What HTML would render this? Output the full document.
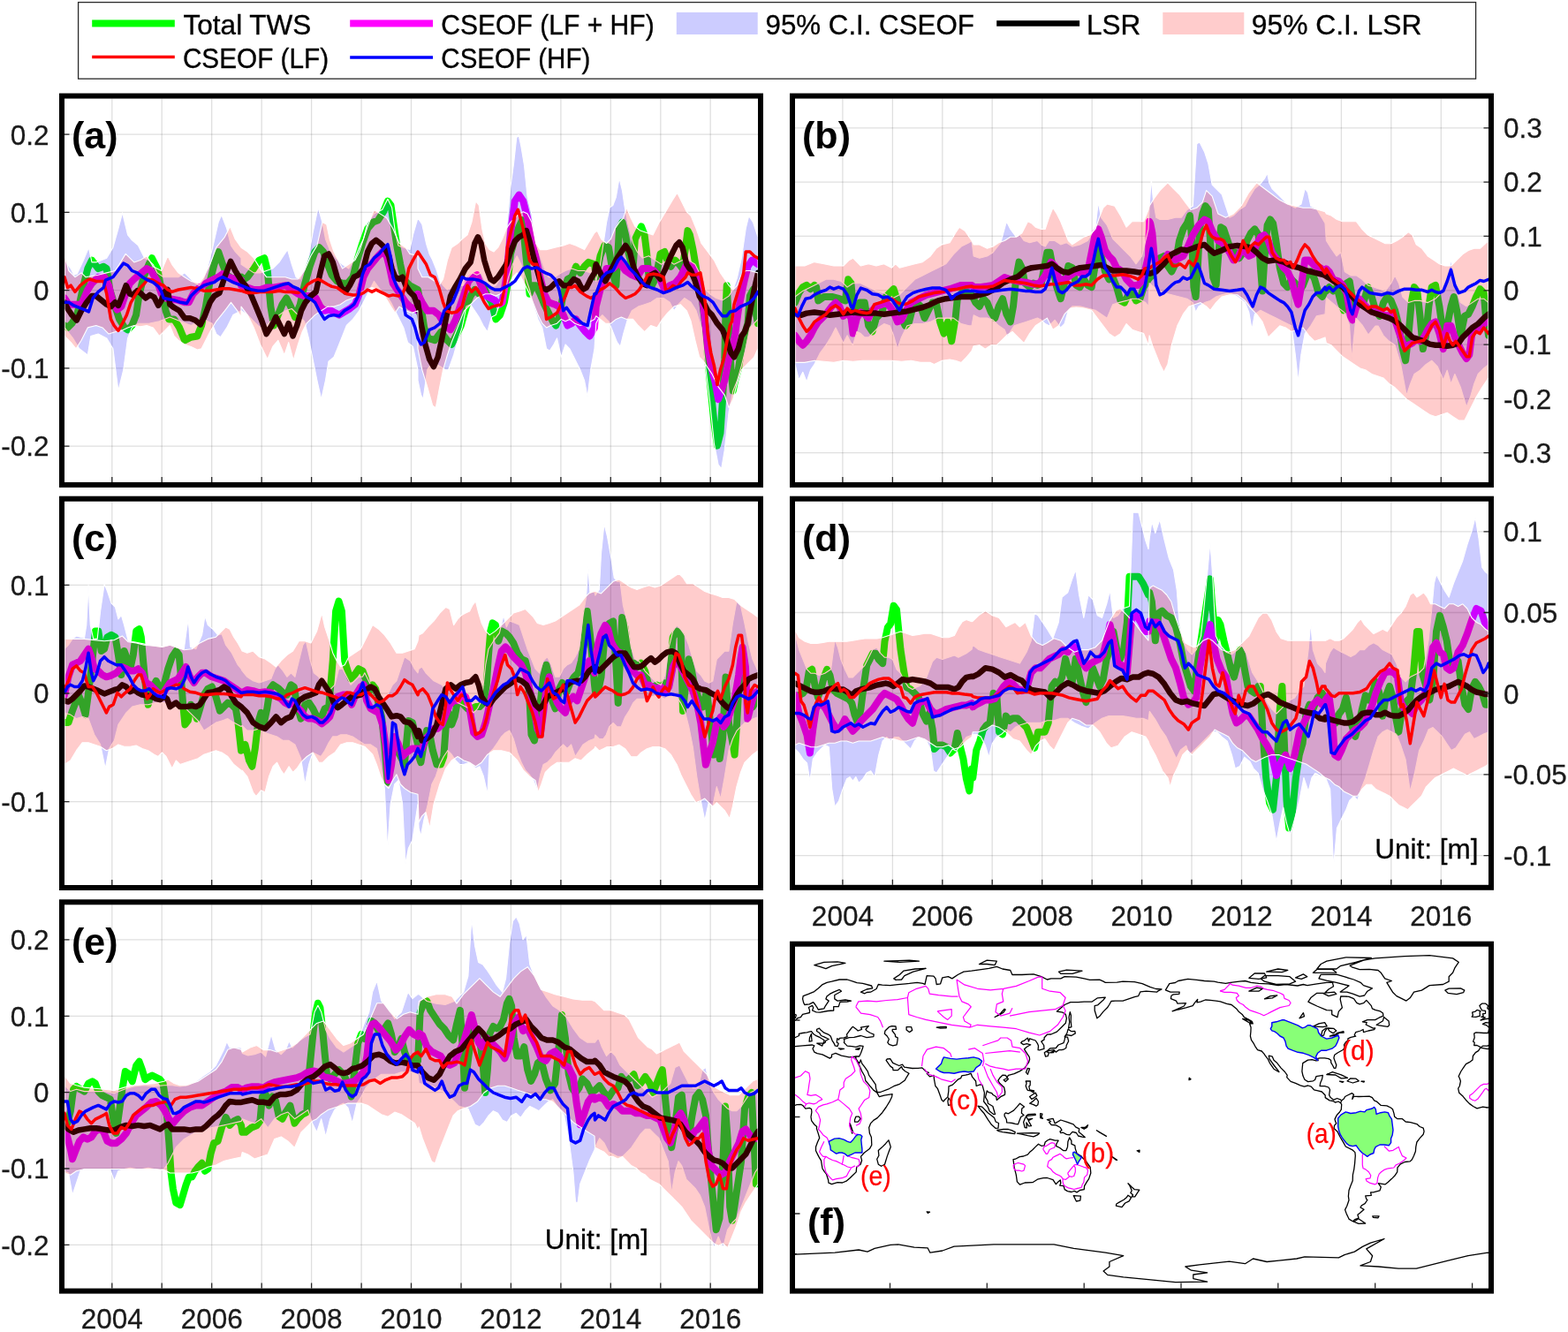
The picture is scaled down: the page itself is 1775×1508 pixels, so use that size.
<!DOCTYPE html>
<html><head><meta charset="utf-8"><title>TWS</title>
<style>html,body{margin:0;padding:0;background:#fff;} svg{display:block;}</style>
</head><body>
<svg width="1775" height="1508" viewBox="0 0 1775 1508" font-family="'Liberation Sans', Arial, Helvetica, sans-serif">
<rect width="100%" height="100%" fill="#fff"/>
<rect x="88.6" y="2.6" width="1582" height="86.6" fill="#fff" stroke="#2a2a2a" stroke-width="1.3"/>
<line x1="104.2" y1="26.5" x2="197.8" y2="26.5" stroke="#00ff00" stroke-width="8"/>
<text x="207.6" y="38.9" font-size="31.5" fill="#000" stroke="#000" stroke-width="0.35">Total TWS</text>
<line x1="104.2" y1="64.6" x2="197.8" y2="64.6" stroke="#ff0000" stroke-width="3.5"/>
<text x="206.9" y="76.6" font-size="31.5" fill="#000" stroke="#000" stroke-width="0.35" textLength="165.2" lengthAdjust="spacingAndGlyphs">CSEOF (LF)</text>
<line x1="396.2" y1="26.5" x2="490.0" y2="26.5" stroke="#ff00ff" stroke-width="8"/>
<text x="499.3" y="38.9" font-size="31.5" fill="#000" stroke="#000" stroke-width="0.35" textLength="241.4" lengthAdjust="spacingAndGlyphs">CSEOF (LF + HF)</text>
<line x1="396.2" y1="65.0" x2="490.0" y2="65.0" stroke="#0000ff" stroke-width="3.5"/>
<text x="499.3" y="76.6" font-size="31.5" fill="#000" stroke="#000" stroke-width="0.35" textLength="169.0" lengthAdjust="spacingAndGlyphs">CSEOF (HF)</text>
<rect x="765.8" y="14" width="91.9" height="25" fill="#ccccff"/>
<text x="866.6" y="38.9" font-size="31.5" fill="#000" stroke="#000" stroke-width="0.35" textLength="236.2" lengthAdjust="spacingAndGlyphs">95% C.I. CSEOF</text>
<line x1="1128.2" y1="26.5" x2="1222.1" y2="26.5" stroke="#000000" stroke-width="6.5"/>
<text x="1230.0" y="38.9" font-size="31.5" fill="#000" stroke="#000" stroke-width="0.35">LSR</text>
<rect x="1316.3" y="14" width="92.0" height="25" fill="#ffcccc"/>
<text x="1416.8" y="38.9" font-size="31.5" fill="#000" stroke="#000" stroke-width="0.35" textLength="192.7" lengthAdjust="spacingAndGlyphs">95% C.I. LSR</text>
<g id="pana">
<clipPath id="clipa"><rect x="73" y="111.6" width="785.0" height="434.3"/></clipPath>
<path d="M126.8 111.6V545.9 M183.2 111.6V545.9 M239.7 111.6V545.9 M296.2 111.6V545.9 M352.6 111.6V545.9 M409.1 111.6V545.9 M465.5 111.6V545.9 M522.0 111.6V545.9 M578.4 111.6V545.9 M634.9 111.6V545.9 M691.3 111.6V545.9 M747.8 111.6V545.9 M804.2 111.6V545.9" stroke="#262626" stroke-opacity="0.15" stroke-width="1.3" fill="none"/>
<path d="M73 152.2H858 M73 240.4H858 M73 328.6H858 M73 416.9H858 M73 505.1H858" stroke="#262626" stroke-opacity="0.15" stroke-width="1.3" fill="none"/>
<g clip-path="url(#clipa)"><path d="M73.0 368.5 L76.6 370.9 L81.4 366.2 L87.3 356.6 L94.5 323.2 L99.3 304.1 L104.0 294.6 L111.2 304.1 L117.2 301.7 L120.7 304.1 L124.3 328.0 L130.3 347.1 L135.1 361.4 L141.0 370.9 L144.6 373.3 L149.4 368.5 L154.1 356.6 L157.7 332.7 L162.5 313.7 L168.5 299.3 L172.0 292.2 L178.0 304.1 L182.8 328.0 L187.6 351.8 L191.1 361.4 L197.1 361.4 L203.1 370.9 L209.0 385.3 L216.2 381.7 L223.4 380.5 L228.1 368.5 L232.9 347.1 L237.7 318.4 L242.5 299.3 L247.2 285.0 L252.0 299.3 L256.8 311.3 L263.9 316.0 L273.0 313.7 L273.0 318.4 L280.2 313.7 L287.3 304.1 L293.3 294.6 L299.3 292.2 L302.8 306.5 L306.4 347.1 L310.0 368.5 L314.8 356.6 L319.5 344.7 L324.3 337.5 L329.1 347.1 L333.9 359.0 L339.8 344.7 L344.6 323.2 L350.6 301.7 L356.5 285.0 L361.3 280.2 L366.1 285.0 L370.9 299.3 L375.6 311.3 L381.6 318.4 L387.6 320.8 L393.5 320.8 L399.5 313.7 L404.3 294.6 L410.2 275.5 L416.2 258.8 L422.2 251.6 L428.1 249.2 L434.1 239.7 L438.9 227.7 L442.5 232.5 L446.0 256.4 L449.6 280.2 L453.2 299.3 L456.8 316.0 L463.9 323.2 L473.0 328.0 L473.0 328.0 L476.6 347.1 L480.2 370.9 L484.9 382.9 L492.1 385.3 L499.3 375.7 L506.4 385.3 L511.2 390.0 L517.2 378.1 L521.9 368.5 L527.9 347.1 L532.7 335.1 L537.4 328.0 L542.2 332.7 L547.0 323.2 L551.8 335.1 L556.5 342.3 L561.3 361.4 L566.1 356.6 L570.9 342.3 L574.4 323.2 L578.0 287.4 L582.8 270.7 L587.6 256.4 L591.1 249.2 L593.5 270.7 L595.9 294.6 L599.5 332.7 L603.1 323.2 L606.7 323.2 L611.4 332.7 L616.2 344.7 L621.0 354.2 L625.7 363.8 L629.3 368.5 L632.9 359.0 L637.7 332.7 L642.5 316.0 L647.2 313.7 L652.0 301.7 L656.8 308.9 L661.5 301.7 L666.3 296.9 L673.0 299.3 L674.7 313.7 L679.5 289.8 L684.3 277.9 L689.0 280.2 L693.8 308.9 L697.4 323.2 L701.0 258.8 L704.5 251.6 L708.1 265.9 L711.7 287.4 L716.5 304.1 L718.9 270.7 L722.4 263.5 L726.0 256.4 L729.6 265.9 L732.0 285.0 L734.4 311.3 L738.0 323.2 L742.7 313.7 L747.5 287.4 L752.3 285.0 L755.9 296.9 L759.4 301.7 L764.2 294.6 L769.0 299.3 L772.6 304.1 L776.1 280.2 L778.5 261.1 L780.9 265.9 L784.5 282.6 L788.1 304.1 L791.7 323.2 L795.2 342.3 L798.8 370.9 L801.2 406.7 L803.6 430.6 L806.0 454.5 L808.4 478.3 L811.9 504.6 L815.5 490.3 L817.9 454.5 L820.3 406.7 L821.5 351.8 L822.7 323.2 L825.1 366.2 L827.5 418.7 L829.8 442.5 L832.2 430.6 L835.8 418.7 L839.4 394.8 L843.0 378.1 L846.5 366.2 L848.9 335.1 L852.5 328.0 L856.1 356.6 L858.0 366.2" fill="none" stroke="#00ff00" stroke-width="8" stroke-linejoin="round" stroke-linecap="round"/>
<path d="M73.0 337.5 L77.8 344.7 L84.9 344.7 L92.1 344.7 L99.3 328.0 L104.0 320.8 L111.2 313.7 L118.3 313.7 L123.1 323.2 L127.9 342.3 L132.7 350.6 L137.4 347.1 L142.2 332.7 L147.0 320.8 L151.8 316.0 L158.9 310.1 L166.1 304.1 L170.9 306.5 L178.0 318.4 L182.8 332.7 L187.6 337.5 L194.7 338.7 L201.9 339.9 L209.0 342.3 L213.8 342.3 L218.6 332.7 L225.7 325.6 L232.9 320.8 L240.1 317.2 L247.2 313.7 L252.0 310.1 L259.2 313.7 L266.3 316.0 L273.0 317.2 L273.0 323.2 L280.2 325.6 L287.3 328.0 L294.5 328.0 L301.6 325.6 L308.8 325.6 L316.0 324.4 L323.1 323.2 L330.3 328.0 L337.4 332.7 L344.6 335.1 L351.8 335.1 L357.7 337.5 L362.5 347.1 L367.3 351.8 L373.2 350.6 L379.2 354.2 L384.0 356.6 L389.9 353.0 L395.9 349.5 L401.9 344.7 L406.7 332.7 L411.4 313.7 L416.2 304.1 L422.2 296.9 L428.1 289.8 L432.9 285.0 L437.7 289.8 L441.3 304.1 L444.8 320.8 L449.6 328.0 L454.4 335.1 L459.2 342.3 L463.9 347.1 L468.7 349.5 L473.0 351.8 L473.0 332.7 L477.8 342.3 L483.7 351.8 L490.9 351.8 L496.9 356.6 L504.0 368.5 L510.0 373.3 L516.0 361.4 L520.7 347.1 L525.5 332.7 L530.3 318.4 L535.1 313.7 L539.8 311.3 L544.6 323.2 L550.6 335.1 L555.3 337.5 L560.1 339.9 L564.9 344.7 L568.5 342.3 L573.2 313.7 L578.0 263.5 L582.8 227.7 L587.6 220.6 L592.3 227.7 L597.1 246.8 L601.9 270.7 L606.7 292.2 L611.4 313.7 L616.2 332.7 L621.0 342.3 L628.1 344.7 L632.9 347.1 L637.7 356.6 L642.5 368.5 L647.2 366.2 L652.0 361.4 L656.8 368.5 L662.7 375.7 L667.5 380.5 L673.0 370.9 L674.7 347.1 L677.1 337.5 L681.9 318.4 L686.6 304.1 L693.8 304.1 L701.0 296.9 L708.1 306.5 L715.3 311.3 L721.2 313.7 L727.2 304.1 L734.4 304.1 L740.3 306.5 L746.3 313.7 L752.3 328.0 L758.2 323.2 L764.2 320.8 L770.2 313.7 L777.3 299.3 L783.3 301.7 L788.1 308.9 L792.8 320.8 L797.6 359.0 L801.2 394.8 L806.0 418.7 L809.6 433.0 L813.1 452.1 L816.7 442.5 L820.3 430.6 L825.1 406.7 L828.6 394.8 L832.2 378.1 L835.8 351.8 L839.4 332.7 L843.0 316.0 L846.5 301.7 L851.3 294.6 L858.0 299.3" fill="none" stroke="#ff00ff" stroke-width="8" stroke-linejoin="round" stroke-linecap="round"/>
<path d="M73.0 294.6 L80.2 304.1 L83.7 311.3 L87.3 310.1 L94.5 294.6 L100.4 280.2 L104.0 296.9 L108.8 296.9 L120.7 292.2 L127.9 280.2 L133.9 258.8 L138.6 240.9 L144.6 265.9 L149.4 271.9 L156.5 277.9 L163.7 292.2 L168.5 294.6 L173.2 299.3 L178.0 308.9 L185.2 313.7 L194.7 313.7 L201.9 313.7 L209.0 308.9 L213.8 313.7 L221.0 320.8 L225.7 323.2 L230.5 316.0 L235.3 301.7 L240.1 282.6 L247.2 251.6 L250.8 243.2 L256.8 258.8 L261.5 277.9 L266.3 285.0 L273.0 292.2 L273.0 299.3 L280.2 304.1 L287.3 308.9 L294.5 308.9 L301.6 306.5 L308.8 304.1 L316.0 296.9 L320.7 289.8 L325.5 282.6 L330.3 299.3 L335.1 313.7 L339.8 316.0 L344.6 304.1 L349.4 289.8 L354.1 263.5 L360.1 234.9 L364.9 251.6 L368.5 270.7 L373.2 282.6 L380.4 292.2 L387.6 299.3 L394.7 304.1 L401.9 292.2 L406.7 280.2 L411.4 270.7 L416.2 251.6 L423.4 242.1 L428.1 239.7 L432.9 237.3 L438.9 225.3 L443.6 234.9 L447.2 261.1 L450.8 277.9 L456.8 280.2 L463.9 282.6 L467.5 265.9 L473.0 246.8 L473.0 246.8 L477.8 254.0 L482.5 275.5 L486.1 287.4 L489.7 294.6 L494.5 306.5 L498.1 318.4 L501.6 323.2 L506.4 328.0 L511.2 325.6 L518.3 323.2 L524.3 323.2 L530.3 313.7 L535.1 308.9 L539.8 311.3 L544.6 308.9 L551.8 323.2 L556.5 325.6 L561.3 323.2 L568.5 311.3 L573.2 261.1 L578.0 211.0 L581.6 184.8 L584.7 156.1 L587.1 152.6 L589.9 165.7 L593.5 187.2 L597.1 223.0 L601.9 242.1 L606.7 275.5 L611.4 289.8 L616.2 304.1 L621.0 313.7 L628.1 313.7 L635.3 308.9 L640.1 306.5 L647.2 304.1 L654.4 306.5 L661.5 306.5 L668.7 308.9 L673.0 304.1 L674.7 318.4 L679.5 299.3 L686.6 251.6 L690.2 234.9 L693.8 232.5 L697.4 223.0 L701.0 201.5 L704.5 215.8 L706.9 232.5 L710.5 251.6 L716.5 275.5 L721.2 285.0 L727.2 292.2 L734.4 289.8 L741.5 294.6 L748.7 299.3 L755.9 294.6 L763.0 299.3 L772.6 294.6 L779.7 294.6 L786.9 299.3 L794.0 313.7 L798.8 328.0 L803.6 332.7 L810.7 337.5 L817.9 339.9 L825.1 335.1 L829.8 328.0 L834.6 313.7 L839.4 292.2 L844.2 258.8 L847.7 244.4 L852.5 251.6 L858.0 268.3 L858.0 361.4 L853.7 366.2 L848.9 370.9 L844.2 394.8 L839.4 413.9 L834.6 430.6 L829.8 442.5 L825.1 466.4 L820.3 509.4 L816.7 530.8 L813.1 526.1 L808.4 502.2 L803.6 454.5 L798.8 416.3 L794.0 370.9 L788.1 351.8 L782.1 342.3 L774.9 337.5 L767.8 344.7 L763.0 351.8 L758.2 342.3 L751.1 337.5 L743.9 337.5 L736.8 342.3 L729.6 344.7 L722.4 347.1 L715.3 351.8 L710.5 361.4 L705.7 378.1 L702.2 392.4 L698.6 387.6 L693.8 375.7 L689.0 363.8 L681.9 356.6 L677.1 361.4 L674.7 366.2 L673.0 394.8 L668.7 418.7 L665.1 449.7 L661.5 430.6 L656.8 418.7 L650.8 406.7 L644.8 394.8 L640.1 390.0 L635.3 404.3 L630.5 382.9 L626.9 390.0 L622.2 397.2 L618.6 394.8 L613.8 370.9 L609.0 361.4 L604.3 347.1 L599.5 328.0 L594.7 313.7 L589.9 299.3 L585.2 289.8 L580.4 299.3 L575.6 313.7 L570.9 332.7 L566.1 342.3 L561.3 356.6 L556.5 359.0 L551.8 375.7 L547.0 368.5 L542.2 359.0 L537.4 351.8 L532.7 344.7 L527.9 347.1 L523.1 370.9 L518.3 385.3 L513.6 402.0 L507.6 418.7 L504.0 418.7 L496.9 413.9 L489.7 409.1 L483.7 418.7 L479.0 452.1 L476.6 447.3 L473.0 430.6 L473.0 418.7 L467.5 392.4 L461.5 387.6 L456.8 370.9 L449.6 356.6 L442.5 342.3 L437.7 335.1 L430.5 328.0 L423.4 318.4 L416.2 332.7 L411.4 342.3 L406.7 351.8 L399.5 361.4 L392.3 368.5 L387.6 380.5 L382.8 392.4 L378.0 404.3 L372.0 409.1 L368.5 430.6 L363.7 452.1 L358.9 430.6 L354.1 406.7 L349.4 382.9 L344.6 363.8 L337.4 356.6 L330.3 349.5 L323.1 351.8 L316.0 356.6 L308.8 361.4 L301.6 368.5 L294.5 370.9 L287.3 363.8 L280.2 356.6 L273.0 351.8 L273.0 351.8 L263.9 356.6 L256.8 370.9 L249.6 381.7 L244.8 378.1 L240.1 366.2 L230.5 361.4 L216.2 368.5 L204.3 363.8 L192.3 359.0 L180.4 363.8 L168.5 366.2 L156.5 366.2 L149.4 370.9 L144.6 382.9 L139.8 418.7 L133.9 442.5 L127.9 394.8 L120.7 382.9 L111.2 378.1 L102.8 380.5 L99.3 402.0 L89.7 394.8 L82.5 382.9 L73.0 370.9Z" fill="#0000ff" fill-opacity="0.2" stroke="#ffffff" stroke-width="1.1" stroke-linejoin="round"/>
<path d="M73.0 342.3 L76.6 349.5 L81.4 356.6 L86.8 362.6 L92.1 351.8 L98.1 342.3 L104.0 335.1 L108.8 335.1 L114.8 339.9 L120.7 344.7 L125.5 347.1 L130.3 342.3 L133.9 345.9 L137.4 337.5 L142.7 323.2 L147.0 332.7 L150.6 333.9 L155.3 329.2 L160.1 332.7 L164.9 337.5 L169.7 333.9 L174.4 336.3 L179.2 345.9 L182.8 339.9 L186.4 330.4 L189.9 328.0 L192.3 344.7 L197.1 348.3 L203.1 351.8 L209.0 360.2 L215.0 360.2 L221.0 362.6 L226.9 367.4 L231.7 357.8 L237.7 342.3 L242.5 335.1 L248.4 331.6 L254.4 313.7 L261.1 295.8 L266.3 306.5 L273.0 317.2 L273.0 317.2 L277.8 323.2 L283.7 332.7 L289.7 347.1 L295.7 361.4 L301.6 378.1 L307.6 368.5 L312.4 359.0 L318.3 370.9 L321.9 378.1 L326.7 366.2 L331.5 380.5 L336.2 368.5 L341.0 351.8 L345.8 342.3 L351.8 335.1 L357.7 330.4 L362.5 308.9 L367.3 289.8 L372.0 287.4 L376.8 296.9 L381.6 313.7 L386.4 325.6 L391.1 330.4 L395.9 323.2 L400.7 313.7 L405.5 311.3 L411.4 304.1 L416.2 285.0 L421.0 275.5 L425.7 271.9 L430.5 275.5 L435.3 280.2 L440.1 289.8 L443.6 304.1 L447.2 313.7 L452.0 316.0 L455.6 313.7 L459.2 323.2 L463.9 330.4 L468.7 335.1 L473.0 347.1 L473.0 342.3 L476.6 366.2 L481.4 390.0 L486.1 406.7 L490.9 415.1 L495.7 404.3 L500.4 382.9 L505.2 359.0 L510.0 335.1 L514.8 325.6 L520.7 316.0 L526.7 304.1 L532.7 296.9 L537.4 275.5 L541.0 268.3 L544.6 275.5 L548.2 294.6 L551.8 306.5 L555.3 316.0 L558.9 318.4 L563.7 313.7 L568.5 306.5 L573.2 299.3 L578.0 285.0 L582.8 273.1 L587.6 268.3 L592.3 265.9 L595.9 261.1 L599.5 273.1 L604.3 292.2 L609.0 308.9 L613.8 325.6 L618.6 328.0 L623.4 325.6 L628.1 320.8 L632.9 318.4 L637.7 323.2 L643.6 323.2 L649.6 316.0 L654.4 318.4 L659.2 328.0 L663.9 325.6 L668.7 316.0 L673.0 308.9 L674.7 299.3 L680.7 311.3 L685.4 318.4 L691.4 306.5 L698.6 292.2 L708.1 277.9 L712.9 285.0 L717.7 304.1 L722.4 313.7 L727.2 320.8 L732.0 323.2 L736.8 311.3 L741.5 308.9 L747.5 316.0 L753.5 304.1 L759.4 289.8 L765.4 277.9 L769.0 274.3 L772.6 280.2 L777.3 299.3 L782.1 306.5 L786.9 318.4 L791.7 335.1 L796.4 342.3 L801.2 351.8 L806.0 356.6 L811.9 366.2 L817.9 373.3 L822.7 385.3 L827.5 399.6 L831.0 404.3 L835.8 394.8 L839.4 380.5 L843.0 375.7 L846.5 366.2 L850.1 347.1 L853.7 328.0 L858.0 308.9" fill="none" stroke="#000000" stroke-width="6.5" stroke-linejoin="round" stroke-linecap="round"/>
<path d="M73.0 287.4 L77.8 306.5 L84.9 313.7 L92.1 308.9 L96.9 313.7 L104.0 312.5 L111.2 311.3 L120.7 308.9 L130.3 306.5 L135.1 299.3 L142.2 287.4 L151.8 296.9 L158.9 294.6 L166.1 289.8 L173.2 301.7 L182.8 306.5 L189.9 289.8 L194.7 299.3 L201.9 308.9 L209.0 313.7 L216.2 318.4 L225.7 320.8 L230.5 313.7 L237.7 299.3 L244.8 280.2 L254.4 268.3 L260.4 256.4 L266.3 270.7 L273.0 280.2 L273.0 280.2 L280.2 285.0 L287.3 292.2 L294.5 304.1 L301.6 313.7 L308.8 313.7 L316.0 313.7 L323.1 313.7 L330.3 316.0 L337.4 316.0 L344.6 306.5 L351.8 289.8 L358.9 277.9 L364.9 251.6 L369.7 254.0 L373.2 270.7 L378.0 285.0 L382.8 294.6 L387.6 304.1 L394.7 299.3 L401.9 294.6 L406.7 285.0 L411.4 270.7 L416.2 256.4 L423.4 237.3 L430.5 242.1 L437.7 246.8 L444.8 258.8 L452.0 275.5 L459.2 280.2 L463.9 287.4 L473.0 289.8 L473.0 304.1 L477.8 313.7 L484.9 313.7 L492.1 318.4 L496.9 323.2 L501.6 316.0 L506.4 294.6 L511.2 280.2 L518.3 275.5 L523.1 270.7 L529.1 265.9 L533.9 251.6 L538.6 227.7 L542.2 232.5 L545.8 258.8 L549.4 275.5 L554.1 282.6 L558.9 285.0 L563.7 280.2 L568.5 270.7 L573.2 258.8 L578.0 251.6 L582.8 246.8 L587.6 242.1 L592.3 239.7 L597.1 242.1 L601.9 251.6 L606.7 275.5 L611.4 282.6 L618.6 282.6 L628.1 280.2 L637.7 277.9 L644.8 275.5 L652.0 277.9 L661.5 282.6 L668.7 270.7 L673.0 263.5 L674.7 262.3 L675.9 261.1 L680.7 270.7 L686.6 275.5 L691.4 270.7 L696.2 258.8 L701.0 251.6 L705.7 246.8 L709.3 234.9 L714.1 246.8 L718.9 256.4 L724.8 261.1 L732.0 263.5 L739.1 265.9 L746.3 251.6 L753.5 239.7 L760.6 227.7 L766.6 218.2 L771.4 227.7 L777.3 239.7 L782.1 244.4 L788.1 258.8 L794.0 275.5 L801.2 285.0 L808.4 294.6 L815.5 308.9 L820.3 316.0 L825.1 323.2 L829.8 328.0 L834.6 323.2 L839.4 311.3 L844.2 306.5 L848.9 306.5 L858.0 308.9 L858.0 394.8 L853.7 404.3 L848.9 409.1 L844.2 413.9 L839.4 418.7 L834.6 433.0 L829.8 452.1 L825.1 461.6 L820.3 447.3 L813.1 437.8 L806.0 423.4 L801.2 416.3 L796.4 409.1 L791.7 404.3 L786.9 385.3 L782.1 363.8 L777.3 351.8 L770.2 344.7 L763.0 347.1 L755.9 354.2 L749.9 361.4 L743.9 370.9 L736.8 368.5 L729.6 375.7 L722.4 368.5 L716.5 361.4 L709.3 361.4 L703.3 359.0 L697.4 361.4 L691.4 366.2 L685.4 366.2 L679.5 361.4 L674.7 357.8 L673.0 361.4 L663.9 366.2 L656.8 368.5 L650.8 366.2 L644.8 361.4 L640.1 363.8 L635.3 361.4 L630.5 366.2 L623.4 368.5 L618.6 370.9 L613.8 366.2 L609.0 356.6 L604.3 344.7 L599.5 332.7 L594.7 323.2 L589.9 313.7 L585.2 308.9 L580.4 313.7 L575.6 323.2 L570.9 328.0 L566.1 332.7 L561.3 335.1 L555.3 332.7 L549.4 332.7 L544.6 335.1 L539.8 337.5 L535.1 342.3 L530.3 347.1 L525.5 351.8 L520.7 363.8 L516.0 375.7 L511.2 387.6 L506.4 402.0 L501.6 418.7 L496.9 442.5 L493.3 461.6 L489.7 459.2 L483.7 437.8 L477.8 418.7 L473.0 394.8 L473.0 351.8 L466.3 354.2 L459.2 351.8 L452.0 347.1 L447.2 354.2 L442.5 347.1 L435.3 335.1 L428.1 328.0 L421.0 325.6 L413.8 328.0 L406.7 332.7 L399.5 337.5 L392.3 339.9 L385.2 344.7 L378.0 347.1 L370.9 347.1 L363.7 351.8 L356.5 356.6 L351.8 361.4 L347.0 366.2 L342.2 375.7 L337.4 390.0 L332.2 407.9 L326.7 387.6 L321.9 402.0 L314.8 385.3 L308.8 392.4 L302.8 406.7 L294.5 390.0 L287.3 370.9 L280.2 356.6 L273.0 347.1 L273.0 359.0 L268.7 351.8 L261.5 342.3 L254.4 351.8 L244.8 363.8 L237.7 375.7 L232.9 385.3 L228.1 394.8 L223.4 396.0 L216.2 392.4 L209.0 390.0 L201.9 385.3 L197.1 380.5 L192.3 368.5 L185.2 375.7 L180.4 380.5 L173.2 370.9 L166.1 368.5 L158.9 369.7 L151.8 368.5 L144.6 370.9 L137.4 374.5 L130.3 375.7 L123.1 378.1 L116.0 370.9 L108.8 368.5 L99.3 370.9 L92.1 385.3 L86.1 394.8 L80.2 387.6 L73.0 380.5Z" fill="#ff0000" fill-opacity="0.2" stroke="#ffffff" stroke-width="1.1" stroke-linejoin="round"/>
<path d="M73.0 313.7 L76.6 325.6 L80.2 323.2 L84.9 330.4 L90.9 323.2 L96.9 318.4 L101.6 316.0 L108.8 318.4 L117.2 318.4 L120.7 332.7 L123.1 347.1 L125.5 361.4 L129.1 368.5 L133.9 374.5 L138.6 366.2 L143.4 356.6 L148.2 342.3 L154.1 332.7 L158.9 325.6 L163.7 320.8 L167.3 316.0 L173.2 317.2 L179.2 320.8 L185.2 323.2 L189.9 328.0 L194.7 330.4 L201.9 328.0 L209.0 326.8 L216.2 325.6 L223.4 326.8 L230.5 329.2 L237.7 329.2 L244.8 328.0 L252.0 326.8 L259.2 326.8 L266.3 328.0 L273.0 329.2 L273.0 329.2 L280.2 331.6 L287.3 331.6 L294.5 330.4 L301.6 330.4 L308.8 330.4 L316.0 329.2 L323.1 330.4 L330.3 330.4 L337.4 331.6 L343.4 328.0 L348.2 322.0 L354.1 318.4 L360.1 316.0 L364.9 318.4 L370.9 322.0 L375.6 324.4 L381.6 325.6 L386.4 329.2 L392.3 332.7 L399.5 333.9 L405.5 333.9 L411.4 331.6 L416.2 328.0 L421.0 330.4 L425.7 328.0 L430.5 330.4 L435.3 332.7 L440.1 335.1 L444.8 333.9 L450.8 335.1 L455.6 333.9 L459.2 323.2 L462.7 304.1 L467.5 294.6 L473.0 285.0 L473.0 285.0 L477.8 292.2 L482.5 299.3 L487.3 311.3 L492.1 313.7 L496.9 325.6 L501.6 342.3 L505.2 351.8 L511.2 354.2 L517.2 353.0 L523.1 347.1 L529.1 323.2 L533.9 330.4 L538.6 325.6 L543.4 332.7 L548.2 342.3 L553.0 349.5 L557.7 347.1 L562.5 345.9 L567.3 344.7 L570.9 328.0 L574.4 280.2 L578.0 263.5 L582.8 244.4 L586.4 237.3 L591.1 254.0 L595.9 275.5 L599.5 294.6 L603.1 299.3 L607.8 299.3 L611.4 323.2 L616.2 342.3 L618.6 361.4 L623.4 359.0 L630.5 354.2 L635.3 344.7 L640.1 335.1 L643.6 325.6 L647.2 325.6 L650.8 323.2 L656.8 330.4 L663.9 335.1 L668.7 337.5 L673.0 335.1 L674.7 331.6 L679.5 328.0 L684.3 325.6 L690.2 320.8 L696.2 325.6 L702.2 332.7 L708.1 337.5 L714.1 335.1 L718.9 332.7 L723.6 328.0 L729.6 318.4 L733.2 311.3 L739.1 310.1 L746.3 311.3 L751.1 313.7 L753.5 328.0 L757.0 328.0 L761.8 323.2 L766.6 325.6 L771.4 318.4 L776.1 313.7 L778.5 308.9 L783.3 311.3 L788.1 311.3 L792.8 308.9 L796.4 328.0 L798.8 347.1 L801.2 378.1 L804.8 399.6 L808.4 413.9 L811.9 435.4 L815.5 418.7 L819.1 406.7 L822.7 387.6 L826.3 368.5 L828.6 363.8 L831.0 344.7 L834.6 332.7 L838.2 320.8 L841.8 308.9 L844.2 285.0 L848.9 285.0 L853.7 289.8 L858.0 292.2" fill="none" stroke="#ff0000" stroke-width="3.5" stroke-linejoin="round" stroke-linecap="round"/>
<path d="M73.0 342.3 L77.8 342.3 L83.7 345.9 L89.7 348.3 L95.7 350.6 L100.4 353.0 L105.2 337.5 L111.2 330.4 L117.2 325.6 L119.5 317.2 L127.9 313.7 L135.1 304.1 L139.8 298.1 L144.6 300.5 L149.4 306.5 L155.3 308.9 L161.3 313.7 L167.3 317.2 L173.2 319.6 L179.2 324.4 L182.8 330.4 L185.2 337.5 L191.1 338.7 L197.1 339.9 L204.3 342.3 L211.4 343.5 L216.2 335.1 L223.4 328.0 L230.5 323.2 L237.7 320.8 L242.5 319.6 L247.2 316.0 L252.0 313.7 L256.8 316.0 L263.9 319.6 L273.0 323.2 L273.0 323.2 L279.0 325.6 L284.9 328.0 L292.1 329.2 L299.3 329.2 L306.4 326.8 L313.6 324.4 L320.7 322.0 L326.7 320.8 L331.5 324.4 L337.4 326.8 L342.2 330.4 L347.0 336.3 L351.8 338.7 L356.5 342.3 L361.3 351.8 L367.3 361.4 L372.0 357.8 L378.0 356.6 L384.0 357.8 L389.9 351.8 L395.9 348.3 L400.7 344.7 L405.5 335.1 L410.2 311.3 L413.8 301.7 L418.6 299.3 L423.4 292.2 L429.3 287.4 L435.3 280.2 L438.9 276.7 L442.5 292.2 L444.8 313.7 L449.6 325.6 L454.4 332.7 L459.2 356.6 L466.3 361.4 L469.9 370.9 L473.0 382.9 L473.0 382.9 L476.6 390.0 L480.2 387.6 L486.1 373.3 L492.1 370.9 L498.1 366.2 L502.8 351.8 L507.6 347.1 L512.4 342.3 L518.3 328.0 L523.1 313.7 L527.9 316.0 L535.1 316.0 L542.2 317.2 L549.4 320.8 L555.3 325.6 L560.1 328.0 L566.1 328.0 L570.9 325.6 L578.0 322.0 L582.8 318.4 L587.6 311.3 L592.3 304.1 L597.1 301.7 L601.9 304.1 L607.8 302.9 L612.6 306.5 L617.4 308.9 L623.4 311.3 L628.1 316.0 L632.9 328.0 L637.7 351.8 L641.3 348.3 L647.2 356.6 L653.2 361.4 L659.2 366.2 L665.1 368.5 L668.7 351.8 L673.0 332.7 L674.7 332.7 L681.9 313.7 L686.6 308.9 L693.8 306.5 L699.8 294.6 L703.3 291.0 L708.1 296.9 L712.9 304.1 L720.1 311.3 L726.0 318.4 L730.8 323.2 L736.8 325.6 L743.9 328.0 L751.1 331.6 L758.2 329.2 L765.4 325.6 L772.6 323.2 L778.5 319.6 L783.3 324.4 L789.3 329.2 L795.2 335.1 L801.2 337.5 L807.2 342.3 L813.1 351.8 L817.9 357.8 L822.7 357.8 L826.3 353.0 L832.2 351.8 L838.2 347.1 L844.2 344.7 L848.9 342.3 L853.7 337.5 L858.0 330.4" fill="none" stroke="#0000ff" stroke-width="3.5" stroke-linejoin="round" stroke-linecap="round"/></g>
<path d="M126.8 545.9v-6 M183.2 545.9v-6 M239.7 545.9v-6 M296.2 545.9v-6 M352.6 545.9v-6 M409.1 545.9v-6 M465.5 545.9v-6 M522.0 545.9v-6 M578.4 545.9v-6 M634.9 545.9v-6 M691.3 545.9v-6 M747.8 545.9v-6 M804.2 545.9v-6 M73 152.2h5.5 M73 240.4h5.5 M73 328.6h5.5 M73 416.9h5.5 M73 505.1h5.5" stroke="#262626" stroke-width="1.3" fill="none"/>
<rect x="70" y="108.6" width="791.0" height="440.3" fill="none" stroke="#000" stroke-width="6"/>
<text x="55.5" y="163.5" font-size="31.5" text-anchor="end" fill="#1a1a1a" stroke="#1a1a1a" stroke-width="0.3">0.2</text>
<text x="55.5" y="251.7" font-size="31.5" text-anchor="end" fill="#1a1a1a" stroke="#1a1a1a" stroke-width="0.3">0.1</text>
<text x="55.5" y="339.9" font-size="31.5" text-anchor="end" fill="#1a1a1a" stroke="#1a1a1a" stroke-width="0.3">0</text>
<text x="55.5" y="428.2" font-size="31.5" text-anchor="end" fill="#1a1a1a" stroke="#1a1a1a" stroke-width="0.3">-0.1</text>
<text x="55.5" y="516.4" font-size="31.5" text-anchor="end" fill="#1a1a1a" stroke="#1a1a1a" stroke-width="0.3">-0.2</text>
</g>
<g id="panb">
<clipPath id="clipb"><rect x="900" y="111.6" width="785.0" height="434.3"/></clipPath>
<path d="M953.9 111.6V545.9 M1010.4 111.6V545.9 M1066.8 111.6V545.9 M1123.2 111.6V545.9 M1179.7 111.6V545.9 M1236.2 111.6V545.9 M1292.6 111.6V545.9 M1349.0 111.6V545.9 M1405.5 111.6V545.9 M1462.0 111.6V545.9 M1518.4 111.6V545.9 M1574.8 111.6V545.9 M1631.3 111.6V545.9" stroke="#262626" stroke-opacity="0.15" stroke-width="1.3" fill="none"/>
<path d="M900 144.8H1685 M900 206.1H1685 M900 267.4H1685 M900 328.8H1685 M900 390.1H1685 M900 451.4H1685 M900 512.7H1685" stroke="#262626" stroke-opacity="0.15" stroke-width="1.3" fill="none"/>
<g clip-path="url(#clipb)"><path d="M900.0 342.6 L904.4 331.6 L908.8 325.1 L913.1 322.9 L917.5 327.2 L921.9 322.9 L924.1 325.1 L926.3 340.4 L932.8 336.0 L941.6 336.0 L950.3 338.2 L956.9 340.4 L960.2 316.3 L963.5 320.7 L965.6 346.9 L970.0 357.9 L973.3 342.6 L978.8 342.6 L983.2 368.8 L987.5 375.4 L991.9 360.1 L998.5 353.5 L1002.8 336.0 L1007.2 331.6 L1011.6 327.2 L1016.0 340.4 L1020.4 360.1 L1024.7 368.8 L1029.1 364.4 L1033.5 346.9 L1037.9 342.6 L1042.2 346.9 L1046.6 360.1 L1051.0 351.3 L1055.4 342.6 L1059.7 342.6 L1064.1 364.4 L1068.5 377.6 L1072.9 364.4 L1077.2 386.3 L1081.6 360.1 L1083.8 338.2 L1090.4 329.4 L1096.9 331.6 L1100.0 333.8 L1102.2 338.2 L1104.4 342.6 L1108.8 346.9 L1113.1 338.2 L1117.5 342.6 L1121.9 353.5 L1126.3 360.1 L1130.6 346.9 L1135.0 338.2 L1139.4 355.7 L1143.8 364.4 L1147.0 346.9 L1150.3 314.1 L1153.6 296.6 L1156.9 303.2 L1160.2 320.7 L1165.6 325.1 L1170.0 320.7 L1174.4 322.9 L1178.8 320.7 L1182.1 303.2 L1185.3 285.7 L1188.6 285.7 L1191.9 303.2 L1196.3 325.1 L1200.7 338.2 L1205.0 320.7 L1209.4 301.0 L1213.8 303.2 L1218.2 322.9 L1222.5 325.1 L1226.9 316.3 L1231.3 322.9 L1235.7 325.1 L1240.0 298.8 L1243.3 281.3 L1246.6 290.0 L1251.0 307.5 L1255.4 316.3 L1259.7 314.1 L1264.1 325.1 L1268.5 340.4 L1272.9 342.6 L1277.2 333.8 L1281.6 331.6 L1286.0 340.4 L1290.4 338.2 L1294.7 325.1 L1300.0 316.3 L1301.8 314.1 L1304.4 311.9 L1308.8 303.2 L1313.1 292.2 L1317.5 290.0 L1321.9 301.0 L1326.3 307.5 L1330.6 298.8 L1335.0 272.5 L1339.4 259.4 L1343.8 252.8 L1347.0 244.1 L1349.2 272.5 L1351.4 325.1 L1353.6 336.0 L1355.8 303.2 L1358.0 259.4 L1361.3 241.9 L1364.6 233.2 L1367.8 237.5 L1370.0 272.5 L1373.3 314.1 L1376.6 322.9 L1379.9 281.3 L1382.1 257.2 L1385.3 259.4 L1389.7 272.5 L1394.1 285.7 L1398.5 285.7 L1402.8 292.2 L1407.2 285.7 L1411.6 272.5 L1416.0 263.8 L1420.4 259.4 L1424.7 266.0 L1426.9 303.2 L1429.1 329.4 L1431.3 294.4 L1434.6 255.0 L1437.9 248.5 L1441.1 252.8 L1444.4 272.5 L1448.8 303.2 L1453.2 320.7 L1457.5 325.1 L1461.9 316.3 L1466.3 320.7 L1470.7 329.4 L1475.1 322.9 L1479.4 311.9 L1483.8 307.5 L1488.2 316.3 L1492.6 331.6 L1496.9 336.0 L1500.0 329.4 L1501.4 329.4 L1504.7 325.1 L1509.1 329.4 L1513.4 325.1 L1517.8 342.6 L1521.1 351.3 L1524.4 320.7 L1527.7 318.5 L1531.0 338.2 L1535.3 346.9 L1539.7 342.6 L1544.1 340.4 L1548.5 325.1 L1552.8 336.0 L1557.2 351.3 L1561.6 357.9 L1566.0 342.6 L1570.3 336.0 L1574.7 340.4 L1579.1 351.3 L1583.5 368.8 L1587.8 395.1 L1591.1 408.2 L1594.4 379.8 L1597.7 342.6 L1601.0 325.1 L1604.3 329.4 L1607.5 357.9 L1610.8 395.1 L1614.1 379.8 L1617.4 346.9 L1620.7 325.1 L1625.0 322.9 L1629.4 346.9 L1633.8 379.8 L1638.2 368.8 L1642.5 346.9 L1645.8 336.0 L1649.1 351.3 L1653.5 379.8 L1657.9 357.9 L1662.2 355.7 L1666.6 346.9 L1671.0 336.0 L1675.4 327.2 L1679.7 331.6 L1681.9 357.9 L1685.0 379.8" fill="none" stroke="#00ff00" stroke-width="8" stroke-linejoin="round" stroke-linecap="round"/>
<path d="M900.0 379.8 L904.4 386.3 L908.8 390.7 L913.1 386.3 L917.5 379.8 L921.9 371.0 L926.3 364.4 L930.6 360.1 L935.0 355.7 L941.6 346.9 L946.0 342.6 L950.3 346.9 L954.7 357.9 L959.1 353.5 L963.5 360.1 L965.6 377.6 L970.0 360.1 L974.4 353.5 L978.8 355.7 L983.2 360.1 L987.5 351.3 L991.9 346.9 L998.5 344.7 L1002.8 342.6 L1007.2 346.9 L1011.6 353.5 L1016.0 364.4 L1020.4 362.3 L1025.8 351.3 L1031.3 342.6 L1040.0 338.2 L1048.8 333.8 L1057.5 331.6 L1066.3 329.4 L1075.1 327.2 L1081.6 325.1 L1088.2 322.9 L1100.0 322.9 L1102.2 325.1 L1108.8 325.1 L1117.5 324.0 L1124.1 322.9 L1130.6 318.5 L1137.2 314.1 L1143.8 316.3 L1152.5 318.5 L1161.3 319.6 L1170.0 321.8 L1176.6 320.7 L1183.2 311.9 L1189.7 296.6 L1194.1 301.0 L1198.5 316.3 L1205.0 316.3 L1211.6 311.9 L1218.2 307.5 L1224.7 309.7 L1231.3 307.5 L1235.7 285.7 L1240.0 263.8 L1243.3 259.4 L1246.6 268.2 L1251.0 283.5 L1255.4 290.0 L1259.7 294.4 L1264.1 303.2 L1270.7 307.5 L1275.1 316.3 L1281.6 322.9 L1288.2 322.9 L1292.6 318.5 L1296.9 303.2 L1300.0 290.0 L1301.1 250.7 L1302.2 252.8 L1304.4 263.8 L1306.6 290.0 L1308.8 303.2 L1313.1 301.0 L1317.5 294.4 L1321.9 287.9 L1326.3 290.0 L1330.6 294.4 L1335.0 292.2 L1339.4 290.0 L1343.8 281.3 L1350.3 266.0 L1356.9 255.0 L1363.5 248.5 L1367.8 250.7 L1372.2 261.6 L1378.8 272.5 L1383.2 274.7 L1387.5 279.1 L1391.9 285.7 L1396.3 294.4 L1400.7 292.2 L1405.0 283.5 L1409.4 285.7 L1413.8 290.0 L1418.2 287.9 L1422.5 276.9 L1426.9 268.2 L1431.3 266.0 L1435.7 272.5 L1440.0 285.7 L1444.4 292.2 L1448.8 296.6 L1453.2 303.2 L1457.5 307.5 L1461.9 316.3 L1466.3 333.8 L1469.6 344.7 L1472.9 325.1 L1477.2 294.4 L1481.6 294.4 L1488.2 301.0 L1494.7 303.2 L1500.0 307.5 L1501.4 304.3 L1504.7 307.5 L1509.1 316.3 L1515.6 318.5 L1520.0 322.9 L1524.4 331.6 L1528.8 357.9 L1531.0 362.3 L1534.2 351.3 L1538.6 338.2 L1544.1 344.7 L1550.6 351.3 L1557.2 353.5 L1563.8 355.7 L1570.3 357.9 L1576.9 355.7 L1581.3 368.8 L1585.7 381.9 L1590.0 392.9 L1594.4 390.7 L1598.8 388.5 L1603.2 384.1 L1607.5 386.3 L1611.9 381.9 L1616.3 373.2 L1620.7 366.6 L1625.0 364.4 L1629.4 377.6 L1633.8 395.1 L1638.2 368.8 L1642.5 368.8 L1646.9 381.9 L1651.3 390.7 L1655.7 399.5 L1660.1 406.0 L1663.3 401.6 L1666.6 375.4 L1671.0 373.2 L1677.6 368.8 L1685.0 362.3" fill="none" stroke="#ff00ff" stroke-width="8" stroke-linejoin="round" stroke-linecap="round"/>
<path d="M900.0 336.0 L908.8 329.4 L921.9 322.9 L935.0 316.3 L943.8 316.3 L952.5 318.5 L959.1 325.1 L965.6 320.7 L974.4 320.7 L983.2 325.1 L991.9 329.4 L1000.7 331.6 L1009.4 338.2 L1018.2 333.8 L1026.9 325.1 L1035.7 316.3 L1044.4 311.9 L1053.2 307.5 L1061.9 303.2 L1070.7 298.8 L1079.4 287.9 L1088.2 279.1 L1096.9 274.7 L1100.0 272.5 L1102.2 290.0 L1108.8 292.2 L1117.5 290.0 L1124.1 285.7 L1132.8 274.7 L1139.4 250.7 L1143.8 259.4 L1150.3 268.2 L1154.7 266.0 L1159.1 272.5 L1165.6 274.7 L1174.4 272.5 L1178.8 276.9 L1183.2 279.1 L1187.5 272.5 L1194.1 272.5 L1200.7 276.9 L1207.2 274.7 L1213.8 279.1 L1222.5 276.9 L1231.3 272.5 L1240.0 257.2 L1243.3 228.8 L1246.6 246.3 L1253.2 255.0 L1259.7 270.4 L1266.3 276.9 L1272.9 283.5 L1279.4 290.0 L1286.0 298.8 L1292.6 290.0 L1300.0 259.4 L1301.1 233.2 L1303.3 202.5 L1305.5 226.6 L1308.8 246.3 L1313.1 248.5 L1321.9 248.5 L1330.6 246.3 L1337.2 246.3 L1343.8 237.5 L1350.3 233.2 L1354.7 163.1 L1358.0 160.9 L1363.5 171.9 L1367.8 185.0 L1372.2 209.1 L1376.6 213.5 L1383.2 220.0 L1387.5 233.2 L1391.9 246.3 L1396.3 244.1 L1402.8 237.5 L1409.4 233.2 L1413.8 224.4 L1420.4 213.5 L1425.8 209.1 L1431.3 202.5 L1434.6 196.0 L1436.8 206.9 L1440.0 213.5 L1448.8 222.2 L1457.5 231.0 L1466.3 235.3 L1472.9 231.0 L1477.2 213.5 L1480.5 217.8 L1483.8 233.2 L1490.4 236.4 L1500.0 252.8 L1501.4 272.5 L1506.9 281.3 L1513.0 290.0 L1517.8 285.7 L1522.2 307.5 L1528.8 311.9 L1535.3 311.9 L1541.9 316.3 L1548.5 322.9 L1555.0 325.1 L1561.6 327.2 L1568.2 329.4 L1574.7 320.7 L1579.1 311.9 L1583.5 320.7 L1587.8 336.0 L1594.4 342.6 L1601.0 340.4 L1607.5 340.4 L1616.3 342.6 L1625.0 338.2 L1631.6 331.6 L1638.2 320.7 L1642.5 292.2 L1646.9 325.1 L1653.5 342.6 L1660.1 346.9 L1666.6 342.6 L1673.2 338.2 L1679.7 338.2 L1685.0 342.6 L1685.0 412.6 L1679.7 417.0 L1673.2 423.5 L1668.8 434.5 L1664.4 449.8 L1660.1 460.7 L1653.5 438.8 L1646.9 423.5 L1642.5 434.5 L1638.2 419.1 L1633.8 430.1 L1627.2 414.8 L1620.7 408.2 L1614.1 412.6 L1607.5 419.1 L1601.0 423.5 L1596.6 434.5 L1592.2 447.6 L1585.7 412.6 L1579.1 390.7 L1572.5 386.3 L1566.0 379.8 L1560.1 369.0 L1557.0 369.0 L1548.9 379.1 L1541.9 367.9 L1534.9 360.1 L1530.1 406.9 L1527.5 367.9 L1522.0 353.9 L1513.0 346.9 L1501.4 337.1 L1500.0 355.7 L1490.4 357.9 L1483.8 368.8 L1477.2 377.6 L1472.9 401.6 L1469.6 432.3 L1466.3 401.6 L1461.9 368.8 L1453.2 364.4 L1444.4 360.1 L1435.7 355.7 L1426.9 351.3 L1420.4 355.7 L1417.1 373.2 L1413.8 353.5 L1409.4 342.6 L1400.7 336.0 L1391.9 331.6 L1383.2 333.8 L1376.6 336.0 L1370.0 340.4 L1363.5 342.6 L1356.9 346.9 L1353.6 353.5 L1350.3 342.6 L1343.8 338.2 L1335.0 336.0 L1326.3 333.8 L1317.5 331.6 L1308.8 327.2 L1301.1 320.7 L1300.0 346.9 L1296.9 342.6 L1288.2 338.2 L1281.6 338.2 L1275.1 340.4 L1266.3 342.6 L1259.7 344.7 L1253.2 360.1 L1246.6 355.7 L1240.0 351.3 L1231.3 349.1 L1222.5 346.9 L1213.8 346.9 L1209.4 351.3 L1205.0 366.6 L1200.7 371.0 L1194.1 362.3 L1187.5 368.8 L1183.2 366.6 L1178.8 362.3 L1174.4 360.1 L1167.8 362.3 L1161.3 364.4 L1154.7 366.6 L1148.1 368.8 L1143.8 375.4 L1140.5 381.9 L1137.2 373.2 L1130.6 368.8 L1124.1 362.3 L1117.5 360.1 L1108.8 360.1 L1102.2 356.8 L1100.0 368.8 L1096.9 368.8 L1088.2 366.6 L1079.4 360.1 L1070.7 360.1 L1061.9 360.1 L1053.2 364.4 L1044.4 366.6 L1035.7 366.6 L1026.9 368.8 L1020.4 381.9 L1016.0 395.1 L1011.6 379.8 L1007.2 368.8 L1000.7 366.6 L994.1 371.0 L987.5 377.6 L983.2 381.9 L978.8 381.9 L974.4 377.6 L970.0 375.4 L965.6 390.7 L963.5 388.5 L959.1 379.8 L954.7 388.5 L950.3 379.8 L946.0 371.0 L941.6 379.8 L935.0 390.7 L928.4 399.5 L921.9 412.6 L917.5 419.1 L913.1 432.3 L908.8 421.3 L904.4 430.1 L900.0 412.6Z" fill="#0000ff" fill-opacity="0.2" stroke="#ffffff" stroke-width="1.1" stroke-linejoin="round"/>
<path d="M900.0 355.7 L906.6 356.8 L913.1 354.6 L921.9 353.5 L930.6 354.6 L939.4 356.8 L948.1 355.7 L956.9 354.6 L965.6 353.5 L974.4 354.6 L983.2 354.6 L991.9 354.6 L1000.7 355.7 L1009.4 354.6 L1018.2 353.5 L1026.9 352.4 L1035.7 350.2 L1044.4 348.0 L1053.2 344.7 L1061.9 340.4 L1070.7 338.2 L1079.4 337.1 L1088.2 336.0 L1100.0 336.0 L1102.2 335.6 L1108.8 333.8 L1117.5 331.6 L1126.3 327.2 L1135.0 320.7 L1143.8 316.3 L1152.5 313.0 L1161.3 305.4 L1167.8 303.2 L1176.6 302.1 L1185.3 301.0 L1190.8 298.8 L1196.3 303.2 L1202.8 307.5 L1209.4 308.6 L1216.0 305.4 L1222.5 303.2 L1231.3 302.1 L1240.0 301.0 L1246.6 299.9 L1253.2 303.2 L1259.7 306.5 L1266.3 306.5 L1275.1 306.5 L1283.8 307.5 L1290.4 308.6 L1296.9 308.0 L1300.0 309.1 L1301.8 309.7 L1308.8 307.5 L1317.5 298.8 L1326.3 287.9 L1337.2 282.4 L1343.8 283.5 L1352.5 280.2 L1363.5 276.9 L1367.8 281.3 L1374.4 286.8 L1383.2 283.5 L1391.9 279.1 L1400.7 278.0 L1409.4 279.1 L1416.0 280.2 L1422.5 285.7 L1429.1 292.2 L1435.7 295.5 L1444.4 294.4 L1453.2 296.6 L1461.9 301.0 L1470.7 303.2 L1479.4 306.5 L1488.2 308.6 L1496.9 310.8 L1500.0 311.9 L1501.4 313.0 L1506.9 316.3 L1513.4 320.7 L1520.0 325.1 L1526.6 331.6 L1533.1 338.2 L1539.7 344.7 L1546.3 349.1 L1552.8 353.5 L1559.4 355.7 L1566.0 357.9 L1572.5 360.1 L1579.1 363.3 L1585.7 368.8 L1592.2 375.4 L1598.8 381.9 L1605.4 384.1 L1611.9 386.3 L1618.5 389.6 L1625.0 390.7 L1631.6 390.7 L1638.2 391.8 L1644.7 390.7 L1651.3 388.5 L1655.7 381.9 L1660.1 377.6 L1666.6 371.0 L1673.2 366.6 L1679.7 360.1 L1685.0 355.7" fill="none" stroke="#000000" stroke-width="6.5" stroke-linejoin="round" stroke-linecap="round"/>
<path d="M900.0 301.0 L910.9 301.0 L921.9 296.6 L932.8 298.8 L943.8 301.0 L954.7 301.0 L961.3 294.4 L965.6 292.2 L970.0 296.6 L974.4 301.0 L983.2 298.8 L991.9 301.0 L1000.7 298.8 L1009.4 303.2 L1013.8 298.8 L1018.2 303.2 L1026.9 301.0 L1035.7 298.8 L1044.4 296.6 L1053.2 290.0 L1059.7 281.3 L1066.3 276.9 L1075.1 274.7 L1081.6 263.8 L1086.0 257.2 L1092.6 261.6 L1100.0 272.5 L1102.2 276.9 L1108.8 276.9 L1117.5 281.3 L1124.1 279.1 L1130.6 274.7 L1137.2 272.5 L1143.8 268.2 L1150.3 268.2 L1156.9 263.8 L1163.5 250.7 L1167.8 252.8 L1172.2 257.2 L1178.8 259.4 L1183.2 259.4 L1187.5 246.3 L1191.9 235.3 L1196.3 241.9 L1200.7 250.7 L1205.0 261.6 L1209.4 272.5 L1213.8 276.9 L1220.4 272.5 L1226.9 268.2 L1233.5 266.0 L1240.0 259.4 L1244.4 246.3 L1248.8 235.3 L1253.2 231.0 L1261.9 233.2 L1268.5 244.1 L1275.1 257.2 L1281.6 250.7 L1288.2 250.7 L1294.7 250.7 L1300.0 237.5 L1301.1 233.2 L1306.6 224.4 L1313.1 215.6 L1321.9 206.9 L1328.4 213.5 L1335.0 220.0 L1341.6 228.8 L1348.1 237.5 L1354.7 235.3 L1361.3 228.8 L1365.6 215.6 L1372.2 222.2 L1378.8 241.9 L1387.5 246.3 L1396.3 241.9 L1405.0 233.2 L1413.8 217.8 L1422.5 206.9 L1431.3 213.5 L1440.0 220.0 L1448.8 226.6 L1457.5 231.0 L1466.3 233.2 L1475.1 235.3 L1483.8 235.3 L1492.6 237.5 L1500.0 239.7 L1501.4 241.9 L1506.9 244.1 L1513.4 248.5 L1520.0 250.7 L1528.8 250.7 L1535.3 250.7 L1541.9 259.4 L1548.5 266.0 L1555.0 269.3 L1561.6 272.5 L1568.2 275.8 L1574.7 275.8 L1581.3 272.5 L1587.8 268.2 L1594.4 262.7 L1598.8 266.0 L1603.2 276.9 L1609.7 281.3 L1616.3 290.0 L1622.9 294.4 L1629.4 298.8 L1636.0 301.0 L1642.5 301.0 L1649.1 294.4 L1655.7 287.9 L1662.2 283.5 L1668.8 281.3 L1675.4 281.3 L1685.0 272.5 L1685.0 427.9 L1677.6 438.8 L1671.0 449.8 L1664.4 462.9 L1657.9 476.0 L1651.3 476.0 L1644.7 471.7 L1638.2 467.3 L1631.6 469.5 L1625.0 471.7 L1618.5 469.5 L1611.9 465.1 L1605.4 460.7 L1598.8 456.3 L1592.2 452.0 L1585.7 445.4 L1579.1 438.8 L1572.5 434.5 L1566.0 427.9 L1559.4 425.7 L1552.8 423.5 L1546.3 419.1 L1539.7 417.0 L1533.1 412.6 L1526.6 408.2 L1520.0 403.8 L1513.4 397.3 L1506.9 390.7 L1501.4 388.5 L1500.0 381.9 L1494.7 384.1 L1488.2 386.3 L1481.6 379.8 L1475.1 371.0 L1468.5 373.2 L1461.9 375.4 L1455.4 371.0 L1448.8 368.8 L1442.2 375.4 L1435.7 381.9 L1429.1 364.4 L1422.5 355.7 L1416.0 349.1 L1409.4 340.4 L1400.7 333.8 L1391.9 333.8 L1383.2 336.0 L1376.6 342.6 L1370.0 351.3 L1365.6 346.9 L1359.1 342.6 L1352.5 344.7 L1346.0 346.9 L1339.4 355.7 L1332.8 368.8 L1326.3 390.7 L1321.9 412.6 L1317.5 421.3 L1313.1 412.6 L1308.8 401.6 L1304.4 390.7 L1301.1 379.8 L1300.0 390.7 L1294.7 377.6 L1288.2 375.4 L1281.6 373.2 L1275.1 366.6 L1268.5 377.6 L1261.9 381.9 L1255.4 377.6 L1248.8 368.8 L1242.2 360.1 L1235.7 351.3 L1226.9 349.1 L1218.2 348.0 L1211.6 349.1 L1205.0 355.7 L1198.5 368.8 L1191.9 373.2 L1185.3 360.1 L1178.8 364.4 L1172.2 368.8 L1165.6 377.6 L1159.1 388.5 L1152.5 381.9 L1146.0 375.4 L1139.4 379.8 L1132.8 386.3 L1128.4 390.7 L1121.9 390.7 L1115.3 395.1 L1108.8 390.7 L1102.2 391.8 L1100.0 397.3 L1092.6 406.0 L1088.2 410.4 L1081.6 408.2 L1075.1 407.1 L1066.3 408.2 L1057.5 412.6 L1053.2 410.4 L1042.2 410.4 L1031.3 408.2 L1020.4 409.3 L1009.4 408.2 L998.5 408.2 L987.5 408.2 L976.6 408.2 L965.6 409.3 L954.7 408.2 L943.8 410.4 L932.8 409.3 L921.9 408.2 L910.9 410.4 L900.0 410.4Z" fill="#ff0000" fill-opacity="0.2" stroke="#ffffff" stroke-width="1.1" stroke-linejoin="round"/>
<path d="M900.0 349.1 L904.4 360.1 L908.8 368.8 L913.1 375.4 L917.5 371.0 L921.9 364.4 L928.4 360.1 L935.0 355.7 L940.5 349.1 L946.0 345.8 L950.3 349.1 L954.7 355.7 L959.1 349.1 L963.5 353.5 L967.8 351.3 L974.4 353.5 L981.0 354.6 L985.3 353.5 L989.7 344.7 L996.3 342.6 L1002.8 340.4 L1009.4 338.2 L1016.0 342.6 L1021.4 344.7 L1026.9 343.7 L1033.5 340.4 L1040.0 336.0 L1048.8 333.8 L1057.5 331.6 L1066.3 330.5 L1075.1 328.3 L1083.8 327.2 L1092.6 325.1 L1100.0 324.0 L1102.2 325.1 L1108.8 325.1 L1117.5 325.1 L1124.1 324.0 L1130.6 320.7 L1137.2 317.4 L1143.8 318.5 L1152.5 319.6 L1161.3 320.7 L1170.0 322.9 L1176.6 324.0 L1183.2 322.9 L1189.7 321.8 L1196.3 321.8 L1202.8 320.7 L1209.4 319.6 L1216.0 322.9 L1222.5 322.9 L1229.1 321.8 L1235.7 322.9 L1242.2 316.3 L1248.8 311.9 L1255.4 311.9 L1261.9 311.9 L1270.7 310.8 L1277.2 311.9 L1283.8 314.1 L1288.2 316.3 L1292.6 311.9 L1295.8 304.3 L1300.0 303.2 L1301.1 304.3 L1304.4 301.0 L1308.8 298.8 L1313.1 296.6 L1317.5 292.2 L1321.9 288.9 L1324.1 294.4 L1327.4 301.0 L1331.7 301.0 L1336.1 298.8 L1341.6 303.2 L1346.0 295.5 L1351.4 301.0 L1354.7 292.2 L1358.0 276.9 L1362.4 261.6 L1365.6 255.0 L1368.9 263.8 L1372.2 268.2 L1376.6 270.4 L1381.0 270.4 L1385.3 272.5 L1389.7 281.3 L1394.1 290.0 L1398.5 296.6 L1402.8 287.9 L1407.2 272.5 L1410.5 279.1 L1412.7 285.7 L1416.0 279.1 L1420.4 274.7 L1424.7 276.9 L1429.1 272.5 L1433.5 268.2 L1436.8 268.2 L1440.0 285.7 L1444.4 292.2 L1448.8 294.4 L1453.2 294.4 L1456.5 298.8 L1460.8 296.6 L1464.1 303.2 L1468.5 294.4 L1472.9 283.5 L1477.2 276.9 L1481.6 281.3 L1486.0 290.0 L1490.4 296.6 L1494.7 301.0 L1500.0 309.7 L1501.4 304.3 L1504.7 309.7 L1509.1 316.3 L1515.6 320.7 L1522.2 325.1 L1528.8 331.6 L1535.3 338.2 L1541.9 342.6 L1548.5 349.1 L1552.8 346.9 L1557.2 346.9 L1561.6 349.1 L1566.0 351.3 L1570.3 349.1 L1574.7 353.5 L1578.0 351.3 L1581.3 364.4 L1585.7 381.9 L1590.0 397.3 L1594.4 392.9 L1598.8 388.5 L1603.2 387.4 L1607.5 386.3 L1611.9 385.2 L1616.3 377.6 L1620.7 368.8 L1625.0 364.4 L1629.4 373.2 L1633.8 392.9 L1638.2 377.6 L1641.5 386.3 L1644.7 390.7 L1648.0 386.3 L1651.3 390.7 L1655.7 397.3 L1660.1 403.8 L1663.3 403.8 L1666.6 381.9 L1671.0 375.4 L1675.4 377.6 L1679.7 371.0 L1685.0 377.6" fill="none" stroke="#ff0000" stroke-width="3.5" stroke-linejoin="round" stroke-linecap="round"/>
<path d="M900.0 355.7 L903.3 357.9 L907.7 346.9 L912.0 338.2 L917.5 337.1 L921.9 333.8 L928.4 330.5 L935.0 328.3 L939.4 325.1 L943.8 327.2 L949.2 325.1 L954.7 327.2 L959.1 333.8 L963.5 346.9 L965.6 349.1 L970.0 333.8 L974.4 326.1 L981.0 328.3 L987.5 332.7 L994.1 333.8 L999.6 337.1 L1005.0 336.0 L1010.5 340.4 L1014.9 346.9 L1018.2 351.3 L1022.5 342.6 L1026.9 336.0 L1033.5 331.6 L1040.0 329.4 L1048.8 327.2 L1055.4 326.1 L1064.1 326.1 L1070.7 328.3 L1075.1 333.8 L1077.2 338.2 L1081.6 333.8 L1086.0 331.6 L1092.6 329.4 L1100.0 329.4 L1102.2 329.4 L1108.8 330.5 L1117.5 330.5 L1126.3 329.4 L1135.0 328.3 L1143.8 327.2 L1152.5 328.3 L1161.3 329.4 L1165.6 329.4 L1172.2 330.5 L1178.8 330.5 L1183.2 327.2 L1187.5 316.3 L1190.8 303.2 L1194.1 316.3 L1198.5 329.4 L1202.8 331.6 L1207.2 328.3 L1211.6 322.9 L1216.0 320.7 L1220.4 318.5 L1224.7 313.0 L1229.1 313.0 L1233.5 309.7 L1237.9 294.4 L1241.1 279.1 L1243.3 270.4 L1246.6 285.7 L1251.0 303.2 L1255.4 309.7 L1259.7 318.5 L1264.1 325.1 L1268.5 325.1 L1272.9 329.4 L1276.1 333.8 L1279.4 327.2 L1283.8 327.2 L1288.2 336.0 L1292.6 333.8 L1295.8 325.1 L1300.0 303.2 L1301.1 294.4 L1303.3 281.3 L1305.5 292.2 L1308.8 322.9 L1313.1 333.8 L1317.5 331.6 L1321.9 327.2 L1326.3 322.9 L1330.6 319.6 L1335.0 318.5 L1339.4 314.1 L1343.8 316.3 L1348.1 314.1 L1352.5 305.4 L1355.8 298.8 L1359.1 307.5 L1363.5 320.7 L1367.8 322.9 L1374.4 327.2 L1383.2 328.3 L1391.9 329.4 L1400.7 328.3 L1407.2 327.2 L1411.6 333.8 L1416.0 342.6 L1418.2 346.9 L1422.5 333.8 L1426.9 325.1 L1431.3 327.2 L1435.7 331.6 L1442.2 336.0 L1448.8 340.4 L1453.2 342.6 L1457.5 346.9 L1461.9 353.5 L1466.3 371.0 L1469.6 379.8 L1472.9 366.6 L1477.2 351.3 L1481.6 344.7 L1486.0 336.0 L1490.4 331.6 L1494.7 331.6 L1500.0 325.1 L1501.4 328.3 L1504.7 325.1 L1509.1 329.4 L1513.4 325.1 L1517.8 322.9 L1522.2 327.2 L1525.5 336.0 L1528.8 351.3 L1531.0 355.7 L1534.2 342.6 L1538.6 329.4 L1541.9 325.1 L1546.3 328.3 L1550.6 331.6 L1557.2 332.7 L1563.8 333.8 L1570.3 331.6 L1576.9 332.7 L1583.5 329.4 L1590.0 327.2 L1596.6 327.2 L1603.2 328.3 L1609.7 328.3 L1616.3 330.5 L1620.7 328.3 L1625.0 330.5 L1629.4 331.6 L1633.8 329.4 L1638.2 318.5 L1642.5 305.4 L1646.9 322.9 L1651.3 331.6 L1657.9 329.4 L1662.2 325.1 L1666.6 322.9 L1671.0 320.7 L1675.4 317.4 L1679.7 318.5 L1685.0 316.3" fill="none" stroke="#0000ff" stroke-width="3.5" stroke-linejoin="round" stroke-linecap="round"/></g>
<path d="M953.9 545.9v-6 M1010.4 545.9v-6 M1066.8 545.9v-6 M1123.2 545.9v-6 M1179.7 545.9v-6 M1236.2 545.9v-6 M1292.6 545.9v-6 M1349.0 545.9v-6 M1405.5 545.9v-6 M1462.0 545.9v-6 M1518.4 545.9v-6 M1574.8 545.9v-6 M1631.3 545.9v-6 M1685 144.8h-5.5 M1685 206.1h-5.5 M1685 267.4h-5.5 M1685 328.8h-5.5 M1685 390.1h-5.5 M1685 451.4h-5.5 M1685 512.7h-5.5" stroke="#262626" stroke-width="1.3" fill="none"/>
<rect x="897" y="108.6" width="791.0" height="440.3" fill="none" stroke="#000" stroke-width="6"/>
<text x="1702" y="156.1" font-size="31.5" fill="#1a1a1a" stroke="#1a1a1a" stroke-width="0.3">0.3</text>
<text x="1702" y="217.4" font-size="31.5" fill="#1a1a1a" stroke="#1a1a1a" stroke-width="0.3">0.2</text>
<text x="1702" y="278.7" font-size="31.5" fill="#1a1a1a" stroke="#1a1a1a" stroke-width="0.3">0.1</text>
<text x="1702" y="340.1" font-size="31.5" fill="#1a1a1a" stroke="#1a1a1a" stroke-width="0.3">0</text>
<text x="1702" y="401.4" font-size="31.5" fill="#1a1a1a" stroke="#1a1a1a" stroke-width="0.3">-0.1</text>
<text x="1702" y="462.7" font-size="31.5" fill="#1a1a1a" stroke="#1a1a1a" stroke-width="0.3">-0.2</text>
<text x="1702" y="524.0" font-size="31.5" fill="#1a1a1a" stroke="#1a1a1a" stroke-width="0.3">-0.3</text>
</g>
<g id="panc">
<clipPath id="clipc"><rect x="73" y="567.7" width="785.0" height="434.3"/></clipPath>
<path d="M126.8 567.7V1002.0 M183.2 567.7V1002.0 M239.7 567.7V1002.0 M296.2 567.7V1002.0 M352.6 567.7V1002.0 M409.1 567.7V1002.0 M465.5 567.7V1002.0 M522.0 567.7V1002.0 M578.4 567.7V1002.0 M634.9 567.7V1002.0 M691.3 567.7V1002.0 M747.8 567.7V1002.0 M804.2 567.7V1002.0" stroke="#262626" stroke-opacity="0.15" stroke-width="1.3" fill="none"/>
<path d="M73 662.3H858 M73 785.0H858 M73 907.7H858" stroke="#262626" stroke-opacity="0.15" stroke-width="1.3" fill="none"/>
<g clip-path="url(#clipc)"><path d="M73.0 818.1 L77.5 818.1 L82.0 804.6 L85.4 795.6 L88.8 786.6 L93.3 797.8 L96.7 809.1 L98.9 793.3 L101.2 775.3 L104.6 746.0 L107.9 714.4 L111.3 714.4 L114.7 737.0 L118.1 734.7 L121.5 721.2 L126.0 718.9 L130.5 721.2 L133.9 741.5 L137.3 764.0 L140.6 737.0 L144.0 746.0 L147.4 757.2 L150.8 741.5 L154.2 714.4 L157.6 712.2 L159.8 721.2 L162.1 748.2 L165.4 782.1 L167.7 797.8 L172.2 779.8 L176.7 770.8 L181.2 779.8 L185.7 775.3 L190.2 757.2 L194.8 743.7 L199.3 737.0 L202.7 741.5 L204.9 766.3 L207.2 797.8 L209.4 820.4 L212.8 815.9 L216.2 797.8 L219.6 802.3 L222.9 813.6 L226.3 802.3 L230.8 786.6 L235.3 779.8 L239.9 777.5 L244.4 788.8 L248.9 804.6 L253.4 800.1 L257.9 795.6 L262.4 797.8 L266.9 802.3 L269.2 815.9 L273.0 849.7 L274.1 847.4 L277.5 842.9 L282.0 861.0 L285.4 867.7 L288.8 847.4 L292.2 818.1 L295.5 806.9 L298.9 818.1 L302.3 802.3 L305.7 779.8 L309.1 775.3 L312.5 777.5 L315.8 779.8 L320.4 784.3 L324.9 786.6 L329.4 775.3 L332.8 777.5 L336.1 797.8 L340.6 813.6 L345.2 797.8 L349.7 795.6 L354.2 802.3 L358.7 811.4 L363.2 813.6 L367.7 802.3 L372.2 800.1 L376.7 748.2 L380.1 691.9 L383.5 680.6 L386.9 691.9 L390.2 748.2 L393.6 759.5 L397.0 768.5 L401.5 764.0 L406.0 757.2 L410.5 759.5 L413.9 768.5 L417.3 784.3 L421.8 775.3 L425.2 779.8 L428.6 797.8 L432.0 811.4 L435.3 842.9 L438.7 885.8 L442.1 865.5 L445.5 849.7 L448.9 845.2 L453.4 856.5 L457.9 865.5 L462.4 815.9 L466.9 818.1 L473.0 842.9 L474.1 856.5 L476.4 863.2 L479.8 842.9 L483.1 827.1 L486.5 831.7 L489.9 849.7 L494.4 865.5 L498.9 865.5 L502.3 856.5 L504.6 824.9 L507.9 806.9 L511.3 820.4 L514.7 811.4 L518.1 793.3 L521.5 788.8 L524.9 797.8 L529.4 802.3 L533.9 802.3 L538.4 800.1 L542.9 800.1 L547.4 795.6 L550.8 775.3 L553.0 741.5 L555.3 714.4 L557.6 705.4 L560.9 707.6 L564.3 725.7 L567.7 714.4 L572.2 716.7 L576.7 721.2 L581.2 727.9 L585.7 739.2 L590.2 746.0 L594.8 748.2 L597.0 757.2 L599.3 788.8 L601.5 831.7 L604.9 838.4 L608.3 820.4 L611.7 795.6 L615.1 766.3 L618.4 752.7 L621.8 766.3 L625.2 793.3 L628.6 802.3 L633.1 779.8 L636.5 773.0 L641.0 784.3 L645.5 773.0 L650.0 766.3 L654.5 761.8 L657.9 748.2 L661.3 725.7 L664.7 691.9 L668.0 718.9 L673.0 775.3 L673.8 782.3 L677.2 782.3 L680.5 766.6 L685.1 714.7 L689.6 705.7 L694.1 703.4 L697.5 755.3 L699.7 795.9 L702.0 746.3 L704.2 698.9 L707.6 710.2 L711.0 737.2 L714.4 755.3 L717.8 750.8 L721.1 755.3 L725.6 750.8 L730.2 759.8 L734.7 777.8 L739.2 777.8 L743.7 775.6 L748.2 777.8 L752.7 773.3 L757.2 775.6 L761.7 721.5 L766.2 714.7 L770.7 719.2 L773.0 804.9 L776.4 773.3 L779.8 746.3 L783.1 759.8 L786.5 777.8 L791.0 791.4 L795.5 800.4 L800.1 782.3 L804.6 822.9 L807.9 854.5 L811.3 822.9 L814.7 859.0 L818.1 836.5 L821.5 766.6 L824.9 818.4 L829.4 841.0 L831.6 854.5 L833.9 822.9 L836.1 782.3 L838.4 766.6 L842.9 777.8 L847.4 791.4 L851.9 800.4 L858.0 791.4" fill="none" stroke="#00ff00" stroke-width="8" stroke-linejoin="round" stroke-linecap="round"/>
<path d="M73.0 786.6 L77.5 766.3 L82.0 752.7 L86.5 750.5 L91.0 748.2 L95.5 741.5 L100.1 734.7 L103.4 743.7 L106.8 757.2 L111.3 759.5 L115.8 764.0 L120.4 766.3 L124.9 765.1 L131.6 761.8 L138.4 755.0 L142.9 757.2 L147.4 759.5 L151.9 759.5 L156.4 757.2 L160.9 761.8 L165.4 773.0 L170.0 775.3 L174.5 779.8 L179.0 784.3 L183.5 786.6 L188.0 779.8 L192.5 773.0 L197.0 770.8 L201.5 768.5 L206.0 761.8 L210.5 755.0 L215.1 766.3 L219.6 773.0 L224.1 766.3 L228.6 761.8 L233.1 761.8 L239.9 766.3 L246.6 768.5 L253.4 770.8 L260.1 775.3 L266.9 779.8 L273.0 784.3 L274.1 784.3 L279.8 780.9 L286.5 782.1 L293.3 784.3 L300.1 783.2 L306.8 784.3 L313.6 788.8 L318.1 791.1 L322.6 795.6 L327.1 797.8 L331.6 795.6 L336.1 800.1 L340.6 804.6 L345.2 811.4 L349.7 813.6 L354.2 813.6 L359.8 815.9 L364.3 819.3 L368.8 815.9 L373.3 811.4 L377.8 797.8 L382.4 788.8 L388.0 786.6 L393.6 786.6 L398.1 797.8 L402.7 786.6 L408.3 777.5 L411.7 775.3 L415.1 793.3 L419.6 802.3 L424.1 804.6 L428.6 806.9 L433.1 820.4 L436.5 842.9 L439.9 883.5 L443.2 865.5 L446.6 833.9 L451.1 842.9 L455.6 856.5 L460.1 852.0 L466.9 847.4 L473.0 847.4 L474.1 850.8 L477.5 847.4 L482.0 836.2 L486.5 831.7 L491.0 824.9 L495.5 824.9 L500.1 820.4 L504.6 809.1 L509.1 797.8 L513.6 793.3 L518.1 793.3 L522.6 786.6 L527.1 788.8 L531.6 802.3 L536.1 829.4 L540.6 833.9 L545.2 831.7 L549.7 818.1 L554.2 797.8 L558.7 779.8 L563.2 757.2 L567.7 737.0 L572.2 732.4 L576.7 737.0 L581.2 743.7 L585.7 748.2 L590.2 752.7 L594.8 761.8 L599.3 779.8 L603.8 797.8 L608.3 824.9 L611.7 831.7 L615.1 806.9 L618.4 779.8 L621.8 766.3 L626.3 784.3 L630.8 795.6 L635.3 802.3 L639.9 806.9 L644.4 793.3 L648.9 788.8 L653.4 793.3 L657.9 779.8 L662.4 766.3 L666.9 748.2 L673.0 761.8 L673.8 746.3 L677.2 728.2 L680.5 717.0 L685.1 707.9 L688.4 712.4 L691.8 726.0 L695.2 732.7 L698.6 737.2 L703.1 739.5 L707.6 746.3 L712.1 755.3 L716.6 759.8 L721.1 764.3 L725.6 764.3 L730.2 775.6 L734.7 775.6 L739.2 777.8 L743.7 780.1 L748.2 777.8 L752.7 782.3 L757.2 777.8 L761.7 755.3 L766.2 746.3 L770.7 755.3 L775.2 764.3 L779.8 773.3 L784.3 782.3 L788.8 795.9 L793.3 818.4 L796.7 847.7 L798.9 865.8 L802.3 854.5 L806.8 841.0 L811.3 818.4 L815.8 811.7 L819.2 822.9 L822.6 818.4 L827.1 804.9 L831.6 791.4 L836.1 764.3 L838.4 746.3 L840.6 732.7 L844.0 755.3 L846.3 813.9 L849.7 800.4 L854.2 784.6 L858.0 782.3" fill="none" stroke="#ff00ff" stroke-width="8" stroke-linejoin="round" stroke-linecap="round"/>
<path d="M73.0 734.7 L77.5 730.2 L82.0 723.4 L86.5 720.0 L91.0 721.2 L95.5 722.3 L97.8 707.6 L100.1 662.5 L102.3 707.6 L105.7 723.4 L110.2 723.4 L113.6 691.9 L118.1 661.4 L121.5 669.3 L126.0 682.8 L130.5 687.4 L133.9 700.9 L137.3 696.4 L140.6 707.6 L145.2 725.7 L151.9 726.8 L163.2 729.1 L174.5 731.3 L183.5 732.4 L192.5 730.2 L201.5 733.6 L208.3 734.7 L211.0 714.4 L213.2 700.9 L215.5 732.4 L221.8 734.7 L228.6 718.9 L232.0 697.5 L235.3 707.6 L241.0 712.2 L246.6 718.9 L251.1 717.8 L255.6 730.2 L262.4 739.2 L269.2 752.7 L273.0 757.2 L274.1 759.5 L279.8 766.3 L286.5 770.8 L293.3 773.0 L300.1 770.8 L306.8 768.5 L311.3 757.2 L314.7 752.7 L320.4 759.5 L324.9 766.3 L329.4 761.8 L333.9 766.3 L338.4 748.2 L342.9 730.2 L346.3 725.7 L350.8 746.0 L355.3 761.8 L360.9 766.3 L365.4 777.5 L370.0 784.3 L374.5 779.8 L379.0 775.3 L383.5 757.2 L388.0 757.2 L392.5 766.3 L397.0 775.3 L401.5 770.8 L406.0 766.3 L410.5 766.3 L412.8 761.8 L417.3 770.8 L421.8 779.8 L426.3 793.3 L430.8 802.3 L435.3 797.8 L439.9 784.3 L444.4 775.3 L448.9 770.8 L453.4 757.2 L457.9 743.7 L464.7 748.2 L469.2 757.2 L473.0 761.8 L474.1 757.2 L477.5 755.0 L482.0 761.8 L486.5 766.3 L491.0 770.8 L495.5 773.0 L500.1 775.3 L504.6 779.8 L509.1 782.1 L513.6 788.8 L518.1 795.6 L522.6 797.8 L527.1 800.1 L531.6 802.3 L536.1 806.9 L540.6 802.3 L545.2 793.3 L549.7 752.7 L553.0 734.7 L558.7 725.7 L565.4 716.7 L570.0 696.4 L573.3 709.9 L576.7 703.1 L583.5 705.4 L588.0 707.6 L592.5 721.2 L597.0 734.7 L601.5 746.0 L606.0 757.2 L610.5 761.8 L615.1 748.2 L619.6 743.7 L624.1 752.7 L628.6 766.3 L633.1 766.3 L637.6 757.2 L642.1 752.7 L646.6 750.5 L651.1 743.7 L655.6 734.7 L660.1 696.4 L663.5 676.1 L665.8 640.0 L668.0 671.6 L673.0 669.3 L673.8 674.1 L678.3 667.4 L680.5 626.8 L683.9 592.9 L687.3 606.5 L691.8 631.3 L695.2 653.8 L698.6 658.3 L702.0 658.3 L705.4 685.4 L709.9 703.4 L714.4 732.7 L718.9 746.3 L723.4 748.5 L730.2 759.8 L736.9 766.6 L743.7 773.3 L748.2 775.6 L752.7 764.3 L757.2 732.7 L761.7 714.7 L766.2 707.9 L770.7 712.4 L775.2 719.2 L779.8 730.5 L784.3 746.3 L788.8 759.8 L793.3 764.3 L797.8 771.1 L802.3 773.3 L806.8 771.1 L811.3 746.3 L815.8 741.8 L820.3 737.2 L824.9 737.2 L829.4 705.7 L833.9 680.9 L838.4 685.4 L842.9 705.7 L847.4 728.2 L851.9 746.3 L858.0 759.8 L858.0 811.7 L851.9 813.9 L847.4 818.4 L842.9 818.4 L838.4 822.9 L833.9 827.4 L829.4 836.5 L824.9 850.0 L820.3 879.3 L815.8 904.1 L811.3 890.6 L806.8 913.1 L802.3 908.6 L797.8 928.9 L793.3 906.4 L788.8 879.3 L784.3 845.5 L779.8 822.9 L775.2 804.9 L770.7 795.9 L766.2 789.1 L761.7 784.6 L757.2 786.9 L752.7 791.4 L748.2 789.1 L743.7 786.9 L736.9 789.1 L730.2 791.4 L725.6 791.4 L721.1 791.4 L716.6 795.9 L712.1 804.9 L707.6 811.7 L703.1 822.9 L698.6 822.9 L694.1 818.4 L689.6 822.9 L686.2 832.0 L682.8 836.5 L678.3 836.5 L673.8 832.0 L673.0 836.2 L666.9 838.4 L660.1 842.9 L655.6 849.7 L651.1 856.5 L646.6 842.9 L642.1 847.4 L637.6 842.9 L633.1 847.4 L628.6 852.0 L624.1 858.7 L619.6 863.2 L615.1 865.5 L611.7 876.8 L608.3 894.8 L603.8 883.5 L599.3 876.8 L594.8 872.2 L590.2 863.2 L585.7 852.0 L581.2 836.2 L576.7 827.1 L572.2 829.4 L567.7 833.9 L563.2 840.7 L558.7 847.4 L554.2 852.0 L551.9 899.3 L547.4 879.0 L542.9 867.7 L538.4 870.0 L531.6 863.2 L524.9 865.5 L520.4 865.5 L515.8 861.0 L511.3 854.2 L506.8 849.7 L502.3 856.5 L497.8 865.5 L493.3 879.0 L488.8 888.0 L484.3 910.6 L479.8 928.6 L476.4 946.7 L474.1 937.6 L473.0 910.6 L466.9 951.2 L462.4 960.2 L459.0 978.2 L455.6 910.6 L451.1 883.5 L446.6 888.0 L442.1 910.6 L438.7 962.4 L435.3 892.5 L430.8 865.5 L426.3 847.4 L419.6 842.9 L412.8 842.9 L406.0 838.4 L399.3 833.9 L392.5 831.7 L385.7 831.7 L381.2 833.9 L376.7 833.9 L372.2 840.7 L367.7 849.7 L363.2 856.5 L358.7 854.2 L354.2 852.0 L349.7 865.5 L345.2 888.0 L340.6 858.7 L333.9 842.9 L327.1 838.4 L320.4 838.4 L313.6 833.9 L306.8 831.7 L300.1 829.4 L293.3 824.9 L286.5 827.1 L279.8 827.1 L274.1 821.5 L273.0 822.6 L264.7 818.1 L257.9 813.6 L251.1 815.9 L244.4 818.1 L237.6 822.6 L230.8 827.1 L224.1 815.9 L217.3 809.1 L210.5 802.3 L203.8 800.1 L194.8 797.8 L185.7 795.6 L176.7 795.6 L167.7 797.8 L158.7 797.8 L149.7 800.1 L142.9 806.9 L138.4 813.6 L133.9 820.4 L129.4 838.4 L123.7 847.4 L119.2 870.0 L113.6 842.9 L106.8 831.7 L100.1 813.6 L93.3 811.4 L86.5 813.6 L79.8 809.1 L73.0 806.9Z" fill="#0000ff" fill-opacity="0.2" stroke="#ffffff" stroke-width="1.1" stroke-linejoin="round"/>
<path d="M73.0 793.3 L77.5 794.5 L82.0 791.1 L86.5 786.6 L91.0 782.1 L95.5 776.4 L100.1 777.5 L105.7 779.8 L111.3 782.1 L118.1 785.4 L123.7 783.2 L129.4 780.9 L133.9 779.8 L138.4 775.3 L142.9 777.5 L147.4 783.2 L151.9 780.9 L156.4 784.3 L160.9 786.6 L167.7 787.7 L172.2 788.8 L176.7 791.1 L181.2 792.2 L185.7 788.8 L189.1 791.1 L192.5 800.1 L195.9 797.8 L199.3 795.6 L203.8 800.1 L210.5 800.1 L217.3 799.0 L221.8 800.1 L226.3 797.8 L230.8 791.1 L235.3 784.3 L242.1 783.2 L248.9 780.9 L253.4 777.5 L257.9 779.8 L262.4 788.8 L266.9 795.6 L273.0 800.1 L274.1 801.2 L279.8 806.9 L286.5 818.1 L293.3 822.6 L300.1 824.9 L306.8 818.1 L312.5 811.4 L318.1 818.1 L323.7 813.6 L329.4 811.4 L333.9 802.3 L338.4 793.3 L345.2 788.8 L351.9 786.6 L357.6 784.3 L360.9 775.3 L364.3 770.8 L368.8 777.5 L373.3 784.3 L377.8 795.6 L382.4 801.2 L386.9 797.8 L392.5 793.3 L398.1 788.8 L403.8 787.7 L408.3 786.6 L412.8 782.1 L419.6 777.5 L424.1 779.8 L428.6 788.8 L433.1 795.6 L437.6 802.3 L443.2 811.4 L448.9 810.2 L453.4 811.4 L457.9 817.0 L463.5 818.1 L468.0 822.6 L473.0 833.9 L474.1 827.1 L477.5 838.4 L483.1 836.2 L488.8 831.7 L494.4 820.4 L498.9 802.3 L504.6 779.8 L510.2 775.3 L515.8 779.8 L521.5 775.3 L527.1 773.0 L532.8 771.9 L538.4 766.3 L541.8 775.3 L545.2 788.8 L549.7 795.6 L554.2 797.8 L558.7 791.1 L565.4 784.3 L572.2 777.5 L579.0 773.0 L584.6 768.5 L590.2 770.8 L595.9 775.3 L601.5 786.6 L606.0 797.8 L610.5 802.3 L615.1 797.8 L619.6 788.8 L624.1 786.6 L628.6 784.3 L633.1 782.1 L637.6 779.8 L642.1 775.3 L646.6 771.9 L653.4 770.8 L657.9 770.8 L662.4 766.3 L666.9 759.5 L673.0 755.0 L673.8 755.3 L678.3 759.8 L682.8 755.3 L687.3 750.8 L694.1 744.0 L700.8 739.5 L707.6 739.5 L713.2 748.5 L717.8 755.3 L723.4 755.3 L727.9 753.0 L732.4 748.5 L736.9 745.1 L741.4 749.7 L745.9 746.3 L750.4 741.8 L755.0 738.4 L760.6 737.2 L765.1 739.5 L769.6 750.8 L774.1 759.8 L779.8 764.3 L784.3 768.8 L788.8 777.8 L793.3 780.1 L798.9 781.2 L804.6 784.6 L809.1 786.9 L813.6 790.2 L818.1 795.9 L822.6 800.4 L826.0 802.6 L829.4 795.9 L833.9 786.9 L838.4 780.1 L842.9 775.6 L847.4 768.8 L851.9 766.6 L858.0 764.3" fill="none" stroke="#000000" stroke-width="6.5" stroke-linejoin="round" stroke-linecap="round"/>
<path d="M73.0 723.4 L84.3 723.4 L95.5 723.4 L106.8 724.6 L118.1 725.7 L129.4 724.6 L138.4 720.0 L145.2 726.8 L154.2 727.9 L163.2 730.2 L174.5 731.3 L183.5 732.4 L192.5 730.2 L201.5 733.6 L208.3 735.8 L217.3 734.7 L226.3 727.9 L235.3 723.4 L244.4 721.2 L251.1 714.4 L255.6 709.9 L260.1 712.2 L264.7 721.2 L269.2 727.9 L273.0 734.7 L274.1 737.0 L279.8 739.2 L286.5 737.0 L293.3 743.7 L300.1 746.0 L306.8 750.5 L312.5 755.0 L318.1 748.2 L324.9 741.5 L331.6 737.0 L338.4 725.7 L345.2 725.7 L351.9 727.9 L358.7 714.4 L364.3 694.1 L367.7 709.9 L372.2 723.4 L376.7 739.2 L381.2 748.2 L385.7 755.0 L390.2 752.7 L394.8 743.7 L401.5 739.2 L408.3 734.7 L415.1 721.2 L421.8 707.6 L428.6 712.2 L435.3 718.9 L442.1 727.9 L448.9 739.2 L455.6 739.2 L462.4 737.0 L469.2 734.7 L473.0 725.7 L474.1 718.9 L478.6 716.7 L484.3 709.9 L491.0 703.1 L497.8 694.1 L504.6 687.4 L509.1 689.6 L513.6 707.6 L518.1 700.9 L522.6 696.4 L527.1 694.1 L531.6 691.9 L535.0 685.1 L538.4 680.6 L541.8 694.1 L545.2 705.4 L549.7 714.4 L554.2 718.9 L560.9 714.4 L567.7 707.6 L574.5 700.9 L581.2 694.1 L588.0 691.9 L594.8 689.6 L599.3 694.1 L603.8 698.6 L608.3 705.4 L615.1 707.6 L621.8 705.4 L628.6 703.1 L635.3 698.6 L642.1 694.1 L648.9 689.6 L655.6 685.1 L662.4 676.1 L666.9 671.6 L673.0 669.3 L673.8 669.6 L680.5 671.9 L687.3 665.1 L694.1 658.3 L700.8 656.1 L707.6 660.6 L714.4 665.1 L721.1 667.4 L727.9 665.1 L734.7 662.8 L741.4 665.1 L748.2 662.8 L755.0 658.3 L761.7 653.8 L768.5 649.3 L773.0 653.8 L777.5 660.6 L784.3 660.6 L791.0 665.1 L797.8 669.6 L804.6 671.9 L811.3 674.1 L818.1 676.4 L824.9 676.4 L831.6 678.6 L838.4 685.4 L845.1 689.9 L851.9 694.4 L858.0 698.9 L858.0 850.0 L851.9 854.5 L847.4 859.0 L842.9 863.5 L838.4 874.8 L833.9 890.6 L829.4 913.1 L826.0 926.7 L820.3 917.6 L815.8 913.1 L811.3 908.6 L806.8 913.1 L802.3 908.6 L797.8 904.1 L793.3 906.4 L787.7 908.6 L782.0 899.6 L775.2 886.1 L770.7 877.0 L766.2 865.8 L759.5 854.5 L752.7 847.7 L745.9 845.5 L739.2 845.5 L732.4 847.7 L725.6 852.2 L721.1 856.8 L714.4 856.8 L707.6 847.7 L700.8 843.2 L694.1 845.5 L687.3 845.5 L682.8 847.7 L678.3 850.0 L673.8 845.5 L673.0 847.4 L664.7 854.2 L657.9 861.0 L651.1 858.7 L644.4 863.2 L637.6 863.2 L630.8 863.2 L624.1 867.7 L617.3 874.5 L612.8 888.0 L609.4 897.0 L606.0 883.5 L599.3 879.0 L592.5 872.2 L585.7 861.0 L576.7 852.0 L567.7 849.7 L558.7 849.7 L551.9 854.2 L545.2 863.2 L538.4 867.7 L531.6 863.2 L524.9 861.0 L518.1 856.5 L511.3 861.0 L504.6 870.0 L497.8 888.0 L491.0 910.6 L486.5 937.6 L482.0 919.6 L477.5 924.1 L474.1 930.9 L473.0 899.3 L464.7 897.0 L457.9 892.5 L453.4 888.0 L448.9 876.8 L444.4 883.5 L439.9 892.5 L435.3 888.0 L430.8 879.0 L426.3 865.5 L421.8 854.2 L417.3 849.7 L412.8 845.2 L406.0 842.9 L399.3 840.7 L392.5 840.7 L385.7 842.9 L379.0 852.0 L372.2 856.5 L365.4 863.2 L360.9 863.2 L354.2 852.0 L347.4 856.5 L340.6 863.2 L336.1 870.0 L331.6 874.5 L327.1 867.7 L321.5 876.8 L318.1 872.2 L313.6 863.2 L309.1 867.7 L304.6 879.0 L300.1 897.0 L295.5 894.8 L289.9 901.6 L286.5 897.0 L279.8 879.0 L274.1 872.2 L273.0 872.2 L264.7 865.5 L257.9 856.5 L251.1 852.0 L244.4 849.7 L237.6 852.0 L230.8 854.2 L224.1 858.7 L217.3 861.0 L210.5 863.2 L203.8 865.5 L199.3 861.0 L194.8 870.0 L188.0 856.5 L183.5 852.0 L179.0 856.5 L174.5 854.2 L167.7 849.7 L160.9 847.4 L154.2 844.1 L147.4 845.2 L140.6 845.2 L133.9 842.9 L127.1 847.4 L120.4 849.7 L113.6 845.2 L106.8 842.9 L100.1 840.7 L93.3 840.7 L86.5 849.7 L79.8 861.0 L73.0 865.5Z" fill="#ff0000" fill-opacity="0.2" stroke="#ffffff" stroke-width="1.1" stroke-linejoin="round"/>
<path d="M73.0 779.8 L77.5 770.8 L82.0 757.2 L86.5 753.9 L91.0 759.5 L95.5 761.8 L97.8 770.8 L100.1 777.5 L104.6 777.5 L109.1 784.3 L113.6 793.3 L118.1 802.3 L120.4 806.9 L123.7 800.1 L128.2 797.8 L132.8 784.3 L137.3 788.8 L141.8 784.3 L147.4 779.8 L151.9 770.8 L156.4 764.0 L159.8 764.0 L163.2 775.3 L166.6 791.1 L170.0 786.6 L173.3 779.8 L176.7 782.1 L181.2 784.3 L185.7 782.1 L190.2 779.8 L194.8 777.5 L199.3 775.3 L203.8 775.3 L208.3 779.8 L215.1 783.2 L221.8 784.3 L228.6 786.6 L235.3 786.6 L244.4 785.4 L253.4 785.4 L262.4 786.6 L273.0 788.8 L274.1 786.6 L279.8 786.6 L286.5 786.6 L293.3 787.7 L300.1 787.7 L306.8 788.8 L313.6 791.1 L320.4 791.1 L324.9 786.6 L331.6 784.3 L338.4 780.9 L345.2 778.7 L351.9 780.9 L358.7 783.2 L365.4 784.3 L372.2 786.6 L379.0 788.8 L383.5 791.1 L388.0 788.8 L392.5 784.3 L397.0 784.3 L402.7 786.6 L408.3 786.6 L412.8 784.3 L417.3 784.3 L421.8 788.8 L428.6 795.6 L434.2 793.3 L439.9 787.7 L444.4 787.7 L448.9 784.3 L453.4 777.5 L457.9 769.7 L462.4 773.0 L466.9 775.3 L473.0 786.6 L474.1 783.2 L478.6 779.8 L484.3 786.6 L488.8 797.8 L493.3 811.4 L497.8 818.1 L501.2 820.4 L504.6 797.8 L506.4 773.0 L509.1 779.8 L513.6 786.6 L518.1 793.3 L522.6 786.6 L527.1 788.8 L531.6 802.3 L536.1 820.4 L538.4 831.7 L542.9 829.4 L547.4 824.9 L550.8 813.6 L554.2 797.8 L558.7 784.3 L563.2 770.8 L567.7 752.7 L571.8 741.5 L574.5 752.7 L579.0 757.2 L582.4 766.3 L585.7 786.6 L589.1 777.5 L593.6 784.3 L598.1 795.6 L602.7 806.9 L606.0 818.1 L609.4 833.9 L613.9 833.9 L617.3 797.8 L619.6 768.5 L622.9 779.8 L626.3 791.1 L630.8 788.8 L634.2 782.1 L637.6 775.3 L642.1 786.6 L646.6 802.3 L651.1 818.1 L655.6 811.4 L660.1 802.3 L664.7 793.3 L669.2 788.8 L673.0 784.3 L673.8 789.1 L676.0 786.9 L680.5 782.3 L685.1 777.8 L689.6 780.1 L694.1 782.3 L698.6 785.7 L703.1 786.9 L707.6 785.7 L712.1 783.5 L716.6 777.8 L721.1 768.8 L725.6 764.3 L729.0 777.8 L732.4 793.6 L735.8 786.9 L739.2 777.8 L742.6 784.6 L745.9 789.1 L749.3 782.3 L752.7 777.8 L757.2 782.3 L761.7 759.8 L765.1 739.5 L768.5 741.8 L771.9 750.8 L775.2 766.6 L779.8 775.6 L784.3 777.8 L788.8 795.9 L793.3 813.9 L797.8 834.2 L802.3 818.4 L806.8 804.9 L810.2 786.9 L812.5 782.3 L815.8 791.4 L820.3 777.8 L824.9 768.8 L829.4 753.0 L832.7 732.7 L836.1 719.2 L839.5 719.2 L841.8 737.2 L844.0 795.9 L846.3 807.1 L849.7 782.3 L854.2 775.6 L858.0 777.8" fill="none" stroke="#ff0000" stroke-width="3.5" stroke-linejoin="round" stroke-linecap="round"/>
<path d="M73.0 784.3 L76.4 777.5 L79.8 775.3 L84.3 777.5 L88.8 777.5 L93.3 770.8 L96.7 757.2 L100.1 739.2 L103.4 761.8 L105.7 770.8 L109.1 764.0 L113.6 748.2 L118.1 743.7 L122.6 748.2 L127.1 750.5 L131.6 752.7 L137.3 752.7 L141.8 759.5 L146.3 766.3 L150.8 775.3 L155.3 779.8 L159.8 782.1 L164.3 782.1 L168.8 779.8 L173.3 784.3 L177.8 787.7 L182.4 788.8 L185.7 789.9 L189.1 779.8 L193.6 778.7 L199.3 779.8 L204.9 777.5 L209.4 768.5 L212.8 755.0 L216.2 766.3 L219.6 773.0 L224.1 766.3 L228.6 761.8 L233.1 759.5 L237.6 762.9 L244.4 766.3 L251.1 768.5 L255.6 770.8 L260.1 775.3 L266.9 779.8 L273.0 784.3 L274.1 784.3 L279.8 783.2 L286.5 783.2 L293.3 784.3 L300.1 783.2 L306.8 784.3 L313.6 785.4 L319.2 788.8 L323.7 795.6 L327.1 800.1 L330.5 791.1 L333.9 793.3 L338.4 802.3 L342.9 809.1 L347.4 812.5 L353.0 811.4 L357.6 813.6 L362.1 818.1 L365.4 818.1 L370.0 813.6 L374.5 806.9 L377.8 797.8 L382.4 793.3 L386.9 789.9 L390.2 791.1 L394.8 795.6 L398.1 797.8 L402.7 786.6 L407.2 782.1 L410.5 773.0 L413.9 784.3 L417.3 800.1 L421.8 801.2 L426.3 797.8 L430.8 800.1 L434.2 815.9 L436.5 842.9 L439.4 881.3 L442.1 854.2 L444.4 818.1 L447.7 820.4 L451.1 842.9 L454.5 865.5 L457.9 876.8 L461.3 865.5 L465.8 861.0 L469.2 856.5 L473.0 847.4 L474.1 849.7 L476.4 856.5 L480.9 838.4 L485.4 829.4 L489.9 802.3 L495.5 793.3 L500.1 786.6 L504.6 788.8 L509.1 795.6 L513.6 788.8 L518.1 784.3 L523.7 777.5 L528.2 793.3 L533.9 793.3 L538.4 788.8 L542.9 793.3 L547.4 795.6 L551.9 797.8 L556.4 791.1 L560.9 784.3 L565.4 779.8 L570.0 775.3 L574.5 773.0 L579.0 768.5 L583.5 766.3 L589.1 757.2 L593.6 759.5 L598.1 761.8 L602.7 770.8 L607.2 777.5 L612.8 782.1 L617.3 777.5 L621.8 773.0 L626.3 784.3 L630.8 786.6 L635.3 793.3 L638.7 795.6 L642.1 770.8 L646.6 770.8 L651.1 773.0 L655.6 775.3 L659.0 766.3 L662.4 734.7 L665.8 707.6 L669.2 737.0 L673.0 761.8 L673.8 762.1 L676.0 750.8 L679.4 737.2 L682.8 721.5 L686.2 719.2 L689.6 730.5 L694.1 735.0 L698.6 741.8 L703.1 741.8 L707.6 753.0 L712.1 762.1 L716.6 773.3 L721.1 777.8 L725.6 781.2 L732.4 780.1 L738.0 781.2 L742.6 784.6 L748.2 785.7 L753.8 786.9 L759.5 785.7 L765.1 786.9 L770.7 788.0 L775.2 793.6 L778.6 800.4 L783.1 793.6 L787.7 800.4 L792.2 807.1 L796.7 813.9 L802.3 813.9 L806.8 816.2 L811.3 813.9 L815.8 818.4 L820.3 811.7 L824.9 809.4 L829.4 795.9 L833.9 789.1 L838.4 786.9 L842.9 789.1 L847.4 791.4 L851.9 789.1 L858.0 782.3" fill="none" stroke="#0000ff" stroke-width="3.5" stroke-linejoin="round" stroke-linecap="round"/></g>
<path d="M126.8 1002.0v-6 M183.2 1002.0v-6 M239.7 1002.0v-6 M296.2 1002.0v-6 M352.6 1002.0v-6 M409.1 1002.0v-6 M465.5 1002.0v-6 M522.0 1002.0v-6 M578.4 1002.0v-6 M634.9 1002.0v-6 M691.3 1002.0v-6 M747.8 1002.0v-6 M804.2 1002.0v-6 M73 662.3h5.5 M73 785.0h5.5 M73 907.7h5.5" stroke="#262626" stroke-width="1.3" fill="none"/>
<rect x="70" y="564.7" width="791.0" height="440.3" fill="none" stroke="#000" stroke-width="6"/>
<text x="55.5" y="673.6" font-size="31.5" text-anchor="end" fill="#1a1a1a" stroke="#1a1a1a" stroke-width="0.3">0.1</text>
<text x="55.5" y="796.3" font-size="31.5" text-anchor="end" fill="#1a1a1a" stroke="#1a1a1a" stroke-width="0.3">0</text>
<text x="55.5" y="919.0" font-size="31.5" text-anchor="end" fill="#1a1a1a" stroke="#1a1a1a" stroke-width="0.3">-0.1</text>
</g>
<g id="pand">
<clipPath id="clipd"><rect x="900" y="567.7" width="785.0" height="434.1"/></clipPath>
<path d="M953.9 567.7V1001.8 M1010.4 567.7V1001.8 M1066.8 567.7V1001.8 M1123.2 567.7V1001.8 M1179.7 567.7V1001.8 M1236.2 567.7V1001.8 M1292.6 567.7V1001.8 M1349.0 567.7V1001.8 M1405.5 567.7V1001.8 M1462.0 567.7V1001.8 M1518.4 567.7V1001.8 M1574.8 567.7V1001.8 M1631.3 567.7V1001.8" stroke="#262626" stroke-opacity="0.15" stroke-width="1.3" fill="none"/>
<path d="M900 601.8H1685 M900 693.5H1685 M900 785.2H1685 M900 876.9H1685 M900 968.6H1685" stroke="#262626" stroke-opacity="0.15" stroke-width="1.3" fill="none"/>
<g clip-path="url(#clipd)"><path d="M900.0 789.4 L904.5 787.1 L909.0 784.9 L912.4 780.4 L915.8 760.1 L919.2 757.8 L922.5 775.9 L925.9 789.4 L929.3 780.4 L932.7 766.9 L936.1 757.8 L939.5 764.6 L942.8 780.4 L947.4 784.9 L951.9 787.1 L956.4 789.4 L960.9 791.7 L964.3 796.2 L967.6 809.7 L971.0 818.7 L974.4 802.9 L977.8 775.9 L981.2 753.3 L984.6 746.6 L987.9 739.8 L991.3 739.8 L994.7 746.6 L999.2 751.1 L1001.5 726.3 L1004.8 710.5 L1008.2 706.0 L1011.6 685.7 L1015.0 690.2 L1017.2 712.7 L1019.5 735.3 L1022.9 757.8 L1026.3 778.1 L1030.8 780.4 L1035.3 784.9 L1039.8 789.4 L1044.3 807.4 L1048.8 816.5 L1052.2 807.4 L1055.6 825.5 L1057.8 848.0 L1062.3 843.5 L1066.9 843.5 L1071.4 845.8 L1075.9 852.5 L1080.4 848.0 L1083.8 830.0 L1087.1 845.8 L1090.5 859.3 L1093.9 881.8 L1097.3 895.4 L1100.0 870.6 L1101.3 880.5 L1102.6 870.1 L1105.2 849.4 L1109.1 839.1 L1112.9 826.1 L1116.8 821.0 L1120.7 818.4 L1124.6 784.7 L1128.5 789.9 L1131.0 828.7 L1134.9 831.3 L1138.8 810.6 L1142.7 815.8 L1146.6 813.2 L1151.7 813.2 L1156.9 818.4 L1162.1 823.6 L1167.3 836.5 L1171.2 846.8 L1175.0 828.7 L1178.9 828.7 L1182.8 828.7 L1186.7 818.4 L1190.6 777.0 L1194.4 771.8 L1198.3 774.4 L1202.2 766.6 L1206.1 745.9 L1210.0 761.5 L1213.8 771.8 L1217.7 745.9 L1221.6 764.0 L1225.5 782.2 L1229.4 795.1 L1233.2 777.0 L1237.1 756.3 L1241.0 766.6 L1244.9 777.0 L1248.8 769.2 L1252.7 745.9 L1256.5 735.6 L1260.4 714.9 L1264.3 735.6 L1268.2 745.9 L1272.1 735.6 L1275.9 704.5 L1278.5 652.8 L1283.7 652.8 L1288.9 652.8 L1294.0 660.6 L1300.0 673.5 L1301.3 670.9 L1303.9 681.3 L1307.8 725.2 L1311.6 694.2 L1315.5 691.6 L1320.7 696.8 L1325.9 699.4 L1331.0 709.7 L1336.2 730.4 L1340.1 751.1 L1344.0 764.0 L1347.9 777.0 L1351.7 782.2 L1355.6 751.1 L1359.5 725.2 L1363.4 699.4 L1367.3 673.5 L1369.9 655.4 L1372.4 686.4 L1376.3 725.2 L1378.9 702.0 L1381.5 707.1 L1385.4 725.2 L1389.3 740.8 L1393.1 756.3 L1397.0 766.6 L1400.9 751.1 L1403.5 735.6 L1406.1 740.8 L1408.7 756.3 L1412.5 777.0 L1416.4 782.2 L1420.3 784.7 L1424.2 777.0 L1426.8 777.0 L1429.4 828.7 L1433.2 880.5 L1437.1 908.9 L1441.0 916.7 L1444.9 880.5 L1448.8 802.9 L1451.4 777.0 L1453.9 841.7 L1456.5 906.4 L1459.1 937.4 L1463.0 919.3 L1466.9 880.5 L1470.8 854.6 L1474.6 841.7 L1478.5 808.0 L1482.4 797.7 L1486.3 802.9 L1491.5 789.9 L1496.6 784.7 L1500.0 789.9 L1500.5 795.1 L1504.4 797.7 L1508.3 810.6 L1512.2 818.4 L1516.0 808.0 L1519.9 802.9 L1523.8 789.9 L1526.4 802.9 L1530.3 821.0 L1534.2 833.9 L1538.0 821.0 L1541.9 802.9 L1545.8 787.3 L1549.7 792.5 L1553.6 784.7 L1557.4 771.8 L1561.3 784.7 L1565.2 810.6 L1569.1 787.3 L1573.0 777.0 L1576.8 789.9 L1580.7 815.8 L1583.3 828.7 L1587.2 802.9 L1591.1 795.1 L1596.3 789.9 L1600.1 761.5 L1604.0 714.9 L1606.6 714.9 L1610.5 764.0 L1614.4 777.0 L1618.2 792.5 L1622.1 771.8 L1626.0 714.9 L1629.9 696.8 L1633.8 709.7 L1637.7 725.2 L1641.5 751.1 L1645.4 751.1 L1650.6 748.5 L1654.5 777.0 L1658.4 797.7 L1662.2 802.9 L1666.1 779.6 L1670.0 771.8 L1673.9 777.0 L1677.8 784.7 L1681.6 797.7 L1685.0 797.7" fill="none" stroke="#00ff00" stroke-width="8" stroke-linejoin="round" stroke-linecap="round"/>
<path d="M900.0 787.1 L904.5 807.4 L909.0 818.7 L913.5 832.2 L916.9 852.5 L920.3 825.5 L923.7 802.9 L927.1 796.2 L931.6 798.4 L934.9 802.9 L938.3 809.7 L942.8 818.7 L947.4 825.5 L951.9 823.2 L956.4 814.2 L960.9 821.0 L965.4 827.7 L969.9 823.2 L974.4 816.5 L978.9 812.0 L983.4 807.4 L987.9 802.9 L992.4 796.2 L997.0 789.4 L1001.5 784.9 L1006.0 787.1 L1010.5 789.4 L1015.0 791.7 L1019.5 798.4 L1024.0 807.4 L1028.5 814.2 L1033.0 818.7 L1036.4 807.4 L1039.8 796.2 L1044.3 793.9 L1048.8 793.9 L1053.3 802.9 L1057.8 807.4 L1062.3 807.4 L1066.9 805.2 L1071.4 802.9 L1075.9 801.8 L1080.4 800.7 L1084.9 799.5 L1089.4 798.4 L1093.9 798.4 L1100.0 796.2 L1101.3 800.3 L1105.2 797.7 L1110.3 795.1 L1115.5 792.5 L1120.7 792.5 L1125.9 791.2 L1131.0 784.7 L1136.2 777.0 L1141.4 771.8 L1146.6 774.4 L1151.7 779.6 L1156.9 782.2 L1162.1 779.6 L1167.3 761.5 L1172.4 756.3 L1177.6 756.3 L1182.8 751.1 L1188.0 745.9 L1193.1 743.4 L1198.3 740.8 L1203.5 735.6 L1208.7 738.2 L1213.8 730.4 L1219.0 735.6 L1224.2 748.5 L1229.4 756.3 L1234.5 751.1 L1239.7 748.5 L1244.9 745.9 L1248.8 740.8 L1252.7 725.2 L1256.5 707.1 L1260.4 725.2 L1265.6 751.1 L1270.8 753.7 L1275.9 761.5 L1278.5 730.4 L1281.1 699.4 L1286.3 696.8 L1291.5 704.5 L1296.6 714.9 L1300.0 714.9 L1301.3 703.2 L1305.2 704.5 L1310.3 704.5 L1315.5 714.9 L1320.7 730.4 L1325.9 745.9 L1331.0 756.3 L1336.2 774.4 L1340.1 789.9 L1345.3 797.7 L1350.5 795.1 L1354.3 789.9 L1358.2 756.3 L1362.1 735.6 L1366.0 722.7 L1369.9 707.1 L1373.7 727.8 L1377.6 745.9 L1382.8 758.9 L1388.0 766.6 L1391.8 789.9 L1395.7 808.0 L1399.6 818.4 L1403.5 815.8 L1408.7 810.6 L1413.8 810.6 L1419.0 818.4 L1424.2 826.1 L1429.4 836.5 L1434.5 844.3 L1439.7 854.6 L1444.9 877.9 L1450.1 862.4 L1455.2 854.6 L1460.4 870.1 L1465.6 854.6 L1470.8 828.7 L1475.9 818.4 L1481.1 808.0 L1486.3 797.7 L1491.5 792.5 L1496.6 797.7 L1500.0 795.1 L1500.5 792.5 L1504.4 787.3 L1508.3 815.8 L1510.9 854.6 L1514.8 857.2 L1518.6 849.4 L1523.8 836.5 L1529.0 831.3 L1534.2 826.1 L1539.3 823.6 L1544.5 818.4 L1549.7 808.0 L1553.6 797.7 L1557.4 784.7 L1562.6 771.8 L1567.8 761.5 L1573.0 760.2 L1578.1 761.5 L1582.0 766.6 L1585.9 795.1 L1589.8 802.9 L1593.7 802.9 L1598.8 808.0 L1604.0 797.7 L1609.2 792.5 L1614.4 782.2 L1618.2 756.3 L1622.1 733.0 L1626.0 727.8 L1629.9 738.2 L1633.8 740.8 L1637.7 756.3 L1641.5 758.9 L1645.4 756.3 L1650.6 738.2 L1655.8 730.4 L1660.9 717.5 L1666.1 702.0 L1671.3 689.0 L1676.5 691.6 L1681.6 707.1 L1685.0 709.7" fill="none" stroke="#ff00ff" stroke-width="8" stroke-linejoin="round" stroke-linecap="round"/>
<path d="M900.0 717.2 L904.5 735.3 L909.0 746.6 L913.5 757.8 L918.0 762.3 L922.5 762.3 L927.1 764.6 L933.8 762.3 L940.6 757.8 L945.1 724.0 L948.5 733.0 L951.9 746.6 L956.4 757.8 L960.9 766.9 L965.4 766.9 L969.9 762.3 L974.4 757.8 L978.9 753.3 L983.4 744.3 L987.9 735.3 L992.4 733.0 L997.0 739.8 L1001.5 744.3 L1006.0 744.3 L1010.5 746.6 L1015.0 757.8 L1019.5 762.3 L1024.0 771.4 L1028.5 778.1 L1033.0 780.4 L1037.5 778.1 L1042.1 775.9 L1048.8 766.9 L1055.6 748.8 L1060.1 744.3 L1066.9 746.6 L1073.6 744.3 L1080.4 742.1 L1084.9 744.3 L1089.4 742.1 L1093.9 739.8 L1100.0 735.3 L1101.3 730.4 L1107.8 735.6 L1115.5 738.2 L1123.3 740.8 L1131.0 743.4 L1138.8 745.9 L1146.6 748.5 L1154.3 751.1 L1162.1 738.2 L1167.3 725.2 L1171.2 694.2 L1175.0 696.8 L1180.2 704.5 L1185.4 712.3 L1191.8 722.7 L1198.3 704.5 L1202.2 676.1 L1208.7 670.9 L1213.8 655.4 L1217.7 645.0 L1221.6 673.5 L1226.8 699.4 L1232.0 673.5 L1237.1 678.7 L1242.3 696.8 L1247.5 699.4 L1252.7 683.8 L1256.5 668.3 L1260.4 699.4 L1265.6 696.8 L1270.8 689.0 L1278.5 686.4 L1282.4 580.3 L1288.9 580.3 L1292.8 595.9 L1296.6 611.4 L1300.0 621.7 L1301.3 608.8 L1303.9 590.7 L1307.8 603.6 L1312.9 588.1 L1318.1 611.4 L1323.3 632.1 L1328.5 645.0 L1332.3 668.3 L1334.9 704.5 L1338.8 725.2 L1344.0 735.6 L1349.2 740.8 L1354.3 735.6 L1359.5 720.1 L1363.4 683.8 L1367.3 642.4 L1369.9 614.0 L1372.4 647.6 L1376.3 720.1 L1381.5 730.4 L1388.0 738.2 L1394.4 740.8 L1400.9 735.6 L1406.1 730.4 L1411.3 740.8 L1417.7 761.5 L1424.2 771.8 L1429.4 782.2 L1434.5 795.1 L1439.7 802.9 L1444.9 808.0 L1450.1 802.9 L1455.2 797.7 L1460.4 792.5 L1465.6 789.9 L1470.8 782.2 L1475.9 777.0 L1481.1 735.6 L1483.7 704.5 L1486.3 735.6 L1491.5 751.1 L1496.6 756.3 L1500.0 761.5 L1500.5 751.1 L1505.7 738.2 L1509.6 733.0 L1513.5 735.6 L1518.6 738.2 L1523.8 740.8 L1529.0 743.4 L1534.2 740.8 L1539.3 735.6 L1544.5 735.6 L1549.7 730.4 L1554.9 727.8 L1560.0 730.4 L1565.2 735.6 L1570.4 738.2 L1575.6 740.8 L1580.7 751.1 L1585.9 766.6 L1591.1 771.8 L1596.3 766.6 L1601.4 764.0 L1606.6 761.5 L1611.8 756.3 L1617.0 725.2 L1620.8 689.0 L1623.4 660.6 L1626.0 650.2 L1629.9 658.0 L1635.1 668.3 L1640.2 676.1 L1645.4 660.6 L1650.6 647.6 L1655.8 634.7 L1660.9 616.6 L1666.1 601.0 L1670.0 585.5 L1673.9 608.8 L1677.8 642.4 L1681.6 647.6 L1685.0 650.2 L1685.0 828.7 L1679.0 831.3 L1673.9 833.9 L1668.7 836.5 L1663.5 828.7 L1658.4 831.3 L1653.2 839.1 L1648.0 846.8 L1642.8 849.4 L1637.7 841.7 L1632.5 833.9 L1627.3 828.7 L1622.1 823.6 L1617.0 826.1 L1611.8 839.1 L1606.6 849.4 L1601.4 875.3 L1596.3 896.0 L1591.1 859.8 L1585.9 844.3 L1580.7 831.3 L1575.6 828.7 L1570.4 826.1 L1565.2 828.7 L1560.0 833.9 L1554.9 849.4 L1549.7 867.5 L1545.8 880.5 L1540.6 893.4 L1536.7 906.4 L1532.9 901.2 L1527.7 906.4 L1523.8 916.7 L1518.6 927.1 L1513.5 937.4 L1509.6 981.4 L1505.7 893.4 L1500.5 880.5 L1500.0 880.5 L1494.0 877.9 L1488.9 875.3 L1485.0 880.5 L1481.1 896.0 L1475.9 880.5 L1470.8 906.4 L1465.6 927.1 L1460.4 945.2 L1456.5 932.2 L1452.7 914.1 L1448.8 932.2 L1444.9 952.9 L1439.7 921.9 L1434.5 906.4 L1429.4 893.4 L1424.2 875.3 L1419.0 870.1 L1415.1 862.4 L1408.7 857.2 L1403.5 867.5 L1398.3 870.1 L1394.4 854.6 L1389.3 839.1 L1382.8 833.9 L1377.6 828.7 L1372.4 828.7 L1367.3 833.9 L1362.1 839.1 L1356.9 844.3 L1351.7 849.4 L1346.6 854.6 L1342.7 844.3 L1336.5 848.9 L1331.6 858.7 L1326.9 848.9 L1319.7 833.6 L1313.7 825.1 L1307.8 814.5 L1301.3 805.4 L1300.0 815.8 L1294.0 813.2 L1286.3 813.2 L1278.5 811.9 L1270.8 810.6 L1263.0 810.6 L1255.2 810.6 L1247.5 813.2 L1239.7 818.4 L1232.0 824.9 L1224.2 822.3 L1216.4 818.4 L1208.7 813.2 L1200.9 813.2 L1193.1 815.8 L1185.4 815.8 L1177.6 818.4 L1169.9 818.4 L1162.1 818.4 L1154.3 821.0 L1149.2 823.6 L1144.0 828.7 L1138.8 826.1 L1133.6 831.3 L1128.5 833.9 L1123.3 841.7 L1119.4 857.2 L1115.5 844.3 L1110.3 833.9 L1105.2 831.3 L1101.3 831.3 L1100.0 832.2 L1093.9 834.5 L1087.1 843.5 L1082.6 850.3 L1078.1 848.0 L1073.6 854.8 L1069.1 861.6 L1064.6 868.3 L1060.1 875.1 L1056.7 872.8 L1053.3 848.0 L1048.8 839.0 L1044.3 836.8 L1039.8 834.5 L1035.3 839.0 L1030.8 848.0 L1026.3 843.5 L1021.8 839.0 L1017.2 834.5 L1012.7 834.5 L1008.2 839.0 L1003.7 834.5 L999.2 839.0 L994.7 854.8 L990.2 879.6 L985.7 872.8 L981.2 875.1 L976.7 881.8 L972.2 886.4 L968.8 879.6 L965.4 884.1 L962.0 879.6 L958.6 881.8 L954.1 893.1 L949.6 906.7 L945.1 913.4 L941.7 893.1 L938.3 845.8 L933.8 843.5 L929.3 848.0 L924.8 852.5 L920.3 859.3 L916.9 884.1 L913.5 863.8 L909.0 859.3 L904.5 852.5 L900.0 848.0Z" fill="#0000ff" fill-opacity="0.2" stroke="#ffffff" stroke-width="1.1" stroke-linejoin="round"/>
<path d="M900.0 773.6 L904.5 775.9 L909.0 778.1 L913.5 780.4 L918.0 782.6 L922.5 783.8 L927.1 783.8 L932.7 782.6 L937.2 780.4 L942.8 779.3 L948.5 780.4 L954.1 780.4 L959.8 783.8 L964.3 787.1 L968.8 782.6 L974.4 780.4 L980.0 779.3 L985.7 778.1 L991.3 775.9 L997.0 774.7 L1002.6 773.6 L1007.1 774.7 L1011.6 777.0 L1016.1 773.6 L1021.8 769.1 L1027.4 770.2 L1033.0 769.1 L1039.8 770.2 L1046.6 771.4 L1053.3 773.6 L1060.1 778.1 L1066.9 778.1 L1073.6 778.1 L1080.4 780.4 L1084.9 778.1 L1089.4 771.4 L1093.9 766.9 L1100.0 765.7 L1101.3 766.1 L1107.8 762.8 L1115.5 756.3 L1123.3 757.6 L1131.0 761.5 L1137.5 766.6 L1144.0 764.0 L1150.5 767.9 L1156.9 770.5 L1162.1 777.0 L1167.3 780.9 L1175.0 782.2 L1182.8 783.5 L1189.3 789.9 L1195.7 783.5 L1202.2 777.0 L1208.7 773.1 L1215.1 775.7 L1221.6 779.6 L1229.4 782.2 L1237.1 783.5 L1243.6 784.7 L1250.1 782.2 L1256.5 777.0 L1263.0 771.8 L1269.5 767.9 L1275.9 769.2 L1282.4 766.6 L1288.9 766.6 L1295.3 762.8 L1300.0 761.5 L1301.3 762.0 L1305.2 762.8 L1311.6 766.6 L1318.1 774.4 L1324.6 784.7 L1331.0 792.5 L1337.5 795.1 L1344.0 793.8 L1350.5 796.4 L1356.9 797.7 L1363.4 799.0 L1368.6 792.5 L1373.7 786.0 L1380.2 784.7 L1386.7 788.6 L1393.1 792.5 L1399.6 795.1 L1406.1 797.7 L1412.5 799.0 L1419.0 796.4 L1425.5 791.2 L1430.7 787.3 L1435.8 786.0 L1442.3 789.9 L1448.8 795.1 L1455.2 797.7 L1461.7 800.3 L1468.2 802.9 L1474.6 805.4 L1481.1 806.7 L1487.6 808.0 L1494.0 813.2 L1500.0 814.5 L1500.5 811.9 L1505.7 814.5 L1510.9 815.8 L1516.0 817.1 L1521.2 818.4 L1526.4 818.4 L1531.6 817.1 L1536.7 813.2 L1541.9 808.0 L1547.1 806.7 L1552.3 806.7 L1557.4 809.3 L1562.6 809.3 L1567.8 806.7 L1573.0 809.3 L1578.1 810.6 L1583.3 810.6 L1588.5 808.0 L1593.7 804.2 L1598.8 797.7 L1604.0 792.5 L1609.2 788.6 L1614.4 786.0 L1619.5 783.5 L1624.7 780.9 L1629.9 779.6 L1635.1 778.3 L1640.2 777.0 L1645.4 774.4 L1650.6 771.8 L1655.8 774.4 L1660.9 777.0 L1666.1 780.9 L1671.3 783.5 L1676.5 784.7 L1681.6 786.0 L1685.0 786.0" fill="none" stroke="#000000" stroke-width="6.5" stroke-linejoin="round" stroke-linecap="round"/>
<path d="M900.0 712.7 L904.5 721.8 L911.3 726.3 L918.0 728.5 L924.8 728.5 L931.6 727.4 L938.3 726.3 L945.1 726.3 L951.9 726.3 L958.6 726.3 L965.4 725.1 L972.2 724.0 L978.9 722.9 L985.7 722.9 L992.4 722.9 L999.2 721.8 L1006.0 719.5 L1012.7 717.2 L1019.5 715.0 L1026.3 717.2 L1033.0 719.5 L1039.8 718.4 L1046.6 717.2 L1053.3 717.2 L1060.1 719.5 L1066.9 721.8 L1073.6 721.8 L1080.4 719.5 L1084.9 710.5 L1089.4 703.7 L1093.9 701.5 L1100.0 703.7 L1101.3 703.2 L1107.8 696.8 L1115.5 691.6 L1123.3 696.8 L1131.0 699.4 L1138.8 709.7 L1144.0 707.1 L1149.2 704.5 L1154.3 709.7 L1160.8 704.5 L1167.3 720.1 L1173.7 727.8 L1180.2 730.4 L1185.4 727.8 L1193.1 722.7 L1200.9 725.2 L1208.7 733.0 L1216.4 738.2 L1224.2 735.6 L1232.0 735.6 L1239.7 733.0 L1247.5 725.2 L1255.2 704.5 L1263.0 691.6 L1268.2 689.0 L1273.4 694.2 L1278.5 699.4 L1283.7 704.5 L1291.5 714.9 L1300.0 725.2 L1301.3 665.7 L1305.2 663.1 L1310.3 665.7 L1315.5 668.3 L1320.7 673.5 L1325.9 681.3 L1331.0 699.4 L1336.2 714.9 L1341.4 727.8 L1346.6 730.4 L1351.7 733.0 L1356.9 730.4 L1362.1 725.2 L1367.3 722.7 L1372.4 725.2 L1377.6 730.4 L1382.8 735.6 L1390.6 738.2 L1398.3 735.6 L1403.5 730.4 L1408.7 725.2 L1413.8 720.1 L1419.0 709.7 L1424.2 699.4 L1429.4 694.2 L1434.5 694.2 L1439.7 702.0 L1444.9 714.9 L1450.1 722.7 L1457.8 725.2 L1465.6 725.2 L1473.4 725.2 L1481.1 725.2 L1491.5 725.2 L1500.0 725.2 L1500.5 725.2 L1505.7 722.7 L1510.9 725.2 L1516.0 725.2 L1521.2 722.7 L1526.4 717.5 L1531.6 712.3 L1536.7 704.5 L1540.6 700.7 L1544.5 707.1 L1549.7 712.3 L1554.9 717.5 L1560.0 714.9 L1565.2 712.3 L1570.4 714.9 L1575.6 707.1 L1580.7 699.4 L1585.9 694.2 L1591.1 686.4 L1596.3 673.5 L1600.1 670.9 L1604.0 676.1 L1607.9 673.5 L1611.8 670.9 L1615.7 676.1 L1619.5 683.8 L1624.7 683.8 L1629.9 686.4 L1635.1 689.0 L1640.2 683.8 L1645.4 683.8 L1650.6 686.4 L1655.8 683.8 L1660.9 689.0 L1666.1 699.4 L1671.3 704.5 L1676.5 707.1 L1681.6 712.3 L1685.0 714.9 L1685.0 865.0 L1681.6 867.5 L1676.5 870.1 L1671.3 872.7 L1666.1 875.3 L1660.9 877.9 L1655.8 875.3 L1650.6 872.7 L1645.4 870.1 L1640.2 872.7 L1635.1 875.3 L1629.9 877.9 L1624.7 880.5 L1619.5 885.7 L1614.4 890.8 L1609.2 901.2 L1604.0 906.4 L1598.8 911.5 L1593.7 916.7 L1588.5 914.1 L1583.3 911.5 L1578.1 906.4 L1573.0 901.2 L1567.8 898.6 L1562.6 896.0 L1557.4 893.4 L1552.3 888.2 L1547.1 888.2 L1541.9 893.4 L1536.7 901.2 L1531.6 901.2 L1526.4 898.6 L1521.2 896.0 L1516.0 890.8 L1510.9 888.2 L1505.7 883.1 L1500.5 880.5 L1500.0 880.5 L1494.0 875.3 L1486.3 870.1 L1478.5 865.0 L1470.8 862.4 L1463.0 859.8 L1455.2 857.2 L1447.5 854.6 L1439.7 854.6 L1432.0 857.2 L1426.8 859.8 L1421.6 862.4 L1416.4 859.8 L1411.3 854.6 L1406.1 849.4 L1400.9 846.8 L1395.7 841.7 L1390.6 833.9 L1385.4 831.3 L1380.2 828.7 L1375.0 826.1 L1369.9 833.9 L1364.7 839.1 L1359.5 844.3 L1354.3 849.4 L1349.2 854.6 L1344.0 849.4 L1338.8 854.6 L1333.6 867.5 L1328.5 877.9 L1324.6 890.8 L1322.0 880.5 L1316.0 873.0 L1308.0 854.9 L1301.3 843.0 L1300.0 839.1 L1296.6 833.9 L1288.9 831.3 L1281.1 828.7 L1273.4 833.9 L1265.6 844.3 L1257.8 846.8 L1252.7 841.7 L1244.9 828.7 L1237.1 821.0 L1229.4 821.0 L1221.6 815.8 L1213.8 813.2 L1208.7 818.4 L1203.5 828.7 L1198.3 839.1 L1193.1 849.4 L1188.0 844.3 L1182.8 836.5 L1177.6 839.1 L1172.4 844.3 L1167.3 854.6 L1162.1 849.4 L1154.3 839.1 L1146.6 836.5 L1138.8 828.7 L1131.0 823.6 L1123.3 821.0 L1115.5 826.1 L1107.8 828.7 L1101.3 828.7 L1100.0 834.5 L1093.9 839.0 L1087.1 845.8 L1080.4 848.0 L1073.6 843.5 L1066.9 845.8 L1060.1 845.8 L1053.3 841.3 L1046.6 836.8 L1039.8 834.5 L1033.0 836.8 L1026.3 839.0 L1019.5 839.0 L1012.7 836.8 L1006.0 836.8 L999.2 834.5 L992.4 836.8 L985.7 839.0 L978.9 839.0 L972.2 839.0 L965.4 841.3 L958.6 839.0 L951.9 839.0 L945.1 841.3 L938.3 841.3 L931.6 843.5 L924.8 845.8 L918.0 845.8 L911.3 843.5 L904.5 841.3 L900.0 843.5Z" fill="#ff0000" fill-opacity="0.2" stroke="#ffffff" stroke-width="1.1" stroke-linejoin="round"/>
<path d="M900.0 762.3 L903.4 764.6 L906.8 793.9 L910.1 798.4 L913.5 809.7 L916.9 823.2 L920.3 807.4 L923.7 796.2 L927.1 789.4 L930.4 796.2 L933.8 793.9 L937.2 784.9 L940.6 780.4 L945.1 775.9 L948.5 773.6 L951.9 782.6 L955.2 780.4 L958.6 782.6 L962.0 789.4 L966.5 789.4 L971.0 784.9 L975.5 780.4 L980.0 778.1 L984.6 773.6 L989.1 771.4 L994.7 769.1 L1000.3 768.0 L1006.0 768.0 L1010.5 771.4 L1015.0 775.9 L1019.5 778.1 L1022.9 789.4 L1026.3 790.5 L1030.8 796.2 L1035.3 789.4 L1039.8 787.1 L1045.4 786.0 L1051.1 784.9 L1057.8 783.8 L1064.6 783.8 L1071.4 783.8 L1078.1 784.9 L1084.9 784.9 L1091.7 786.0 L1100.0 787.1 L1101.3 788.6 L1106.5 789.9 L1112.9 789.9 L1120.7 789.9 L1128.5 787.3 L1136.2 782.2 L1142.7 777.0 L1147.9 779.6 L1151.7 784.7 L1158.2 783.5 L1164.7 783.5 L1171.2 786.0 L1177.6 784.7 L1184.1 784.7 L1190.6 784.7 L1197.0 786.0 L1203.5 787.3 L1210.0 789.9 L1216.4 791.2 L1222.9 792.5 L1229.4 793.8 L1235.8 792.5 L1242.3 791.2 L1247.5 782.2 L1252.7 777.0 L1256.5 770.5 L1260.4 774.4 L1265.6 779.6 L1270.8 777.0 L1275.9 784.7 L1281.1 789.9 L1286.3 793.8 L1291.5 787.3 L1296.6 787.3 L1300.0 782.2 L1301.3 782.2 L1305.2 782.2 L1311.6 787.3 L1318.1 792.5 L1323.3 802.9 L1328.5 810.6 L1333.6 815.8 L1340.1 819.7 L1345.3 826.1 L1349.2 818.4 L1353.0 815.8 L1356.9 813.2 L1360.8 787.3 L1364.7 756.3 L1368.6 725.2 L1372.4 756.3 L1376.3 774.4 L1380.2 777.0 L1384.1 761.5 L1388.0 777.0 L1391.8 792.5 L1395.7 802.9 L1398.3 808.0 L1402.2 787.3 L1406.1 797.7 L1410.0 782.2 L1413.8 777.0 L1419.0 777.0 L1424.2 787.3 L1429.4 792.5 L1434.5 802.9 L1439.7 818.4 L1444.9 826.1 L1450.1 828.7 L1455.2 826.1 L1459.1 823.6 L1463.0 818.4 L1466.9 813.2 L1470.8 797.7 L1473.4 771.8 L1478.5 766.6 L1482.4 748.5 L1486.3 756.3 L1490.2 771.8 L1492.8 784.7 L1496.6 777.0 L1500.0 777.0 L1500.5 779.6 L1503.1 782.2 L1507.0 787.3 L1510.9 788.6 L1516.0 784.7 L1523.8 784.7 L1531.6 784.7 L1539.3 783.5 L1547.1 779.6 L1552.3 771.8 L1557.4 766.6 L1562.6 760.2 L1567.8 757.6 L1573.0 751.1 L1576.8 756.3 L1582.0 758.9 L1585.9 800.3 L1588.5 797.7 L1592.4 815.8 L1596.3 841.7 L1600.1 818.4 L1604.0 795.1 L1607.9 802.9 L1611.8 810.6 L1615.7 795.1 L1619.5 779.6 L1623.4 758.9 L1627.3 774.4 L1631.2 789.9 L1635.1 774.4 L1638.9 792.5 L1642.8 795.1 L1646.7 795.1 L1650.6 787.3 L1654.5 779.6 L1658.4 764.0 L1662.2 751.1 L1666.1 735.6 L1671.3 727.8 L1676.5 725.2 L1681.6 722.7 L1685.0 720.1" fill="none" stroke="#ff0000" stroke-width="3.5" stroke-linejoin="round" stroke-linecap="round"/>
<path d="M900.0 807.4 L904.5 807.4 L910.1 809.7 L914.7 813.1 L918.0 814.2 L921.4 800.7 L924.8 797.3 L929.3 798.4 L933.8 796.2 L937.2 793.9 L939.5 807.4 L941.7 827.7 L945.1 828.9 L949.6 827.7 L954.1 823.2 L958.6 821.0 L963.1 818.7 L967.6 822.1 L972.2 819.8 L976.7 823.2 L981.2 821.0 L985.7 818.7 L990.2 819.8 L994.7 812.0 L999.2 805.2 L1003.7 800.7 L1008.2 806.3 L1012.7 804.1 L1017.2 800.7 L1021.8 802.9 L1026.3 805.2 L1030.8 806.3 L1035.3 796.2 L1039.8 793.9 L1045.4 792.8 L1049.9 790.5 L1053.3 802.9 L1055.6 812.0 L1060.1 810.8 L1064.6 809.7 L1069.1 807.4 L1073.6 805.2 L1078.1 802.9 L1082.6 801.8 L1087.1 800.7 L1093.9 798.4 L1100.0 796.2 L1101.3 797.2 L1105.2 795.1 L1110.3 791.2 L1115.5 789.9 L1120.7 789.9 L1125.9 788.6 L1131.0 787.3 L1136.2 782.2 L1141.4 779.6 L1146.6 779.6 L1151.7 780.9 L1156.9 780.9 L1162.1 782.2 L1166.0 761.5 L1169.9 756.3 L1175.0 753.7 L1180.2 751.1 L1185.4 748.5 L1190.6 745.9 L1195.7 740.8 L1200.9 735.6 L1206.1 734.3 L1211.3 730.4 L1215.1 726.5 L1219.0 725.2 L1222.9 738.2 L1226.8 751.1 L1230.7 745.9 L1234.5 738.2 L1239.7 743.4 L1244.9 743.4 L1250.1 738.2 L1255.2 727.8 L1258.3 725.2 L1261.7 753.7 L1265.6 756.3 L1270.8 758.9 L1275.9 769.2 L1278.5 735.6 L1281.1 694.2 L1286.3 690.3 L1291.5 694.2 L1296.6 709.7 L1300.0 712.3 L1301.3 707.1 L1303.9 702.0 L1307.8 709.7 L1312.9 704.5 L1318.1 714.9 L1323.3 720.1 L1328.5 722.7 L1333.6 725.2 L1337.5 738.2 L1341.4 756.3 L1345.3 751.1 L1350.5 756.3 L1355.6 764.0 L1362.1 766.6 L1368.6 769.2 L1373.7 777.0 L1378.9 782.2 L1385.4 784.7 L1391.8 789.9 L1397.0 795.1 L1402.2 800.3 L1407.4 805.4 L1413.8 808.0 L1419.0 815.8 L1424.2 823.6 L1429.4 828.7 L1434.5 828.7 L1439.7 833.9 L1444.9 839.1 L1448.8 828.7 L1452.7 818.4 L1456.5 815.8 L1460.4 826.1 L1465.6 822.3 L1470.8 819.7 L1475.9 826.1 L1481.1 833.9 L1485.0 818.4 L1487.6 805.4 L1492.8 808.0 L1496.6 802.9 L1500.0 797.7 L1500.5 797.7 L1503.1 808.0 L1507.0 852.0 L1510.9 853.3 L1514.8 846.8 L1518.6 841.7 L1522.5 836.5 L1526.4 833.9 L1530.3 831.3 L1535.5 826.1 L1540.6 821.0 L1545.8 815.8 L1551.0 813.2 L1556.2 805.4 L1561.3 797.7 L1566.5 792.5 L1571.7 792.5 L1576.8 789.9 L1582.0 787.3 L1587.2 784.7 L1592.4 782.2 L1597.5 779.6 L1602.7 782.2 L1607.9 779.6 L1613.1 782.2 L1617.0 774.4 L1620.8 756.3 L1626.0 751.1 L1631.2 753.7 L1636.4 751.1 L1641.5 748.5 L1646.7 745.9 L1651.9 742.1 L1657.1 740.8 L1662.2 743.4 L1667.4 740.8 L1671.3 742.1 L1675.2 751.1 L1679.0 761.5 L1682.9 756.3 L1685.0 751.1" fill="none" stroke="#0000ff" stroke-width="3.5" stroke-linejoin="round" stroke-linecap="round"/></g>
<path d="M953.9 1001.8v-6 M1010.4 1001.8v-6 M1066.8 1001.8v-6 M1123.2 1001.8v-6 M1179.7 1001.8v-6 M1236.2 1001.8v-6 M1292.6 1001.8v-6 M1349.0 1001.8v-6 M1405.5 1001.8v-6 M1462.0 1001.8v-6 M1518.4 1001.8v-6 M1574.8 1001.8v-6 M1631.3 1001.8v-6 M1685 601.8h-5.5 M1685 693.5h-5.5 M1685 785.2h-5.5 M1685 876.9h-5.5 M1685 968.6h-5.5" stroke="#262626" stroke-width="1.3" fill="none"/>
<rect x="897" y="564.7" width="791.0" height="440.1" fill="none" stroke="#000" stroke-width="6"/>
<text x="1702" y="613.1" font-size="31.5" fill="#1a1a1a" stroke="#1a1a1a" stroke-width="0.3">0.1</text>
<text x="1702" y="704.8" font-size="31.5" fill="#1a1a1a" stroke="#1a1a1a" stroke-width="0.3">0.05</text>
<text x="1702" y="796.5" font-size="31.5" fill="#1a1a1a" stroke="#1a1a1a" stroke-width="0.3">0</text>
<text x="1702" y="888.2" font-size="31.5" fill="#1a1a1a" stroke="#1a1a1a" stroke-width="0.3">-0.05</text>
<text x="1702" y="979.9" font-size="31.5" fill="#1a1a1a" stroke="#1a1a1a" stroke-width="0.3">-0.1</text>
</g>
<g id="pane">
<clipPath id="clipe"><rect x="73" y="1024.3" width="785.0" height="434.3"/></clipPath>
<path d="M126.8 1024.3V1458.6 M183.2 1024.3V1458.6 M239.7 1024.3V1458.6 M296.2 1024.3V1458.6 M352.6 1024.3V1458.6 M409.1 1024.3V1458.6 M465.5 1024.3V1458.6 M522.0 1024.3V1458.6 M578.4 1024.3V1458.6 M634.9 1024.3V1458.6 M691.3 1024.3V1458.6 M747.8 1024.3V1458.6 M804.2 1024.3V1458.6" stroke="#262626" stroke-opacity="0.15" stroke-width="1.3" fill="none"/>
<path d="M73 1063.9H858 M73 1150.3H858 M73 1236.7H858 M73 1323.0H858 M73 1409.4H858" stroke="#262626" stroke-opacity="0.15" stroke-width="1.3" fill="none"/>
<g clip-path="url(#clipe)"><path d="M73.0 1264.9 L76.4 1271.7 L79.8 1258.1 L83.1 1233.3 L86.5 1229.9 L91.0 1233.3 L95.5 1235.6 L100.1 1226.6 L104.6 1224.3 L107.9 1226.6 L111.3 1235.6 L115.8 1240.1 L120.4 1242.3 L124.9 1244.6 L128.2 1267.1 L131.6 1282.9 L135.0 1258.1 L138.4 1233.3 L141.8 1213.0 L145.2 1215.3 L149.7 1224.3 L154.2 1206.3 L157.6 1201.8 L160.9 1210.8 L164.3 1222.1 L167.7 1219.8 L172.2 1217.5 L176.7 1219.8 L181.2 1222.1 L184.6 1226.6 L186.9 1242.3 L189.1 1264.9 L191.4 1294.2 L193.6 1328.0 L195.9 1346.1 L199.3 1361.8 L203.8 1364.1 L207.2 1352.8 L210.5 1341.6 L213.9 1332.5 L217.3 1332.5 L220.7 1325.8 L224.1 1321.3 L228.6 1316.8 L232.0 1325.8 L235.3 1323.5 L238.7 1305.5 L242.1 1294.2 L246.6 1292.0 L251.1 1276.2 L255.6 1264.9 L260.1 1273.9 L264.7 1269.4 L269.2 1267.1 L273.0 1273.9 L274.3 1281.8 L278.0 1281.8 L284.3 1276.8 L290.6 1274.3 L294.4 1269.2 L296.9 1241.5 L300.7 1239.0 L304.5 1251.6 L308.3 1241.5 L312.0 1246.5 L315.8 1264.2 L319.6 1266.7 L323.4 1259.1 L328.4 1251.6 L333.5 1271.7 L337.2 1266.7 L342.3 1261.7 L347.3 1259.1 L349.8 1216.3 L352.3 1191.1 L354.9 1165.9 L357.4 1145.8 L359.9 1135.7 L362.4 1140.8 L364.9 1163.4 L367.5 1191.1 L370.0 1216.3 L373.8 1221.4 L378.8 1216.3 L383.8 1211.3 L388.9 1216.3 L393.9 1226.4 L397.7 1241.5 L401.5 1211.3 L405.2 1181.1 L409.0 1171.0 L412.8 1176.0 L416.6 1171.0 L420.4 1155.9 L424.1 1158.4 L429.2 1168.5 L434.2 1165.9 L439.2 1158.4 L443.0 1171.0 L446.8 1191.1 L450.6 1186.1 L454.4 1176.0 L458.1 1191.1 L461.9 1201.2 L467.0 1198.7 L473.0 1201.2 L474.3 1174.9 L475.6 1146.4 L479.5 1136.1 L483.3 1133.5 L487.2 1143.8 L492.4 1151.6 L497.6 1159.4 L502.8 1164.5 L507.9 1172.3 L513.1 1177.5 L517.0 1159.4 L520.9 1143.8 L523.5 1182.7 L526.0 1231.8 L528.6 1211.1 L532.5 1180.1 L536.4 1164.5 L540.3 1172.3 L544.2 1185.2 L546.7 1205.9 L549.3 1237.0 L551.9 1211.1 L554.5 1169.7 L558.4 1162.0 L562.3 1164.5 L566.1 1162.0 L570.0 1154.2 L573.9 1136.1 L576.5 1130.9 L579.1 1138.7 L581.7 1174.9 L585.5 1195.6 L589.4 1195.6 L593.3 1185.2 L597.2 1211.1 L601.1 1224.0 L605.0 1216.3 L608.8 1203.4 L612.7 1200.8 L617.9 1221.5 L623.1 1234.4 L628.2 1226.6 L632.1 1190.4 L636.0 1149.0 L639.9 1174.9 L643.8 1216.3 L647.6 1231.8 L651.5 1237.0 L655.4 1231.8 L659.3 1221.5 L664.5 1226.6 L669.6 1237.0 L673.0 1234.4 L673.5 1234.4 L678.7 1229.2 L683.9 1237.0 L689.0 1242.2 L694.2 1234.4 L699.4 1231.8 L703.3 1218.9 L707.2 1224.0 L712.3 1221.5 L717.5 1216.3 L721.4 1229.2 L725.3 1226.6 L730.4 1218.9 L735.6 1226.6 L739.5 1237.0 L743.4 1226.6 L747.3 1216.3 L749.8 1211.1 L752.4 1237.0 L756.3 1275.8 L760.2 1299.1 L764.1 1275.8 L768.0 1242.2 L771.8 1239.6 L775.7 1278.4 L779.6 1288.7 L783.5 1262.9 L787.4 1242.2 L791.2 1237.0 L795.1 1244.7 L799.0 1262.9 L802.9 1314.6 L806.8 1353.4 L810.7 1392.2 L814.5 1379.3 L818.4 1314.6 L821.0 1252.5 L823.6 1288.7 L826.2 1366.4 L828.8 1381.9 L831.4 1366.4 L835.2 1340.5 L839.1 1314.6 L843.0 1255.1 L846.9 1242.2 L850.8 1237.0 L853.3 1288.7 L855.9 1340.5 L858.0 1327.5" fill="none" stroke="#00ff00" stroke-width="8" stroke-linejoin="round" stroke-linecap="round"/>
<path d="M73.0 1278.4 L76.4 1287.4 L79.8 1301.0 L82.0 1312.2 L85.4 1303.2 L89.9 1292.0 L94.4 1287.4 L98.9 1289.7 L103.4 1287.4 L107.9 1280.7 L112.5 1278.4 L117.0 1280.7 L121.5 1292.0 L126.0 1294.2 L131.6 1294.2 L137.3 1289.7 L142.9 1282.9 L148.5 1271.7 L154.2 1262.6 L159.8 1258.1 L165.4 1253.6 L171.1 1248.0 L176.7 1246.9 L182.4 1251.4 L186.9 1258.1 L191.4 1267.1 L195.9 1271.7 L201.5 1264.9 L208.3 1258.1 L215.1 1253.6 L221.8 1251.4 L228.6 1251.4 L235.3 1246.9 L242.1 1242.3 L248.9 1237.8 L255.6 1235.6 L262.4 1231.1 L269.2 1231.1 L273.0 1233.3 L274.3 1234.0 L279.3 1231.4 L285.6 1230.2 L291.9 1230.2 L298.2 1231.4 L304.5 1227.7 L310.8 1225.1 L317.1 1223.9 L323.4 1222.6 L329.7 1221.4 L336.0 1220.1 L342.3 1217.6 L348.6 1213.8 L354.9 1212.5 L361.2 1213.8 L366.2 1218.8 L371.2 1220.1 L376.3 1221.4 L381.3 1223.9 L386.4 1226.4 L391.4 1226.4 L396.4 1225.1 L401.5 1223.9 L406.5 1218.8 L411.5 1213.8 L415.3 1196.2 L419.1 1160.9 L424.1 1158.4 L429.2 1163.4 L435.5 1171.0 L441.8 1178.5 L448.1 1188.6 L453.1 1183.6 L458.1 1173.5 L463.2 1165.9 L468.2 1171.0 L473.0 1173.5 L474.3 1169.7 L478.2 1172.3 L483.3 1185.2 L488.5 1190.4 L493.7 1193.0 L498.9 1195.6 L504.0 1203.4 L509.2 1205.9 L514.4 1203.4 L519.6 1190.4 L524.7 1180.1 L529.9 1162.0 L533.8 1149.0 L537.7 1164.5 L541.6 1180.1 L545.4 1185.2 L550.6 1174.9 L555.8 1180.1 L561.0 1185.2 L566.1 1190.4 L571.3 1198.2 L576.5 1185.2 L581.7 1159.4 L586.8 1151.6 L592.0 1167.1 L597.2 1164.5 L602.4 1174.9 L607.5 1185.2 L612.7 1198.2 L617.9 1200.8 L623.1 1193.0 L628.2 1190.4 L633.4 1195.6 L638.6 1205.9 L643.8 1208.5 L648.9 1218.9 L652.8 1249.9 L656.7 1273.2 L660.6 1262.9 L665.8 1247.3 L669.6 1242.2 L673.0 1242.2 L673.5 1244.7 L678.7 1242.2 L683.9 1244.7 L689.0 1252.5 L694.2 1249.9 L699.4 1252.5 L704.6 1257.7 L709.7 1257.7 L714.9 1257.7 L720.1 1260.3 L725.3 1260.3 L731.7 1262.9 L736.9 1262.9 L742.1 1265.4 L747.3 1268.0 L751.1 1278.4 L755.0 1288.7 L758.9 1293.9 L762.8 1281.0 L766.7 1265.4 L770.5 1260.3 L774.4 1268.0 L778.3 1283.6 L782.2 1288.7 L786.1 1281.0 L790.0 1278.4 L793.8 1273.2 L797.7 1268.0 L801.6 1301.7 L805.5 1319.8 L810.7 1325.0 L815.8 1330.1 L821.0 1327.5 L826.2 1314.6 L831.4 1304.3 L836.5 1293.9 L840.4 1281.0 L844.3 1278.4 L849.5 1286.1 L854.6 1288.7 L858.0 1288.7" fill="none" stroke="#ff00ff" stroke-width="8" stroke-linejoin="round" stroke-linecap="round"/>
<path d="M73.0 1228.8 L79.8 1235.6 L86.5 1233.3 L95.5 1235.6 L106.8 1235.6 L118.1 1235.6 L129.4 1237.8 L140.6 1233.3 L151.9 1229.9 L163.2 1228.8 L174.5 1229.9 L185.7 1228.8 L194.8 1228.8 L203.8 1229.9 L212.8 1228.8 L221.8 1224.3 L230.8 1217.5 L237.6 1213.0 L244.4 1206.3 L248.9 1197.2 L253.4 1188.2 L256.8 1179.2 L260.1 1186.0 L266.9 1186.0 L273.0 1186.0 L274.3 1192.4 L280.6 1194.9 L288.1 1193.7 L295.7 1191.1 L300.7 1196.2 L307.0 1171.0 L312.0 1188.6 L318.3 1193.7 L323.4 1188.6 L327.2 1178.5 L330.9 1186.1 L338.5 1178.5 L346.0 1173.5 L351.1 1171.0 L356.1 1145.8 L359.9 1138.2 L363.7 1145.8 L368.7 1165.9 L373.8 1176.0 L381.3 1186.1 L388.9 1191.1 L396.4 1186.1 L404.0 1181.1 L411.5 1160.9 L417.8 1145.8 L421.6 1123.1 L426.7 1110.5 L431.7 1133.2 L439.2 1140.8 L446.8 1153.4 L454.4 1145.8 L461.9 1123.1 L467.0 1130.7 L473.0 1125.6 L474.3 1125.7 L483.3 1133.5 L493.7 1136.1 L504.0 1137.4 L514.4 1133.5 L524.7 1123.1 L529.9 1105.0 L533.8 1040.3 L537.7 1071.4 L541.6 1089.5 L546.7 1092.1 L550.6 1097.3 L555.8 1105.0 L562.3 1115.4 L568.7 1123.1 L572.6 1107.6 L576.5 1068.8 L580.4 1042.9 L584.3 1037.8 L588.1 1045.5 L592.0 1063.6 L595.9 1058.5 L599.8 1092.1 L605.0 1105.0 L610.1 1115.4 L617.9 1128.3 L625.7 1138.7 L633.4 1143.8 L641.2 1151.6 L648.9 1164.5 L656.7 1174.9 L664.5 1180.1 L673.0 1180.1 L673.5 1180.1 L677.4 1174.9 L681.3 1185.2 L686.5 1195.6 L691.6 1190.4 L696.8 1195.6 L702.0 1205.9 L707.2 1211.1 L712.3 1216.3 L717.5 1221.5 L722.7 1226.6 L727.9 1231.8 L733.0 1237.0 L738.2 1242.2 L743.4 1239.6 L748.6 1237.0 L753.7 1231.8 L758.9 1226.6 L764.1 1208.5 L769.3 1205.9 L774.4 1216.3 L779.6 1226.6 L784.8 1231.8 L790.0 1231.8 L795.1 1211.1 L799.0 1208.5 L802.9 1226.6 L808.1 1237.0 L813.2 1244.7 L818.4 1249.9 L823.6 1255.1 L828.8 1257.7 L833.9 1257.7 L839.1 1252.5 L844.3 1244.7 L849.5 1237.0 L854.6 1234.4 L858.0 1231.8 L858.0 1322.4 L854.6 1327.5 L849.5 1340.5 L844.3 1353.4 L839.1 1366.4 L833.9 1379.3 L828.8 1384.5 L823.6 1392.2 L818.4 1412.9 L813.2 1400.0 L808.1 1412.9 L802.9 1392.2 L797.7 1366.4 L792.5 1353.4 L787.4 1345.7 L782.2 1340.5 L777.0 1335.3 L771.8 1319.8 L768.0 1314.6 L764.1 1327.5 L760.2 1350.8 L756.3 1314.6 L751.1 1301.7 L746.0 1288.7 L740.8 1283.6 L735.6 1278.4 L730.4 1278.4 L725.3 1283.6 L720.1 1291.3 L714.9 1299.1 L709.7 1304.3 L704.6 1309.4 L699.4 1309.4 L694.2 1306.8 L689.0 1304.3 L683.9 1293.9 L678.7 1288.7 L673.5 1299.1 L673.0 1301.7 L667.0 1314.6 L661.9 1327.5 L656.7 1340.5 L654.1 1361.2 L651.5 1361.2 L648.9 1327.5 L643.8 1288.7 L638.6 1262.9 L630.8 1252.5 L625.7 1244.7 L620.5 1247.3 L615.3 1252.5 L610.1 1257.7 L605.0 1255.1 L599.8 1252.5 L594.6 1257.7 L589.4 1265.4 L584.3 1260.3 L579.1 1262.9 L573.9 1270.6 L568.7 1268.0 L563.6 1260.3 L558.4 1257.7 L553.2 1262.9 L548.0 1270.6 L542.9 1275.8 L537.7 1273.2 L529.9 1255.1 L519.6 1252.5 L504.0 1237.0 L488.5 1229.2 L474.3 1226.6 L473.0 1216.3 L464.4 1213.8 L454.4 1213.8 L446.8 1216.3 L439.2 1216.3 L431.7 1216.3 L424.1 1221.4 L419.1 1226.4 L414.1 1231.4 L409.0 1241.5 L404.0 1249.1 L398.9 1271.7 L393.9 1254.1 L388.9 1249.1 L383.8 1251.6 L378.8 1256.6 L373.8 1266.7 L368.7 1286.9 L363.7 1266.7 L358.6 1281.8 L353.6 1271.7 L348.6 1256.6 L341.0 1261.7 L333.5 1266.7 L325.9 1259.1 L318.3 1261.7 L310.8 1266.7 L303.2 1276.8 L295.7 1266.7 L288.1 1271.7 L280.6 1269.2 L274.3 1266.7 L273.0 1269.4 L253.4 1273.9 L242.1 1276.2 L230.8 1278.4 L219.6 1282.9 L208.3 1289.7 L199.3 1298.7 L190.2 1316.8 L185.7 1323.5 L181.2 1324.6 L174.5 1323.5 L167.7 1322.4 L160.9 1323.5 L154.2 1323.5 L147.4 1322.4 L140.6 1323.5 L133.9 1325.8 L129.4 1337.0 L124.9 1324.6 L118.1 1323.5 L111.3 1323.5 L104.6 1324.6 L97.8 1323.5 L91.0 1325.8 L86.5 1339.3 L82.0 1352.8 L77.5 1328.0 L73.0 1325.8Z" fill="#0000ff" fill-opacity="0.2" stroke="#ffffff" stroke-width="1.1" stroke-linejoin="round"/>
<path d="M73.0 1273.9 L77.5 1278.4 L83.1 1281.8 L88.8 1279.5 L95.5 1278.4 L102.3 1277.3 L109.1 1277.3 L115.8 1278.4 L122.6 1279.5 L129.4 1279.5 L136.1 1276.2 L142.9 1273.9 L149.7 1275.0 L156.4 1273.9 L163.2 1275.0 L170.0 1273.9 L175.6 1276.2 L181.2 1278.4 L185.7 1275.0 L190.2 1272.8 L194.8 1278.4 L201.5 1278.4 L208.3 1278.4 L215.1 1279.5 L221.8 1278.4 L228.6 1278.4 L233.1 1275.0 L237.6 1270.5 L242.1 1266.0 L246.6 1262.6 L251.1 1258.1 L255.6 1251.4 L260.1 1246.9 L266.9 1248.0 L273.0 1248.0 L274.3 1247.6 L279.3 1246.5 L285.6 1245.3 L291.9 1247.8 L298.2 1247.8 L304.5 1249.1 L310.8 1241.5 L317.1 1239.0 L323.4 1239.0 L329.7 1237.7 L336.0 1234.0 L342.3 1226.4 L348.6 1221.4 L354.9 1218.8 L361.2 1213.8 L367.5 1207.5 L373.8 1205.0 L378.8 1208.8 L383.8 1213.8 L388.9 1215.1 L393.9 1213.8 L398.9 1210.0 L404.0 1208.8 L410.3 1206.2 L416.6 1201.2 L422.9 1194.9 L429.2 1193.7 L435.5 1196.2 L441.8 1201.2 L448.1 1203.7 L454.4 1202.5 L460.7 1203.7 L467.0 1206.2 L473.0 1206.2 L474.3 1208.5 L478.2 1213.7 L484.6 1220.2 L491.1 1222.8 L497.6 1216.3 L502.8 1205.9 L509.2 1195.6 L515.7 1190.4 L522.2 1187.8 L528.6 1180.1 L535.1 1172.3 L541.6 1164.5 L546.7 1169.7 L551.9 1177.5 L558.4 1176.2 L564.8 1172.3 L571.3 1167.1 L577.8 1164.5 L584.3 1159.4 L590.7 1156.8 L595.9 1154.2 L601.1 1162.0 L606.2 1167.1 L612.7 1174.9 L619.2 1177.5 L625.7 1177.5 L632.1 1180.1 L638.6 1185.2 L645.1 1187.8 L651.5 1193.0 L658.0 1198.2 L664.5 1202.1 L673.0 1202.1 L673.5 1200.8 L678.7 1205.9 L683.9 1213.7 L689.0 1216.3 L694.2 1218.9 L700.7 1221.5 L707.2 1224.0 L712.3 1229.2 L717.5 1239.6 L722.7 1247.3 L727.9 1252.5 L734.3 1255.1 L740.8 1260.3 L747.3 1265.4 L753.7 1266.7 L760.2 1268.0 L765.4 1269.3 L770.5 1273.2 L775.7 1281.0 L780.9 1286.1 L787.4 1291.3 L792.5 1296.5 L797.7 1304.3 L802.9 1309.4 L808.1 1313.3 L813.2 1314.6 L818.4 1317.2 L823.6 1322.4 L828.8 1322.4 L833.9 1317.2 L839.1 1312.0 L844.3 1306.8 L849.5 1296.5 L854.6 1286.1 L858.0 1281.0" fill="none" stroke="#000000" stroke-width="6.5" stroke-linejoin="round" stroke-linecap="round"/>
<path d="M73.0 1217.5 L79.8 1226.6 L86.5 1228.8 L95.5 1231.1 L106.8 1232.2 L118.1 1233.3 L129.4 1234.5 L140.6 1231.1 L151.9 1228.8 L163.2 1227.7 L174.5 1226.6 L185.7 1224.3 L190.2 1222.1 L197.0 1226.6 L203.8 1228.8 L210.5 1228.8 L217.3 1226.6 L224.1 1224.3 L230.8 1219.8 L237.6 1215.3 L244.4 1210.8 L251.1 1201.8 L257.9 1188.2 L264.7 1186.0 L273.0 1188.2 L274.3 1191.1 L283.1 1186.1 L290.6 1183.6 L298.2 1188.6 L305.7 1188.6 L313.3 1191.1 L320.9 1188.6 L328.4 1186.1 L336.0 1181.1 L343.5 1173.5 L351.1 1165.9 L358.6 1158.4 L366.2 1155.9 L373.8 1165.9 L381.3 1176.0 L388.9 1183.6 L396.4 1181.1 L404.0 1176.0 L411.5 1171.0 L419.1 1153.4 L426.7 1135.7 L434.2 1135.7 L441.8 1145.8 L449.3 1153.4 L456.9 1148.3 L464.4 1145.8 L473.0 1148.3 L474.3 1133.5 L483.3 1128.3 L493.7 1125.7 L504.0 1125.7 L511.8 1128.3 L517.0 1136.1 L524.7 1125.7 L535.1 1115.4 L542.9 1107.6 L550.6 1115.4 L558.4 1123.1 L566.1 1128.3 L573.9 1118.0 L581.7 1107.6 L589.4 1099.9 L597.2 1094.7 L605.0 1105.0 L612.7 1120.6 L620.5 1123.1 L628.2 1125.7 L638.6 1128.3 L648.9 1130.9 L659.3 1132.2 L669.6 1132.2 L673.0 1133.5 L673.5 1133.5 L678.7 1138.7 L683.9 1143.8 L691.6 1143.8 L699.4 1146.4 L707.2 1149.0 L712.3 1154.2 L717.5 1164.5 L722.7 1174.9 L727.9 1180.1 L733.0 1185.2 L738.2 1187.8 L743.4 1193.0 L748.6 1190.4 L753.7 1187.8 L758.9 1185.2 L764.1 1182.7 L769.3 1180.1 L774.4 1190.4 L779.6 1195.6 L784.8 1200.8 L790.0 1205.9 L795.1 1211.1 L800.3 1216.3 L805.5 1226.6 L810.7 1231.8 L815.8 1234.4 L821.0 1237.0 L826.2 1239.6 L831.4 1239.6 L836.5 1239.6 L841.7 1234.4 L846.9 1229.2 L852.0 1224.0 L858.0 1221.5 L858.0 1340.5 L854.6 1345.7 L849.5 1353.4 L844.3 1361.2 L839.1 1371.5 L833.9 1387.1 L828.8 1400.0 L823.6 1412.9 L818.4 1407.7 L813.2 1410.3 L808.1 1407.7 L802.9 1402.6 L797.7 1397.4 L792.5 1392.2 L787.4 1387.1 L782.2 1381.9 L777.0 1374.1 L771.8 1366.4 L766.7 1361.2 L761.5 1356.0 L756.3 1350.8 L751.1 1345.7 L746.0 1340.5 L740.8 1337.9 L735.6 1335.3 L730.4 1330.1 L725.3 1327.5 L720.1 1322.4 L714.9 1319.8 L709.7 1314.6 L704.6 1309.4 L699.4 1312.0 L694.2 1309.4 L689.0 1309.4 L683.9 1304.3 L678.7 1301.7 L673.5 1299.1 L673.0 1286.1 L664.5 1281.0 L656.7 1275.8 L648.9 1270.6 L641.2 1262.9 L633.4 1255.1 L625.7 1247.3 L617.9 1244.7 L610.1 1244.7 L602.4 1239.6 L594.6 1237.0 L586.8 1234.4 L579.1 1231.8 L571.3 1229.2 L563.6 1229.2 L555.8 1231.8 L548.0 1237.0 L540.3 1247.3 L532.5 1252.5 L524.7 1255.1 L518.3 1257.7 L513.1 1262.9 L507.9 1275.8 L502.8 1288.7 L497.6 1301.7 L492.4 1317.2 L488.5 1314.6 L483.3 1301.7 L478.2 1288.7 L474.3 1275.8 L473.0 1279.3 L469.5 1271.7 L461.9 1266.7 L454.4 1261.7 L446.8 1259.1 L439.2 1264.2 L431.7 1261.7 L424.1 1256.6 L416.6 1251.6 L409.0 1249.1 L401.5 1249.1 L393.9 1249.1 L386.4 1251.6 L378.8 1254.1 L371.2 1256.6 L363.7 1261.7 L358.6 1266.7 L353.6 1269.2 L348.6 1274.3 L341.0 1281.8 L333.5 1299.4 L325.9 1291.9 L318.3 1286.9 L310.8 1289.4 L303.2 1307.0 L295.7 1309.5 L288.1 1312.0 L280.6 1307.0 L274.3 1304.5 L273.0 1310.0 L262.4 1312.2 L253.4 1314.5 L244.4 1319.0 L235.3 1321.3 L226.3 1325.8 L217.3 1328.0 L208.3 1328.0 L199.3 1328.0 L192.5 1328.0 L185.7 1324.6 L174.5 1323.5 L163.2 1323.5 L151.9 1323.5 L140.6 1323.5 L129.4 1323.5 L118.1 1323.5 L106.8 1323.5 L95.5 1323.5 L86.5 1325.8 L79.8 1330.3 L73.0 1328.0Z" fill="#ff0000" fill-opacity="0.2" stroke="#ffffff" stroke-width="1.1" stroke-linejoin="round"/>
<path d="M73.0 1260.4 L76.4 1273.9 L80.9 1278.4 L85.4 1267.1 L89.9 1258.1 L94.4 1260.4 L98.9 1267.1 L103.4 1271.7 L107.9 1267.1 L112.5 1264.9 L117.0 1262.6 L120.4 1260.4 L123.7 1273.9 L128.2 1282.9 L132.8 1282.9 L137.3 1276.2 L141.8 1278.4 L146.3 1271.7 L150.8 1262.6 L156.4 1258.1 L162.1 1253.6 L167.7 1251.4 L173.3 1251.4 L179.0 1249.1 L184.6 1248.0 L189.1 1246.9 L193.6 1251.4 L198.1 1244.6 L203.8 1242.3 L210.5 1242.3 L217.3 1241.2 L224.1 1240.1 L230.8 1239.0 L237.6 1237.8 L244.4 1236.7 L251.1 1235.6 L257.9 1234.5 L264.7 1233.3 L273.0 1233.3 L274.3 1232.7 L279.3 1232.7 L285.6 1231.4 L291.9 1231.4 L298.2 1230.2 L304.5 1227.7 L310.8 1228.9 L317.1 1230.2 L323.4 1230.2 L329.7 1228.9 L336.0 1227.7 L342.3 1227.7 L348.6 1226.4 L354.9 1223.9 L361.2 1223.9 L367.5 1226.4 L373.8 1227.7 L380.1 1227.7 L386.4 1228.9 L392.6 1228.9 L398.9 1228.9 L405.2 1228.9 L411.5 1227.7 L417.8 1223.9 L424.1 1222.6 L430.4 1226.4 L436.7 1222.6 L443.0 1220.1 L449.3 1220.1 L455.6 1218.8 L460.7 1213.8 L464.4 1198.7 L468.2 1193.7 L473.0 1191.1 L474.3 1193.0 L476.9 1195.6 L482.1 1187.8 L487.2 1198.2 L492.4 1200.8 L497.6 1200.8 L501.5 1208.5 L506.6 1203.4 L511.8 1203.4 L517.0 1202.1 L522.2 1203.4 L526.0 1205.9 L529.9 1185.2 L533.8 1177.5 L537.7 1190.4 L542.9 1205.9 L546.7 1195.6 L551.9 1180.1 L555.8 1185.2 L561.0 1187.8 L566.1 1190.4 L571.3 1195.6 L575.2 1169.7 L579.1 1149.0 L583.0 1143.8 L586.8 1143.8 L590.7 1156.8 L594.6 1149.0 L598.5 1164.5 L602.4 1172.3 L607.5 1180.1 L612.7 1195.6 L617.9 1195.6 L623.1 1195.6 L628.2 1198.2 L633.4 1200.8 L638.6 1205.9 L642.5 1190.4 L646.4 1190.4 L651.5 1205.9 L656.7 1216.3 L661.9 1211.1 L667.0 1208.5 L673.0 1216.3 L673.5 1216.3 L678.7 1213.7 L683.9 1221.5 L689.0 1226.6 L694.2 1229.2 L699.4 1237.0 L704.6 1247.3 L709.7 1251.2 L714.9 1252.5 L720.1 1255.1 L725.3 1257.7 L730.4 1260.3 L735.6 1262.9 L740.8 1264.2 L746.0 1265.4 L749.8 1265.4 L753.7 1278.4 L757.6 1293.9 L761.5 1283.6 L764.1 1278.4 L768.0 1268.0 L771.8 1275.8 L775.7 1288.7 L779.6 1296.5 L783.5 1293.9 L787.4 1288.7 L791.2 1288.7 L795.1 1283.6 L799.0 1314.6 L802.9 1335.3 L806.8 1343.1 L810.7 1340.5 L814.5 1330.1 L818.4 1345.7 L822.3 1345.7 L826.2 1319.8 L830.1 1309.4 L833.9 1301.7 L837.8 1296.5 L841.7 1288.7 L846.9 1291.3 L852.0 1290.0 L858.0 1288.7" fill="none" stroke="#ff0000" stroke-width="3.5" stroke-linejoin="round" stroke-linecap="round"/>
<path d="M73.0 1246.9 L76.4 1246.9 L79.8 1267.1 L83.1 1271.7 L87.7 1269.4 L92.2 1262.6 L96.7 1258.1 L101.2 1255.9 L105.7 1253.6 L111.3 1251.4 L115.8 1253.6 L120.4 1255.9 L124.9 1249.1 L129.4 1246.9 L133.9 1248.0 L138.4 1246.9 L142.9 1240.1 L147.4 1237.8 L151.9 1237.8 L156.4 1240.1 L160.9 1244.6 L165.4 1237.8 L171.1 1233.3 L175.6 1233.3 L180.1 1240.1 L184.6 1243.5 L189.1 1244.6 L192.5 1251.4 L195.9 1260.4 L199.3 1260.4 L203.8 1258.1 L208.3 1253.6 L212.8 1251.4 L217.3 1249.1 L221.8 1246.9 L226.3 1246.9 L230.8 1248.0 L235.3 1246.9 L241.0 1244.6 L246.6 1242.3 L253.4 1240.1 L260.1 1237.8 L266.9 1237.8 L273.0 1237.8 L274.3 1239.0 L279.3 1237.7 L285.6 1236.5 L291.9 1236.5 L298.2 1236.5 L304.5 1234.0 L310.8 1232.7 L317.1 1231.4 L323.4 1230.2 L329.7 1230.2 L336.0 1228.9 L342.3 1226.4 L348.6 1222.6 L354.9 1226.4 L361.2 1225.1 L364.9 1223.9 L368.7 1234.0 L373.8 1231.4 L378.8 1235.2 L383.8 1234.0 L387.6 1225.1 L391.4 1234.0 L395.2 1239.0 L398.9 1241.5 L402.7 1239.0 L406.5 1228.9 L410.3 1221.4 L414.1 1218.8 L417.8 1213.8 L420.4 1181.1 L424.1 1171.0 L429.2 1171.0 L432.9 1183.6 L438.0 1193.7 L444.3 1201.2 L449.3 1205.0 L454.4 1198.7 L459.4 1193.7 L463.2 1198.7 L467.0 1211.3 L473.0 1213.8 L474.3 1209.8 L476.9 1208.5 L480.8 1226.6 L484.6 1229.2 L488.5 1231.8 L492.4 1234.4 L496.3 1231.8 L500.2 1224.0 L504.0 1234.4 L509.2 1242.2 L514.4 1239.6 L519.6 1229.2 L524.7 1226.6 L528.6 1226.6 L532.5 1211.1 L536.4 1213.7 L541.6 1221.5 L546.7 1226.6 L551.9 1231.8 L558.4 1237.0 L564.8 1239.6 L571.3 1242.2 L577.8 1243.5 L584.3 1242.2 L590.7 1247.3 L595.9 1239.6 L601.1 1242.2 L606.2 1238.3 L611.4 1244.7 L616.6 1237.0 L621.8 1231.8 L626.9 1231.8 L632.1 1242.2 L637.3 1249.9 L642.5 1255.1 L646.4 1291.3 L651.5 1293.9 L656.7 1291.3 L660.6 1278.4 L665.8 1268.0 L669.6 1262.9 L673.0 1260.3 L673.5 1268.0 L677.4 1262.9 L681.3 1265.4 L685.2 1268.0 L689.0 1260.3 L694.2 1252.5 L699.4 1249.9 L704.6 1247.3 L708.5 1244.7 L712.3 1239.6 L717.5 1237.0 L722.7 1239.6 L727.9 1239.6 L733.0 1234.4 L738.2 1234.4 L743.4 1237.0 L749.8 1237.0 L756.3 1237.0 L761.5 1234.4 L766.7 1231.8 L771.8 1229.2 L777.0 1229.2 L782.2 1229.2 L787.4 1229.2 L792.5 1226.6 L797.7 1224.0 L802.9 1226.6 L808.1 1229.2 L813.2 1226.6 L817.1 1224.0 L821.0 1231.8 L824.9 1234.4 L830.1 1234.4 L835.2 1234.4 L839.1 1231.8 L843.0 1237.0 L848.2 1239.6 L853.3 1238.3 L858.0 1234.4" fill="none" stroke="#0000ff" stroke-width="3.5" stroke-linejoin="round" stroke-linecap="round"/></g>
<path d="M126.8 1458.6v-6 M183.2 1458.6v-6 M239.7 1458.6v-6 M296.2 1458.6v-6 M352.6 1458.6v-6 M409.1 1458.6v-6 M465.5 1458.6v-6 M522.0 1458.6v-6 M578.4 1458.6v-6 M634.9 1458.6v-6 M691.3 1458.6v-6 M747.8 1458.6v-6 M804.2 1458.6v-6 M73 1063.9h5.5 M73 1150.3h5.5 M73 1236.7h5.5 M73 1323.0h5.5 M73 1409.4h5.5" stroke="#262626" stroke-width="1.3" fill="none"/>
<rect x="70" y="1021.3" width="791.0" height="440.3" fill="none" stroke="#000" stroke-width="6"/>
<text x="55.5" y="1075.2" font-size="31.5" text-anchor="end" fill="#1a1a1a" stroke="#1a1a1a" stroke-width="0.3">0.2</text>
<text x="55.5" y="1161.6" font-size="31.5" text-anchor="end" fill="#1a1a1a" stroke="#1a1a1a" stroke-width="0.3">0.1</text>
<text x="55.5" y="1248.0" font-size="31.5" text-anchor="end" fill="#1a1a1a" stroke="#1a1a1a" stroke-width="0.3">0</text>
<text x="55.5" y="1334.3" font-size="31.5" text-anchor="end" fill="#1a1a1a" stroke="#1a1a1a" stroke-width="0.3">-0.1</text>
<text x="55.5" y="1420.7" font-size="31.5" text-anchor="end" fill="#1a1a1a" stroke="#1a1a1a" stroke-width="0.3">-0.2</text>
</g>
<text x="81.06" y="167.97" font-size="43" font-weight="bold" fill="#000">(a)</text>
<text x="908.06" y="167.97" font-size="43" font-weight="bold" fill="#000">(b)</text>
<text x="81.06" y="624.3" font-size="43" font-weight="bold" fill="#000">(c)</text>
<text x="908.06" y="624.3" font-size="43" font-weight="bold" fill="#000">(d)</text>
<text x="81.06" y="1080.6" font-size="43" font-weight="bold" fill="#000">(e)</text>
<text x="126.8" y="1504.3" font-size="31.5" text-anchor="middle" fill="#1a1a1a" stroke="#1a1a1a" stroke-width="0.3">2004</text>
<text x="953.9" y="1047.7" font-size="31.5" text-anchor="middle" fill="#1a1a1a" stroke="#1a1a1a" stroke-width="0.3">2004</text>
<text x="239.7" y="1504.3" font-size="31.5" text-anchor="middle" fill="#1a1a1a" stroke="#1a1a1a" stroke-width="0.3">2006</text>
<text x="1066.8" y="1047.7" font-size="31.5" text-anchor="middle" fill="#1a1a1a" stroke="#1a1a1a" stroke-width="0.3">2006</text>
<text x="352.6" y="1504.3" font-size="31.5" text-anchor="middle" fill="#1a1a1a" stroke="#1a1a1a" stroke-width="0.3">2008</text>
<text x="1179.7" y="1047.7" font-size="31.5" text-anchor="middle" fill="#1a1a1a" stroke="#1a1a1a" stroke-width="0.3">2008</text>
<text x="465.5" y="1504.3" font-size="31.5" text-anchor="middle" fill="#1a1a1a" stroke="#1a1a1a" stroke-width="0.3">2010</text>
<text x="1292.6" y="1047.7" font-size="31.5" text-anchor="middle" fill="#1a1a1a" stroke="#1a1a1a" stroke-width="0.3">2010</text>
<text x="578.4" y="1504.3" font-size="31.5" text-anchor="middle" fill="#1a1a1a" stroke="#1a1a1a" stroke-width="0.3">2012</text>
<text x="1405.5" y="1047.7" font-size="31.5" text-anchor="middle" fill="#1a1a1a" stroke="#1a1a1a" stroke-width="0.3">2012</text>
<text x="691.3" y="1504.3" font-size="31.5" text-anchor="middle" fill="#1a1a1a" stroke="#1a1a1a" stroke-width="0.3">2014</text>
<text x="1518.4" y="1047.7" font-size="31.5" text-anchor="middle" fill="#1a1a1a" stroke="#1a1a1a" stroke-width="0.3">2014</text>
<text x="804.2" y="1504.3" font-size="31.5" text-anchor="middle" fill="#1a1a1a" stroke="#1a1a1a" stroke-width="0.3">2016</text>
<text x="1631.3" y="1047.7" font-size="31.5" text-anchor="middle" fill="#1a1a1a" stroke="#1a1a1a" stroke-width="0.3">2016</text>
<text x="1673.5" y="971.7" font-size="31.5" text-anchor="end" fill="#000" stroke="#000" stroke-width="0.3">Unit: [m]</text>
<text x="734" y="1414" font-size="31.5" text-anchor="end" fill="#000" stroke="#000" stroke-width="0.3">Unit: [m]</text>
<g id="panf">
<clipPath id="clipf"><rect x="900" y="1071.6" width="785" height="387"/></clipPath>
<g clip-path="url(#clipf)">
<path d="M884.9 1186.1 L893.2 1187.6 L899.8 1184.6 L908.6 1183.9 L919.6 1183.0 L921.8 1183.9 L920.0 1187.2 L921.8 1191.1 L925.1 1192.7 L931.0 1193.8 L939.3 1198.1 L941.5 1196.6 L941.5 1194.0 L945.9 1192.4 L952.5 1195.1 L961.3 1196.8 L967.9 1196.2 L969.2 1199.0 L971.2 1203.2 L973.4 1207.6 L975.8 1213.0 L978.9 1218.5 L979.8 1223.5 L982.2 1226.2 L985.5 1230.3 L988.8 1234.1 L992.7 1236.9 L995.4 1241.7 L1000.9 1240.2 L1010.1 1238.7 L1009.6 1241.7 L1007.0 1247.2 L1003.1 1253.5 L998.7 1259.7 L993.2 1265.6 L988.8 1268.4 L985.5 1271.9 L983.7 1276.5 L984.4 1283.1 L986.4 1287.5 L986.8 1296.3 L984.4 1300.6 L978.4 1305.0 L974.5 1309.4 L975.6 1313.8 L974.1 1318.2 L969.7 1321.2 L969.2 1326.9 L965.7 1330.2 L962.4 1333.5 L958.0 1337.2 L953.6 1339.0 L948.1 1338.7 L941.5 1340.7 L938.0 1339.2 L937.6 1335.7 L935.4 1329.1 L933.2 1326.3 L931.0 1323.0 L929.5 1313.8 L926.8 1309.4 L923.5 1302.8 L923.5 1298.4 L925.5 1293.0 L927.7 1288.2 L926.2 1283.1 L924.4 1277.6 L924.6 1275.5 L921.8 1273.0 L918.7 1268.9 L918.0 1264.5 L918.9 1259.0 L918.5 1255.5 L916.3 1254.4 L911.9 1255.1 L909.0 1251.8 L907.0 1250.5 L902.0 1250.7 L897.6 1252.2 L893.2 1254.0 L887.7 1253.1 L881.1 1254.9 L876.7 1252.5 L872.3 1249.4 L868.4 1245.2 L865.3 1241.3 L860.9 1237.3 L859.8 1232.3 L861.3 1229.5 L862.4 1224.0 L861.3 1220.7 L860.3 1218.5 L862.9 1213.0 L865.7 1208.7 L868.6 1204.7 L872.3 1202.7 L876.1 1199.9 L876.5 1195.5 L879.4 1191.6 L882.7 1189.6 L884.9 1186.1Z M1675.8 1186.1 L1684.1 1187.6 L1690.7 1184.6 L1699.5 1183.9 L1710.5 1183.0 L1712.7 1183.9 L1710.9 1187.2 L1712.7 1191.1 L1716.0 1192.7 L1721.9 1193.8 L1730.3 1198.1 L1732.5 1196.6 L1732.5 1194.0 L1736.9 1192.4 L1743.4 1195.1 L1752.2 1196.8 L1758.8 1196.2 L1760.1 1199.0 L1762.1 1203.2 L1764.3 1207.6 L1766.7 1213.0 L1769.8 1218.5 L1770.7 1223.5 L1773.1 1226.2 L1776.4 1230.3 L1779.7 1234.1 L1783.7 1236.9 L1786.3 1241.7 L1791.8 1240.2 L1801.0 1238.7 L1800.6 1241.7 L1797.9 1247.2 L1794.0 1253.5 L1789.6 1259.7 L1784.1 1265.6 L1779.7 1268.4 L1776.4 1271.9 L1774.6 1276.5 L1775.3 1283.1 L1777.3 1287.5 L1777.7 1296.3 L1775.3 1300.6 L1769.4 1305.0 L1765.4 1309.4 L1766.5 1313.8 L1765.0 1318.2 L1760.6 1321.2 L1760.1 1326.9 L1756.6 1330.2 L1753.3 1333.5 L1748.9 1337.2 L1744.5 1339.0 L1739.1 1338.7 L1732.5 1340.7 L1728.9 1339.2 L1728.5 1335.7 L1726.3 1329.1 L1724.1 1326.3 L1721.9 1323.0 L1720.4 1313.8 L1717.7 1309.4 L1714.4 1302.8 L1714.4 1298.4 L1716.4 1293.0 L1718.6 1288.2 L1717.1 1283.1 L1715.3 1277.6 L1715.5 1275.5 L1712.7 1273.0 L1709.6 1268.9 L1709.0 1264.5 L1709.8 1259.0 L1709.4 1255.5 L1707.2 1254.4 L1702.8 1255.1 L1699.9 1251.8 L1698.0 1250.5 L1692.9 1250.7 L1688.5 1252.2 L1684.1 1254.0 L1678.6 1253.1 L1672.0 1254.9 L1667.6 1252.5 L1663.3 1249.4 L1659.3 1245.2 L1656.2 1241.3 L1651.8 1237.3 L1650.7 1232.3 L1652.3 1229.5 L1653.4 1224.0 L1652.3 1220.7 L1651.2 1218.5 L1653.8 1213.0 L1656.7 1208.7 L1659.5 1204.7 L1663.3 1202.7 L1667.0 1199.9 L1667.4 1195.5 L1670.3 1191.6 L1673.6 1189.6 L1675.8 1186.1Z M1005.9 1290.8 L1008.3 1298.4 L1006.6 1302.8 L1004.2 1309.4 L1001.5 1318.2 L997.6 1320.3 L994.3 1318.2 L992.7 1312.2 L994.9 1308.3 L994.3 1302.4 L998.2 1299.1 L1002.6 1294.7 L1005.9 1290.8Z M885.3 1185.7 L881.1 1183.5 L877.8 1183.5 L878.3 1180.2 L876.7 1179.1 L878.3 1174.7 L877.8 1170.1 L880.0 1168.8 L888.8 1169.5 L893.6 1169.5 L895.0 1163.8 L892.1 1160.9 L887.5 1159.4 L891.0 1157.6 L894.3 1157.8 L897.6 1156.1 L900.9 1154.6 L903.1 1152.6 L906.4 1151.7 L908.6 1148.4 L913.0 1147.3 L916.5 1146.5 L916.5 1143.6 L915.4 1140.5 L919.6 1138.4 L920.7 1140.8 L919.6 1144.0 L924.0 1145.8 L928.4 1146.2 L937.1 1144.5 L943.7 1144.0 L943.7 1139.7 L949.2 1139.7 L951.0 1134.4 L959.1 1134.0 L963.5 1133.1 L956.9 1132.0 L948.1 1133.1 L944.8 1130.9 L944.8 1126.5 L952.5 1122.2 L950.3 1120.4 L943.7 1123.2 L939.3 1125.4 L936.0 1128.1 L934.9 1130.9 L938.2 1133.1 L933.9 1139.7 L932.8 1141.9 L926.2 1143.0 L925.1 1140.8 L922.9 1137.5 L920.7 1134.6 L916.3 1136.8 L910.8 1137.5 L909.7 1135.3 L908.6 1130.9 L909.2 1127.6 L915.2 1125.4 L921.8 1122.6 L926.2 1118.9 L930.6 1114.9 L936.0 1112.3 L941.5 1111.2 L950.3 1109.0 L959.1 1109.0 L965.7 1111.2 L970.1 1112.7 L976.7 1113.4 L986.6 1116.0 L987.7 1118.9 L981.1 1120.0 L974.5 1123.2 L978.9 1124.8 L981.1 1123.5 L985.5 1123.2 L992.1 1119.5 L994.3 1114.5 L998.7 1115.1 L1007.5 1115.6 L1016.2 1114.7 L1025.0 1113.8 L1029.4 1113.4 L1038.2 1112.3 L1044.8 1113.4 L1047.0 1114.5 L1049.2 1104.6 L1056.9 1105.1 L1059.1 1107.9 L1060.2 1114.5 L1064.6 1113.8 L1066.8 1106.8 L1073.4 1105.7 L1077.8 1107.9 L1084.3 1103.5 L1090.9 1100.2 L1099.7 1099.2 L1110.7 1097.6 L1119.5 1096.3 L1128.3 1094.3 L1134.9 1097.0 L1143.7 1098.5 L1145.9 1103.5 L1156.8 1103.5 L1170.0 1102.9 L1178.8 1105.7 L1185.4 1109.0 L1189.8 1107.9 L1200.8 1107.9 L1205.2 1105.7 L1218.4 1106.2 L1227.2 1107.9 L1233.7 1109.4 L1244.7 1109.2 L1249.1 1111.2 L1251.3 1112.3 L1264.5 1112.1 L1271.1 1111.2 L1284.3 1111.6 L1293.1 1113.6 L1301.8 1117.3 L1308.4 1119.5 L1315.0 1120.0 L1310.6 1122.2 L1309.5 1123.2 L1297.5 1122.2 L1290.9 1122.8 L1288.7 1127.6 L1284.3 1128.7 L1277.7 1130.9 L1271.1 1133.1 L1262.3 1133.1 L1257.9 1133.5 L1255.7 1137.5 L1253.5 1140.8 L1249.1 1145.1 L1244.7 1150.6 L1241.9 1152.8 L1239.2 1144.0 L1239.2 1138.6 L1242.5 1137.9 L1249.1 1132.0 L1251.3 1129.2 L1248.0 1129.4 L1242.5 1129.8 L1235.9 1134.2 L1227.2 1134.2 L1220.6 1134.6 L1211.8 1134.6 L1205.2 1137.5 L1196.4 1145.1 L1203.0 1146.2 L1206.3 1148.4 L1207.4 1152.8 L1206.3 1158.3 L1201.9 1162.7 L1196.4 1168.1 L1189.8 1171.0 L1185.4 1171.2 L1182.1 1174.7 L1182.1 1176.9 L1178.8 1179.1 L1181.7 1183.5 L1181.9 1187.4 L1176.6 1188.9 L1175.1 1188.7 L1175.5 1183.9 L1174.4 1181.3 L1172.2 1178.0 L1165.6 1175.8 L1164.5 1179.1 L1163.4 1175.1 L1159.0 1178.4 L1156.8 1179.1 L1155.7 1180.6 L1158.6 1182.6 L1162.3 1181.7 L1166.7 1182.8 L1162.3 1185.2 L1159.5 1187.8 L1163.0 1193.3 L1165.2 1196.6 L1165.6 1199.2 L1164.5 1202.7 L1160.4 1208.7 L1154.6 1212.6 L1148.1 1215.7 L1141.5 1217.4 L1139.9 1219.8 L1138.4 1217.4 L1134.9 1217.2 L1131.8 1220.3 L1129.8 1223.3 L1131.8 1226.6 L1136.6 1231.0 L1137.7 1236.0 L1137.5 1239.3 L1132.7 1241.7 L1128.3 1245.4 L1127.8 1241.7 L1123.9 1239.3 L1122.8 1237.6 L1119.1 1236.7 L1117.3 1234.9 L1115.5 1242.2 L1118.0 1246.3 L1118.4 1249.2 L1123.9 1252.5 L1124.8 1255.7 L1126.5 1261.4 L1125.0 1261.7 L1120.2 1258.1 L1118.0 1252.5 L1113.6 1247.0 L1114.0 1242.6 L1114.4 1237.1 L1112.0 1228.4 L1109.6 1227.9 L1105.2 1229.5 L1104.6 1224.0 L1100.6 1219.2 L1099.1 1215.2 L1096.4 1216.3 L1092.9 1217.2 L1088.7 1217.9 L1087.6 1220.7 L1084.3 1222.2 L1078.4 1228.1 L1074.0 1229.9 L1073.8 1235.4 L1072.9 1241.9 L1069.6 1245.0 L1067.9 1247.0 L1065.9 1245.0 L1064.1 1239.8 L1061.5 1232.7 L1058.9 1229.5 L1057.5 1222.2 L1057.1 1217.4 L1052.5 1218.9 L1049.2 1215.4 L1051.4 1214.3 L1048.1 1213.0 L1043.9 1208.9 L1039.3 1209.3 L1032.7 1209.5 L1023.7 1208.2 L1021.5 1205.2 L1017.8 1206.5 L1010.7 1203.4 L1007.7 1198.6 L1004.2 1199.0 L1003.1 1200.3 L1006.4 1205.2 L1007.9 1207.1 L1010.7 1209.1 L1011.0 1211.5 L1016.2 1211.7 L1020.6 1207.6 L1021.5 1210.0 L1024.6 1212.8 L1029.0 1215.2 L1026.1 1219.8 L1024.4 1222.9 L1018.4 1227.3 L1011.8 1229.7 L1005.3 1233.2 L996.5 1236.5 L993.2 1236.7 L991.6 1232.1 L991.2 1227.9 L988.1 1223.3 L983.7 1217.4 L982.2 1212.8 L979.3 1208.7 L975.8 1204.1 L974.3 1199.9 L973.0 1203.6 L971.2 1201.9 L969.2 1199.0 L968.6 1196.0 L972.7 1196.0 L974.5 1192.2 L976.5 1186.8 L977.1 1184.3 L973.4 1183.9 L969.0 1185.4 L964.6 1184.6 L959.1 1184.1 L957.4 1182.4 L955.4 1180.2 L956.0 1178.0 L955.2 1176.7 L961.3 1174.7 L966.8 1174.3 L974.5 1172.5 L981.1 1174.7 L988.8 1173.6 L989.2 1171.2 L985.3 1169.5 L981.1 1167.0 L980.0 1165.3 L983.3 1161.6 L974.5 1163.1 L975.6 1165.3 L971.2 1167.0 L969.0 1164.9 L965.7 1162.4 L965.0 1162.7 L962.6 1165.5 L960.7 1168.1 L958.5 1171.2 L959.1 1173.6 L955.4 1174.9 L950.3 1175.4 L949.7 1177.1 L947.7 1175.8 L947.3 1180.2 L949.2 1181.3 L948.1 1184.6 L945.3 1183.9 L944.4 1181.7 L942.0 1177.8 L940.2 1173.0 L938.2 1171.4 L932.8 1169.2 L928.4 1165.5 L927.5 1164.2 L924.6 1165.3 L924.6 1167.5 L927.5 1169.2 L929.5 1172.5 L932.8 1173.8 L938.2 1176.5 L934.9 1178.0 L934.1 1180.4 L932.1 1181.3 L933.2 1178.0 L931.7 1176.7 L928.4 1174.7 L924.0 1172.7 L920.7 1170.5 L918.5 1167.7 L916.1 1168.1 L913.4 1168.8 L908.6 1169.5 L904.4 1170.3 L904.6 1172.5 L899.8 1174.7 L899.4 1175.6 L896.9 1178.0 L898.0 1179.7 L896.1 1182.2 L893.0 1184.1 L887.9 1184.1 L885.3 1185.7Z M1676.2 1185.7 L1672.0 1183.5 L1668.7 1183.5 L1669.2 1180.2 L1667.6 1179.1 L1669.2 1174.7 L1668.7 1170.1 L1670.9 1168.8 L1679.7 1169.5 L1684.6 1169.5 L1685.9 1163.8 L1683.0 1160.9 L1678.4 1159.4 L1681.9 1157.6 L1685.2 1157.8 L1688.5 1156.1 L1691.8 1154.6 L1694.0 1152.6 L1697.3 1151.7 L1699.5 1148.4 L1703.9 1147.3 L1707.4 1146.5 L1707.4 1143.6 L1706.3 1140.5 L1710.5 1138.4 L1711.6 1140.8 L1710.5 1144.0 L1714.9 1145.8 L1719.3 1146.2 L1728.1 1144.5 L1734.7 1144.0 L1734.7 1139.7 L1740.1 1139.7 L1741.9 1134.4 L1750.0 1134.0 L1754.4 1133.1 L1747.8 1132.0 L1739.1 1133.1 L1735.8 1130.9 L1735.8 1126.5 L1743.4 1122.2 L1741.2 1120.4 L1734.7 1123.2 L1730.3 1125.4 L1727.0 1128.1 L1725.9 1130.9 L1729.2 1133.1 L1724.8 1139.7 L1723.7 1141.9 L1717.1 1143.0 L1716.0 1140.8 L1713.8 1137.5 L1711.6 1134.6 L1707.2 1136.8 L1701.7 1137.5 L1700.6 1135.3 L1699.5 1130.9 L1700.2 1127.6 L1706.1 1125.4 L1712.7 1122.6 L1717.1 1118.9 L1721.5 1114.9 L1727.0 1112.3 L1732.5 1111.2 L1741.2 1109.0 L1750.0 1109.0 L1756.6 1111.2 L1761.0 1112.7 L1767.6 1113.4 L1777.5 1116.0 L1778.6 1118.9 L1772.0 1120.0 L1765.4 1123.2 L1769.8 1124.8 L1772.0 1123.5 L1776.4 1123.2 L1783.0 1119.5 L1785.2 1114.5 L1789.6 1115.1 L1798.4 1115.6 L1807.2 1114.7 L1815.9 1113.8 L1820.3 1113.4 L1829.1 1112.3 L1835.7 1113.4 L1837.9 1114.5 L1840.1 1104.6 L1847.8 1105.1 L1850.0 1107.9 L1851.1 1114.5 L1855.5 1113.8 L1857.7 1106.8 L1864.3 1105.7 L1868.7 1107.9 L1875.3 1103.5 L1881.9 1100.2 L1890.6 1099.2 L1901.6 1097.6 L1910.4 1096.3 L1919.2 1094.3 L1925.8 1097.0 L1934.6 1098.5 L1936.8 1103.5 L1947.8 1103.5 L1960.9 1102.9 L1969.7 1105.7 L1976.3 1109.0 L1980.7 1107.9 L1991.7 1107.9 L1996.1 1105.7 L2009.3 1106.2 L2018.1 1107.9 L2024.7 1109.4 L2035.6 1109.2 L2040.0 1111.2 L2042.2 1112.3 L2055.4 1112.1 L2062.0 1111.2 L2075.2 1111.6 L2084.0 1113.6 L2092.8 1117.3 L2099.4 1119.5 L2106.0 1120.0 L2101.6 1122.2 L2100.5 1123.2 L2088.4 1122.2 L2081.8 1122.8 L2079.6 1127.6 L2075.2 1128.7 L2068.6 1130.9 L2062.0 1133.1 L2053.2 1133.1 L2048.8 1133.5 L2046.6 1137.5 L2044.4 1140.8 L2040.0 1145.1 L2035.6 1150.6 L2032.8 1152.8 L2030.2 1144.0 L2030.2 1138.6 L2033.4 1137.9 L2040.0 1132.0 L2042.2 1129.2 L2038.9 1129.4 L2033.4 1129.8 L2026.9 1134.2 L2018.1 1134.2 L2011.5 1134.6 L2002.7 1134.6 L1996.1 1137.5 L1987.3 1145.1 L1993.9 1146.2 L1997.2 1148.4 L1998.3 1152.8 L1997.2 1158.3 L1992.8 1162.7 L1987.3 1168.1 L1980.7 1171.0 L1976.3 1171.2 L1973.0 1174.7 L1973.0 1176.9 L1969.7 1179.1 L1972.6 1183.5 L1972.8 1187.4 L1967.5 1188.9 L1966.0 1188.7 L1966.4 1183.9 L1965.3 1181.3 L1963.1 1178.0 L1956.6 1175.8 L1955.5 1179.1 L1954.4 1175.1 L1950.0 1178.4 L1947.8 1179.1 L1946.7 1180.6 L1949.5 1182.6 L1953.3 1181.7 L1957.7 1182.8 L1953.3 1185.2 L1950.4 1187.8 L1953.9 1193.3 L1956.1 1196.6 L1956.6 1199.2 L1955.5 1202.7 L1951.3 1208.7 L1945.6 1212.6 L1939.0 1215.7 L1932.4 1217.4 L1930.8 1219.8 L1929.3 1217.4 L1925.8 1217.2 L1922.7 1220.3 L1920.7 1223.3 L1922.7 1226.6 L1927.6 1231.0 L1928.7 1236.0 L1928.4 1239.3 L1923.6 1241.7 L1919.2 1245.4 L1918.8 1241.7 L1914.8 1239.3 L1913.7 1237.6 L1910.0 1236.7 L1908.2 1234.9 L1906.5 1242.2 L1908.9 1246.3 L1909.3 1249.2 L1914.8 1252.5 L1915.7 1255.7 L1917.4 1261.4 L1915.9 1261.7 L1911.1 1258.1 L1908.9 1252.5 L1904.5 1247.0 L1904.9 1242.6 L1905.4 1237.1 L1902.9 1228.4 L1900.5 1227.9 L1896.1 1229.5 L1895.5 1224.0 L1891.5 1219.2 L1890.0 1215.2 L1887.3 1216.3 L1883.8 1217.2 L1879.7 1217.9 L1878.6 1220.7 L1875.3 1222.2 L1869.3 1228.1 L1864.9 1229.9 L1864.7 1235.4 L1863.8 1241.9 L1860.5 1245.0 L1858.8 1247.0 L1856.8 1245.0 L1855.1 1239.8 L1852.4 1232.7 L1849.8 1229.5 L1848.5 1222.2 L1848.0 1217.4 L1843.4 1218.9 L1840.1 1215.4 L1842.3 1214.3 L1839.0 1213.0 L1834.8 1208.9 L1830.2 1209.3 L1823.6 1209.5 L1814.6 1208.2 L1812.4 1205.2 L1808.7 1206.5 L1801.7 1203.4 L1798.6 1198.6 L1795.1 1199.0 L1794.0 1200.3 L1797.3 1205.2 L1798.8 1207.1 L1801.7 1209.1 L1801.9 1211.5 L1807.2 1211.7 L1811.6 1207.6 L1812.4 1210.0 L1815.5 1212.8 L1819.9 1215.2 L1817.0 1219.8 L1815.3 1222.9 L1809.4 1227.3 L1802.8 1229.7 L1796.2 1233.2 L1787.4 1236.5 L1784.1 1236.7 L1782.6 1232.1 L1782.1 1227.9 L1779.0 1223.3 L1774.6 1217.4 L1773.1 1212.8 L1770.2 1208.7 L1766.7 1204.1 L1765.2 1199.9 L1763.9 1203.6 L1762.1 1201.9 L1760.1 1199.0 L1759.5 1196.0 L1763.7 1196.0 L1765.4 1192.2 L1767.4 1186.8 L1768.1 1184.3 L1764.3 1183.9 L1759.9 1185.4 L1755.5 1184.6 L1750.0 1184.1 L1748.3 1182.4 L1746.3 1180.2 L1747.0 1178.0 L1746.1 1176.7 L1752.2 1174.7 L1757.7 1174.3 L1765.4 1172.5 L1772.0 1174.7 L1779.7 1173.6 L1780.1 1171.2 L1776.2 1169.5 L1772.0 1167.0 L1770.9 1165.3 L1774.2 1161.6 L1765.4 1163.1 L1766.5 1165.3 L1762.1 1167.0 L1759.9 1164.9 L1756.6 1162.4 L1756.0 1162.7 L1753.6 1165.5 L1751.6 1168.1 L1749.4 1171.2 L1750.0 1173.6 L1746.3 1174.9 L1741.2 1175.4 L1740.6 1177.1 L1738.6 1175.8 L1738.2 1180.2 L1740.1 1181.3 L1739.1 1184.6 L1736.2 1183.9 L1735.3 1181.7 L1732.9 1177.8 L1731.1 1173.0 L1729.2 1171.4 L1723.7 1169.2 L1719.3 1165.5 L1718.4 1164.2 L1715.5 1165.3 L1715.5 1167.5 L1718.4 1169.2 L1720.4 1172.5 L1723.7 1173.8 L1729.2 1176.5 L1725.9 1178.0 L1725.0 1180.4 L1723.0 1181.3 L1724.1 1178.0 L1722.6 1176.7 L1719.3 1174.7 L1714.9 1172.7 L1711.6 1170.5 L1709.4 1167.7 L1707.0 1168.1 L1704.3 1168.8 L1699.5 1169.5 L1695.3 1170.3 L1695.6 1172.5 L1690.7 1174.7 L1690.3 1175.6 L1687.9 1178.0 L1689.0 1179.7 L1687.0 1182.2 L1683.9 1184.1 L1678.9 1184.1 L1676.2 1185.7Z M1006.4 1162.7 L1009.6 1161.6 L1014.0 1162.0 L1014.5 1165.3 L1010.3 1165.3 L1010.1 1167.0 L1013.4 1171.4 L1013.6 1173.6 L1016.2 1174.9 L1016.0 1178.0 L1015.1 1182.8 L1010.7 1183.9 L1006.4 1182.4 L1004.8 1180.2 L1006.4 1176.5 L1004.2 1173.0 L1001.3 1170.3 L1002.0 1167.0 L1006.4 1162.7Z M1026.1 1162.7 L1031.6 1162.7 L1032.7 1166.4 L1029.4 1168.6 L1026.1 1166.0 L1026.1 1162.7Z M1126.1 1151.5 L1130.5 1149.5 L1136.0 1146.2 L1138.2 1143.0 L1137.1 1142.3 L1132.7 1147.3 L1128.3 1150.2 L1126.1 1151.5Z M1060.2 1163.1 L1064.6 1162.7 L1071.2 1162.4 L1071.2 1163.8 L1064.6 1164.2 L1060.2 1163.1Z M885.1 1155.0 L891.0 1153.7 L900.5 1152.4 L901.3 1149.1 L898.3 1147.8 L897.4 1145.1 L894.1 1142.7 L892.8 1141.2 L893.6 1138.4 L890.8 1136.2 L886.6 1136.2 L884.0 1138.6 L885.5 1141.9 L886.8 1143.8 L890.6 1144.3 L890.6 1147.3 L887.5 1147.8 L888.4 1150.2 L886.0 1151.3 L890.3 1151.9 L885.1 1155.0Z M1676.0 1155.0 L1681.9 1153.7 L1691.4 1152.4 L1692.3 1149.1 L1689.2 1147.8 L1688.3 1145.1 L1685.0 1142.7 L1683.7 1141.2 L1684.6 1138.4 L1681.7 1136.2 L1677.5 1136.2 L1674.9 1138.6 L1676.4 1141.9 L1677.8 1143.8 L1681.5 1144.3 L1681.5 1147.3 L1678.4 1147.8 L1679.3 1150.2 L1676.9 1151.3 L1681.3 1151.9 L1676.0 1155.0Z M1675.3 1150.2 L1675.1 1146.2 L1676.0 1144.7 L1672.0 1143.4 L1670.1 1145.1 L1666.6 1146.2 L1667.4 1149.5 L1666.1 1151.1 L1670.9 1151.3 L1675.3 1150.2Z M1639.1 1124.3 L1635.8 1121.1 L1640.2 1119.1 L1653.4 1118.9 L1657.8 1121.1 L1656.7 1123.5 L1649.0 1125.7 L1639.1 1124.3Z M921.8 1092.6 L932.8 1089.3 L948.1 1088.9 L956.9 1090.4 L941.5 1093.7 L934.9 1096.7 L927.3 1094.1 L921.8 1092.6Z M1011.8 1107.9 L1018.4 1103.5 L1022.8 1099.2 L1036.0 1097.0 L1048.1 1096.3 L1033.8 1100.2 L1023.9 1104.6 L1020.6 1109.0 L1014.0 1109.4 L1011.8 1107.9Z M1108.5 1091.5 L1117.3 1087.1 L1128.3 1088.2 L1126.1 1092.6 L1117.3 1091.5 L1108.5 1091.5Z M1198.6 1100.2 L1207.4 1098.1 L1225.0 1099.2 L1214.0 1102.4 L1200.8 1102.4 L1198.6 1100.2Z M1072.9 1247.0 L1073.8 1243.0 L1077.5 1248.5 L1076.0 1250.9 L1073.6 1251.4 L1072.9 1247.0Z M1136.2 1222.5 L1140.4 1220.5 L1141.5 1221.6 L1138.2 1224.6 L1136.2 1222.5Z M1161.5 1214.1 L1163.4 1209.3 L1165.6 1209.8 L1163.4 1216.3 L1161.5 1214.1Z M1185.2 1190.0 L1188.9 1186.8 L1195.3 1186.5 L1198.1 1183.0 L1204.1 1180.6 L1205.2 1176.9 L1205.6 1174.1 L1208.5 1174.1 L1209.6 1178.7 L1207.2 1183.5 L1206.9 1186.3 L1204.7 1187.8 L1201.9 1188.7 L1198.6 1188.7 L1195.3 1191.1 L1193.1 1188.7 L1188.3 1189.4 L1185.2 1190.0Z M1182.3 1191.8 L1184.3 1190.3 L1187.4 1191.8 L1186.1 1195.7 L1183.6 1196.2 L1182.3 1191.8Z M1188.7 1191.8 L1193.5 1189.6 L1192.7 1191.6 L1188.7 1191.8Z M1205.2 1173.6 L1207.8 1169.9 L1209.1 1165.1 L1212.9 1167.7 L1216.8 1167.5 L1217.3 1169.9 L1212.9 1172.5 L1207.8 1171.6 L1205.2 1173.6Z M1209.6 1163.8 L1210.7 1157.2 L1210.0 1151.7 L1211.3 1145.6 L1212.4 1149.5 L1212.2 1156.1 L1212.9 1162.7 L1209.6 1163.8Z M1161.2 1224.0 L1166.3 1224.0 L1166.1 1228.8 L1164.8 1229.9 L1165.6 1233.8 L1170.5 1234.9 L1170.0 1236.9 L1166.7 1234.9 L1163.4 1234.3 L1162.6 1233.2 L1161.2 1229.5 L1162.1 1226.2 L1161.2 1224.0Z M1165.6 1249.2 L1168.5 1247.4 L1173.1 1243.3 L1175.5 1247.0 L1174.9 1250.7 L1172.9 1252.2 L1170.0 1250.7 L1165.6 1249.2Z M1165.6 1241.5 L1168.9 1239.3 L1172.2 1237.1 L1173.8 1240.4 L1171.1 1242.6 L1167.8 1244.4 L1165.6 1241.5Z M1137.1 1261.2 L1138.4 1259.9 L1141.5 1260.8 L1147.6 1257.1 L1151.4 1252.9 L1154.6 1249.2 L1159.5 1252.9 L1156.8 1254.9 L1156.4 1260.3 L1159.0 1262.5 L1155.7 1264.5 L1153.8 1269.3 L1152.5 1272.8 L1149.2 1272.4 L1145.9 1271.5 L1142.8 1271.1 L1139.7 1270.9 L1139.3 1267.3 L1137.1 1263.4 L1137.1 1261.2Z M1107.0 1252.2 L1111.8 1253.1 L1118.2 1259.7 L1125.6 1265.6 L1127.2 1270.0 L1130.5 1271.5 L1130.0 1277.2 L1127.2 1277.4 L1122.4 1273.3 L1118.6 1267.8 L1114.2 1260.8 L1111.1 1257.3 L1107.0 1252.2Z M1128.7 1279.4 L1136.0 1278.5 L1141.5 1278.5 L1145.0 1279.6 L1149.2 1281.6 L1148.7 1283.6 L1141.5 1282.5 L1134.9 1281.6 L1130.5 1280.7 L1128.7 1279.4Z M1151.4 1283.1 L1159.0 1282.9 L1167.8 1282.7 L1176.6 1282.9 L1174.4 1284.9 L1170.0 1286.8 L1163.4 1285.7 L1156.8 1284.2 L1151.4 1283.1Z M1160.1 1276.5 L1162.3 1276.8 L1161.9 1270.9 L1164.5 1274.8 L1167.4 1274.6 L1164.1 1268.7 L1168.7 1266.5 L1163.4 1267.3 L1161.5 1263.4 L1163.7 1261.7 L1172.0 1261.2 L1172.2 1262.3 L1162.3 1263.4 L1160.6 1265.6 L1158.6 1270.4 L1160.1 1276.5Z M1177.7 1260.6 L1179.9 1261.2 L1178.8 1264.5 L1180.4 1266.3 L1177.7 1265.6 L1177.7 1260.6Z M1185.4 1267.6 L1192.0 1266.3 L1194.2 1271.9 L1200.8 1268.0 L1207.4 1270.2 L1215.1 1272.8 L1217.9 1276.1 L1221.7 1277.9 L1221.2 1281.6 L1224.5 1284.2 L1228.2 1287.5 L1225.0 1287.1 L1220.6 1286.0 L1218.4 1282.5 L1214.0 1281.4 L1210.9 1284.9 L1207.4 1284.4 L1203.4 1282.2 L1200.8 1282.7 L1199.9 1280.9 L1201.9 1279.4 L1200.3 1276.5 L1195.5 1273.9 L1190.2 1273.5 L1187.6 1270.6 L1189.6 1269.5 L1185.4 1267.6Z M1223.9 1276.5 L1228.2 1276.5 L1231.5 1273.7 L1230.4 1276.5 L1227.2 1278.3 L1223.9 1276.5Z M1147.0 1312.7 L1148.1 1321.4 L1150.3 1330.2 L1151.4 1337.9 L1154.6 1341.2 L1160.1 1339.0 L1168.9 1338.7 L1174.4 1335.2 L1181.0 1333.7 L1185.4 1333.5 L1192.0 1335.7 L1195.3 1340.7 L1197.9 1337.9 L1200.3 1335.9 L1200.8 1339.6 L1199.7 1342.2 L1204.1 1342.7 L1205.2 1346.6 L1208.5 1348.6 L1212.9 1349.5 L1216.2 1348.4 L1219.0 1349.9 L1222.5 1347.5 L1227.2 1346.6 L1227.6 1342.7 L1230.4 1337.9 L1232.6 1334.6 L1234.8 1328.0 L1234.2 1321.4 L1231.1 1317.1 L1228.9 1314.0 L1225.6 1311.1 L1223.9 1308.7 L1219.2 1306.1 L1217.3 1300.6 L1216.8 1296.9 L1212.9 1295.2 L1212.9 1291.7 L1210.7 1287.9 L1208.9 1292.5 L1208.5 1298.4 L1206.9 1302.6 L1203.6 1302.6 L1199.7 1299.5 L1195.3 1297.3 L1196.2 1294.5 L1198.1 1291.2 L1194.2 1291.2 L1188.7 1289.7 L1185.8 1291.0 L1183.2 1293.0 L1182.1 1296.9 L1178.8 1297.3 L1175.5 1295.2 L1172.2 1298.4 L1168.9 1301.7 L1166.1 1303.9 L1163.4 1307.2 L1158.6 1309.0 L1154.2 1309.6 L1149.4 1312.2 L1147.0 1312.7Z M1215.3 1353.6 L1223.4 1354.1 L1222.8 1359.1 L1218.4 1360.0 L1215.3 1353.6Z M1277.0 1339.8 L1281.0 1343.8 L1284.1 1346.6 L1289.8 1347.1 L1287.6 1350.3 L1284.7 1354.9 L1281.2 1354.9 L1282.5 1352.8 L1279.9 1350.6 L1281.2 1347.7 L1278.8 1342.2 L1277.0 1339.8Z M1277.0 1353.2 L1280.5 1355.8 L1278.1 1359.8 L1273.7 1362.0 L1270.0 1366.6 L1263.4 1365.2 L1263.8 1363.0 L1267.4 1360.9 L1272.2 1358.2 L1275.5 1355.4 L1277.0 1353.2Z M1319.4 1120.8 L1323.8 1113.6 L1330.4 1112.5 L1333.7 1110.5 L1344.7 1108.4 L1354.6 1109.4 L1363.4 1110.5 L1374.3 1111.2 L1378.7 1112.1 L1387.5 1113.4 L1393.0 1112.3 L1402.9 1111.2 L1409.5 1110.5 L1416.1 1112.3 L1424.9 1113.4 L1435.9 1113.8 L1446.8 1115.6 L1455.6 1114.5 L1468.8 1116.0 L1475.4 1114.5 L1479.8 1115.6 L1490.8 1113.8 L1501.8 1112.3 L1508.4 1112.3 L1509.5 1116.7 L1504.0 1120.0 L1499.6 1124.3 L1490.8 1124.3 L1484.2 1129.2 L1480.9 1134.2 L1484.2 1135.9 L1490.8 1139.0 L1501.8 1143.6 L1507.7 1143.8 L1507.7 1148.6 L1513.9 1151.7 L1515.4 1145.1 L1519.4 1140.8 L1518.3 1136.4 L1517.2 1131.3 L1517.8 1127.8 L1527.0 1128.3 L1532.5 1130.7 L1535.8 1135.3 L1539.1 1136.8 L1543.5 1135.7 L1546.8 1132.4 L1552.3 1138.6 L1553.4 1141.9 L1556.7 1143.4 L1562.6 1144.9 L1565.5 1147.1 L1565.9 1150.2 L1561.1 1152.2 L1556.7 1154.6 L1547.9 1154.6 L1542.4 1156.8 L1547.3 1157.6 L1546.2 1160.0 L1554.5 1164.2 L1556.7 1163.8 L1555.6 1165.7 L1549.0 1167.0 L1543.5 1168.6 L1543.1 1165.5 L1540.2 1167.0 L1534.7 1168.6 L1533.2 1171.9 L1534.7 1173.2 L1529.2 1174.3 L1525.9 1175.8 L1525.9 1178.0 L1523.7 1179.5 L1521.5 1182.8 L1522.2 1185.7 L1520.4 1188.5 L1517.2 1190.3 L1514.5 1191.8 L1510.8 1194.2 L1509.9 1197.7 L1511.4 1202.1 L1512.8 1205.8 L1511.9 1209.3 L1510.1 1209.3 L1508.8 1206.5 L1506.8 1203.2 L1506.6 1200.3 L1504.0 1198.6 L1499.6 1197.9 L1494.1 1197.9 L1491.7 1198.4 L1492.1 1200.6 L1489.7 1200.8 L1485.3 1199.7 L1480.5 1200.1 L1474.8 1203.6 L1474.3 1208.0 L1473.9 1213.0 L1475.0 1218.1 L1476.9 1222.2 L1480.7 1224.6 L1486.4 1223.8 L1488.6 1222.5 L1489.9 1218.7 L1497.4 1217.4 L1496.5 1221.8 L1494.7 1226.0 L1494.1 1229.5 L1499.6 1229.7 L1504.0 1231.0 L1505.5 1233.8 L1504.6 1239.8 L1506.2 1242.6 L1509.7 1245.2 L1513.6 1243.5 L1517.2 1244.8 L1518.7 1245.9 L1517.6 1248.7 L1515.0 1247.0 L1511.7 1248.1 L1509.0 1246.5 L1505.1 1245.9 L1500.2 1242.6 L1500.2 1240.0 L1496.3 1236.0 L1491.9 1234.9 L1487.5 1233.8 L1484.2 1230.1 L1480.7 1229.0 L1476.5 1230.1 L1472.1 1228.8 L1466.6 1226.4 L1461.1 1224.4 L1456.7 1219.6 L1457.2 1217.4 L1454.5 1213.5 L1450.1 1209.1 L1445.8 1203.6 L1442.0 1200.3 L1440.3 1196.2 L1436.3 1195.1 L1437.0 1198.8 L1442.5 1206.5 L1446.8 1211.9 L1447.9 1213.7 L1446.2 1212.8 L1442.0 1210.2 L1437.4 1203.6 L1435.4 1199.2 L1432.1 1194.9 L1431.0 1193.1 L1428.2 1190.0 L1423.6 1188.7 L1420.7 1184.3 L1419.4 1181.7 L1416.5 1177.3 L1415.4 1173.0 L1415.9 1168.1 L1416.1 1163.3 L1414.6 1158.7 L1418.3 1158.9 L1417.2 1156.3 L1412.8 1153.9 L1408.4 1151.7 L1406.2 1148.4 L1402.5 1145.6 L1399.6 1141.9 L1394.1 1137.5 L1388.6 1136.4 L1381.4 1133.8 L1376.5 1133.1 L1370.0 1132.4 L1364.5 1132.0 L1359.0 1134.2 L1355.0 1134.9 L1355.7 1131.3 L1352.4 1135.3 L1350.2 1138.6 L1342.5 1140.8 L1333.7 1143.0 L1327.1 1144.9 L1340.3 1139.0 L1342.5 1135.7 L1333.0 1136.2 L1331.5 1133.1 L1325.4 1130.7 L1326.0 1127.2 L1328.2 1125.9 L1334.8 1125.4 L1335.2 1123.2 L1330.4 1123.2 L1324.9 1123.2 L1319.4 1120.8Z M1558.2 1160.3 L1565.5 1155.7 L1566.6 1151.5 L1572.1 1156.1 L1572.7 1160.5 L1571.0 1162.4 L1565.9 1161.6 L1558.2 1160.3Z M1528.1 1093.2 L1543.5 1087.1 L1556.7 1084.9 L1589.7 1082.7 L1618.2 1081.6 L1644.6 1084.9 L1651.2 1089.3 L1646.8 1095.9 L1644.6 1101.3 L1640.2 1105.7 L1640.2 1111.2 L1633.6 1114.5 L1618.2 1115.6 L1609.4 1121.1 L1600.6 1123.2 L1596.2 1129.8 L1591.9 1133.1 L1587.5 1130.9 L1580.9 1127.6 L1576.5 1123.2 L1573.2 1117.8 L1569.9 1112.3 L1575.4 1110.5 L1567.7 1107.9 L1563.3 1101.3 L1560.0 1098.5 L1550.1 1097.4 L1539.1 1097.6 L1530.3 1094.8 L1528.1 1093.2Z M1553.4 1118.9 L1547.9 1122.2 L1544.6 1127.0 L1539.1 1128.1 L1531.4 1125.2 L1524.8 1123.2 L1517.2 1123.0 L1527.0 1116.0 L1512.8 1112.3 L1501.8 1110.1 L1493.0 1107.9 L1495.2 1103.3 L1512.8 1103.1 L1521.5 1105.7 L1532.5 1109.0 L1540.2 1112.3 L1543.5 1115.6 L1553.4 1118.9Z M1490.8 1097.0 L1495.2 1091.5 L1501.8 1088.2 L1523.7 1083.8 L1552.3 1084.5 L1534.7 1089.3 L1517.2 1093.7 L1512.8 1097.0 L1490.8 1097.0Z M1486.4 1101.3 L1490.8 1097.4 L1508.4 1097.4 L1512.8 1101.1 L1486.4 1101.3Z M1431.5 1111.2 L1444.7 1114.5 L1460.0 1113.8 L1466.6 1111.2 L1460.0 1105.7 L1446.8 1104.6 L1431.5 1104.6 L1427.1 1107.9 L1431.5 1111.2Z M1413.9 1107.3 L1420.5 1101.8 L1431.5 1102.0 L1433.7 1106.8 L1424.9 1108.4 L1413.9 1107.3Z M1433.7 1100.2 L1446.8 1097.0 L1457.8 1098.5 L1451.2 1100.7 L1433.7 1100.2Z M1466.6 1106.8 L1475.4 1102.9 L1479.8 1105.7 L1473.2 1108.4 L1466.6 1106.8Z M1497.4 1124.3 L1510.6 1123.2 L1512.8 1125.4 L1504.0 1127.6 L1497.4 1124.3Z M1406.6 1153.5 L1413.9 1155.0 L1417.2 1158.5 L1413.9 1157.6 L1406.6 1153.5Z M1501.8 1216.5 L1508.4 1213.7 L1518.3 1216.8 L1525.5 1220.3 L1518.3 1220.9 L1511.7 1217.0 L1501.8 1216.5Z M1525.1 1224.0 L1528.6 1220.9 L1534.7 1221.1 L1538.2 1223.8 L1531.4 1226.0 L1525.1 1224.0Z M1518.7 1245.9 L1521.5 1243.7 L1522.6 1241.5 L1525.5 1240.0 L1530.3 1237.6 L1532.5 1239.3 L1531.4 1241.5 L1530.8 1244.4 L1532.5 1241.1 L1538.0 1241.5 L1543.5 1241.3 L1550.1 1241.1 L1553.4 1242.6 L1555.6 1245.9 L1558.9 1247.4 L1563.3 1251.4 L1569.9 1251.8 L1574.3 1254.0 L1576.5 1255.7 L1578.0 1260.6 L1578.7 1264.3 L1582.0 1266.7 L1587.5 1266.7 L1591.2 1270.0 L1596.7 1270.6 L1603.9 1272.6 L1607.2 1275.5 L1611.2 1277.2 L1612.1 1280.9 L1611.2 1284.2 L1607.2 1288.6 L1603.9 1293.0 L1602.8 1298.4 L1602.4 1303.5 L1600.6 1308.3 L1598.4 1312.7 L1596.2 1314.9 L1590.3 1315.5 L1585.3 1317.9 L1582.0 1321.9 L1581.7 1326.9 L1578.7 1331.3 L1575.4 1334.6 L1571.4 1338.3 L1567.9 1340.9 L1563.3 1340.1 L1560.2 1339.6 L1563.3 1343.8 L1562.0 1347.9 L1554.5 1349.9 L1551.6 1349.9 L1552.3 1353.4 L1545.7 1353.9 L1546.8 1357.6 L1547.9 1358.5 L1545.1 1362.6 L1541.3 1364.8 L1540.0 1367.0 L1544.0 1369.2 L1539.8 1373.1 L1536.9 1375.3 L1538.0 1379.0 L1533.6 1380.6 L1531.4 1382.8 L1527.0 1380.1 L1524.2 1374.0 L1522.6 1369.6 L1524.8 1365.2 L1527.0 1358.7 L1526.4 1354.3 L1527.0 1347.7 L1528.8 1342.7 L1531.2 1336.8 L1531.4 1330.2 L1532.8 1323.6 L1533.6 1317.1 L1534.3 1308.3 L1533.9 1304.6 L1531.4 1302.2 L1523.3 1298.0 L1520.9 1293.6 L1517.2 1287.5 L1513.9 1280.9 L1510.1 1277.6 L1510.6 1274.1 L1512.8 1271.7 L1511.9 1270.2 L1511.0 1267.1 L1512.8 1263.4 L1513.9 1261.7 L1516.5 1259.0 L1518.3 1256.2 L1518.7 1250.3 L1517.6 1248.7 L1518.7 1245.9Z M1537.8 1379.7 L1545.7 1385.0 L1538.0 1385.4 L1532.5 1383.2 L1537.8 1379.7Z M1553.8 1376.8 L1561.1 1376.8 L1560.0 1378.8 L1554.5 1378.4 L1553.8 1376.8Z M895.4 1420.1 L900.0 1420.1 L945.1 1418.2 L972.1 1415.0 L982.0 1417.1 L990.1 1413.4 L1008.1 1409.3 L1016.9 1408.8 L1034.9 1412.1 L1050.1 1412.8 L1052.9 1418.2 L1066.8 1416.0 L1080.0 1411.2 L1125.0 1408.8 L1148.1 1408.8 L1193.1 1408.8 L1215.5 1413.4 L1251.5 1418.2 L1271.7 1421.7 L1255.9 1428.5 L1255.9 1434.0 L1249.1 1439.0 L1253.7 1443.4 L1271.7 1445.8 L1300.1 1448.7 L1330.6 1451.7 L1366.7 1451.1 L1350.8 1447.6 L1350.8 1443.0 L1366.7 1440.8 L1348.6 1438.2 L1341.8 1434.0 L1357.7 1431.8 L1391.5 1428.1 L1409.5 1430.7 L1418.5 1425.0 L1434.1 1428.5 L1447.7 1427.2 L1467.9 1425.0 L1476.9 1422.8 L1515.4 1423.9 L1522.0 1420.6 L1533.4 1417.1 L1542.4 1411.4 L1551.4 1407.1 L1567.0 1402.5 L1546.8 1413.9 L1553.6 1421.7 L1551.4 1428.5 L1540.0 1432.9 L1560.4 1434.0 L1583.1 1436.2 L1603.3 1436.2 L1639.3 1427.2 L1661.9 1421.7 L1684.3 1418.2 L1692.9 1420.0 M1686.3 1420.1 L1690.9 1420.1 L1736.0 1418.2 L1763.0 1415.0 L1772.9 1417.1 L1781.0 1413.4 L1799.0 1409.3 L1807.8 1408.8 L1825.8 1412.1 L1841.0 1412.8 L1843.8 1418.2 L1857.7 1416.0 L1870.9 1411.2 L1915.9 1408.8 L1939.0 1408.8 L1984.0 1408.8 L2006.4 1413.4 L2042.5 1418.2 L2062.7 1421.7 L2046.9 1428.5 L2046.9 1434.0 L2040.0 1439.0 L2044.7 1443.4 L2062.7 1445.8 L2091.0 1448.7 L2121.5 1451.7 L2157.6 1451.1 L2141.8 1447.6 L2141.8 1443.0 L2157.6 1440.8 L2139.6 1438.2 L2132.8 1434.0 L2148.6 1431.8 L2182.4 1428.1 L2200.4 1430.7 L2209.4 1425.0 L2225.0 1428.5 L2238.6 1427.2 L2258.9 1425.0 L2267.9 1422.8 L2306.3 1423.9 L2312.9 1420.6 L2324.3 1417.1 L2333.3 1411.4 L2342.3 1407.1 L2357.9 1402.5 L2337.7 1413.9 L2344.5 1421.7 L2342.3 1428.5 L2330.9 1432.9 L2351.4 1434.0 L2374.0 1436.2 L2394.2 1436.2 L2430.2 1427.2 L2452.9 1421.7 L2475.3 1418.2 L2483.8 1420.0 M104.5 1420.1 L109.1 1420.1 L154.1 1418.2 L181.2 1415.0 L191.0 1417.1 L199.2 1413.4 L217.2 1409.3 L226.0 1408.8 L244.0 1412.1 L259.2 1412.8 L262.0 1418.2 L275.8 1416.0 L289.0 1411.2 L334.1 1408.8 L357.1 1408.8 L402.2 1408.8 L424.6 1413.4 L460.6 1418.2 L480.8 1421.7 L465.0 1428.5 L465.0 1434.0 L458.2 1439.0 L462.8 1443.4 L480.8 1445.8 L509.2 1448.7 L539.7 1451.7 L575.7 1451.1 L559.9 1447.6 L559.9 1443.0 L575.7 1440.8 L557.7 1438.2 L550.9 1434.0 L566.7 1431.8 L600.6 1428.1 L618.6 1430.7 L627.6 1425.0 L643.2 1428.5 L656.8 1427.2 L677.0 1425.0 L686.0 1422.8 L724.5 1423.9 L731.1 1420.6 L742.5 1417.1 L751.5 1411.4 L760.5 1407.1 L776.1 1402.5 L755.9 1413.9 L762.7 1421.7 L760.5 1428.5 L749.1 1432.9 L769.5 1434.0 L792.1 1436.2 L812.4 1436.2 L848.4 1427.2 L871.0 1421.7 L893.4 1418.2 L902.0 1420.0 M1486.4 1162.2 L1493.0 1158.9 L1499.6 1157.6 L1502.2 1161.8 L1497.4 1162.7 L1486.4 1162.2Z M1495.6 1172.5 L1496.9 1167.0 L1500.7 1164.2 L1502.2 1164.2 L1499.6 1168.1 L1498.5 1172.1 L1495.6 1172.5Z M1502.9 1164.0 L1509.9 1164.4 L1512.8 1167.0 L1509.0 1169.7 L1507.3 1168.6 L1505.1 1167.5 L1502.9 1164.0Z M1505.3 1173.2 L1510.6 1171.2 L1515.0 1170.5 L1511.9 1172.3 L1505.3 1173.2Z M1513.2 1169.7 L1520.9 1167.7 L1521.1 1169.2 L1513.2 1169.7Z M1431.5 1130.9 L1438.1 1127.6 L1445.8 1127.0 L1440.3 1129.8 L1431.5 1130.9Z M1413.9 1122.2 L1422.7 1118.2 L1429.3 1119.3 L1424.9 1122.2 L1413.9 1122.2Z M1471.0 1152.8 L1475.4 1146.7 L1476.5 1150.6 L1471.0 1152.8Z M967.5 1267.8 L969.0 1264.1 L972.3 1264.1 L974.1 1266.7 L971.2 1270.2 L967.5 1270.0 L967.5 1267.8Z M961.8 1271.9 L964.6 1283.1 L965.7 1282.0 L962.4 1272.2 L961.8 1271.9Z M972.7 1285.3 L974.5 1295.8 L973.6 1290.8 L972.7 1285.3Z M1346.0 1222.7 L1348.0 1221.8 L1346.2 1220.3 L1346.0 1222.7Z M1287.1 1302.8 L1290.0 1302.2 L1289.8 1304.4 L1287.1 1302.8Z M1257.9 1308.7 L1264.5 1313.3 L1263.4 1313.3 L1257.9 1308.7Z M1241.4 1279.8 L1249.1 1284.2 L1252.4 1286.4 L1244.7 1282.0 L1241.4 1279.8Z M1049.2 1371.8 L1052.5 1372.2 L1050.3 1373.3 L1049.2 1371.8Z M1000.9 1088.2 L1029.4 1087.1 L1040.4 1088.2 L1018.4 1089.3 L1000.9 1088.2Z M1516.5 1224.2 L1520.9 1224.6 L1519.8 1225.3 L1516.5 1224.2Z M1540.9 1224.2 L1544.4 1224.2 L1544.0 1225.1 L1540.9 1224.2Z M968.6 1187.8 L973.4 1186.5 L972.1 1188.3 L968.6 1187.8Z M916.5 1174.7 L918.5 1170.5 L918.7 1174.9 L919.1 1178.7 L916.1 1179.1 L916.5 1174.7Z M924.8 1181.1 L931.9 1180.8 L930.8 1184.1 L924.8 1181.1Z M949.2 1186.8 L955.4 1187.4 L951.4 1188.1 L949.2 1186.8Z" fill="none" stroke="#000" stroke-width="1.3" stroke-linejoin="round"/>
<path d="M964.3 1196.0 L963.7 1200.0 L966.8 1208.5 L967.9 1212.7 L963.7 1217.0 L957.3 1221.2 L955.2 1225.5 L955.2 1230.8 L950.9 1234.0 L949.9 1239.3 L948.8 1244.6 M964.3 1196.0 L969.0 1200.0 L973.2 1208.5 L974.3 1215.9 L977.5 1224.4 L982.8 1229.7 L984.9 1235.0 L983.8 1242.4 L978.5 1245.6 L974.3 1252.0 L972.1 1255.2 L974.3 1260.5 L975.3 1266.8 L973.2 1272.1 L969.0 1274.3 M948.8 1244.6 L942.4 1247.7 L936.1 1249.9 L931.8 1250.9 L926.5 1253.1 L923.3 1257.3 L926.5 1261.5 L928.6 1267.9 L927.6 1274.3 L926.5 1278.5 L928.6 1280.6 L931.8 1284.9 L936.1 1288.1 L938.2 1292.3 M948.8 1244.6 L955.2 1249.9 L961.5 1255.2 L964.7 1260.5 L962.6 1265.8 L961.5 1274.3 L963.7 1280.6 L967.9 1283.8 L971.1 1284.4 M900.0 1220.2 L906.4 1218.0 L911.7 1212.7 L915.9 1214.9 L917.0 1221.2 L915.9 1227.6 L914.9 1235.0 L913.8 1239.3 L918.0 1240.3 L923.3 1239.3 L928.6 1242.4 L930.8 1244.6 L926.5 1246.7 L924.4 1248.8 L921.2 1249.9 L915.9 1248.8 L912.7 1249.9 L910.6 1253.1 M900.0 1239.3 L904.2 1242.4 L908.5 1246.7 L912.7 1249.9 M932.9 1292.3 L929.7 1298.7 L927.6 1304.0 L929.7 1307.2 L931.8 1309.3 L935.0 1309.3 L932.9 1312.5 L932.9 1318.8 L935.0 1327.3 L938.2 1331.6 L942.4 1335.8 L946.7 1334.7 L953.1 1333.7 L958.4 1331.6 L960.5 1327.3 L963.7 1322.0 L967.9 1319.9 M935.0 1309.3 L938.2 1311.4 L942.4 1313.5 L946.7 1314.6 L950.9 1316.7 L955.2 1318.8 L959.4 1321.0 L963.7 1322.0 M955.2 1308.2 L954.1 1314.6 L953.1 1318.8 M958.4 1308.2 L963.7 1310.3 L967.9 1311.4 L972.1 1312.5 L973.2 1316.7 L972.1 1319.9 L969.0 1321.0 M968.8 1139.8 L971.7 1133.9 L982.0 1133.2 L992.2 1133.9 L1003.9 1132.5 L1015.7 1131.7 L1027.4 1129.5 M968.8 1139.8 L974.6 1147.1 L984.9 1148.6 L993.7 1151.5 L996.6 1155.9 L999.5 1163.2 M1027.4 1129.5 L1028.8 1123.7 L1037.6 1119.3 L1047.9 1116.4 L1050.8 1119.3 L1052.3 1125.2 L1062.5 1126.6 L1077.2 1128.1 L1084.5 1128.1 M1027.4 1129.5 L1028.8 1148.6 L1037.6 1151.5 L1047.9 1154.4 L1062.5 1157.4 L1077.2 1160.3 L1088.9 1161.8 L1097.7 1163.2 L1099.2 1160.3 L1091.8 1155.9 L1090.4 1151.5 L1094.8 1145.7 L1099.2 1139.8 L1096.2 1136.9 L1088.9 1133.9 L1086.0 1128.1 L1084.5 1119.3 L1083.0 1109.0 M1083.0 1109.0 L1091.8 1114.9 L1106.5 1119.3 L1121.1 1120.8 L1135.8 1119.3 L1150.4 1116.4 L1165.1 1110.5 L1175.3 1106.1 L1179.7 1106.1 L1179.7 1119.3 L1188.5 1122.2 L1200.2 1123.7 L1206.1 1129.5 L1203.2 1138.3 L1194.4 1142.7 L1179.7 1144.2 L1165.1 1145.7 L1150.4 1148.6 L1143.1 1150.1 M1135.8 1119.3 L1134.3 1125.2 L1135.8 1133.9 L1128.4 1136.9 L1127.0 1145.7 L1132.8 1150.1 L1143.1 1147.1 L1146.0 1141.3 M1097.7 1163.2 L1106.5 1160.3 L1121.1 1161.8 L1135.8 1163.2 L1150.4 1164.7 L1165.1 1169.1 L1176.8 1172.0 L1188.5 1167.6 L1197.3 1160.3 L1203.2 1151.5 L1206.1 1144.2 L1203.2 1138.3 M1061.1 1144.9 L1077.2 1142.7 L1077.2 1150.1 L1072.8 1154.4 L1068.4 1151.5 L1061.1 1144.9 M1043.5 1207.2 L1045.0 1195.5 L1049.4 1188.1 L1059.6 1185.2 L1068.4 1186.7 L1075.7 1192.5 L1077.2 1196.9 M1096.2 1188.1 L1103.5 1186.7 L1112.3 1192.5 L1113.8 1201.3 L1112.3 1207.2 M1046.4 1210.1 L1050.8 1216.0 L1059.6 1218.9 L1065.5 1221.8 L1077.2 1224.8 L1081.6 1221.8 M1112.3 1183.7 L1121.1 1180.8 L1129.9 1177.9 L1132.8 1175.0 L1140.2 1175.0 L1144.6 1177.9 L1146.0 1185.2 L1154.8 1186.7 L1160.7 1192.5 L1163.6 1201.3 L1160.7 1210.1 L1150.4 1210.1 L1141.6 1211.6 L1135.8 1210.1 L1127.0 1208.6 L1121.1 1207.2 L1115.3 1204.3 M1113.8 1207.2 L1118.2 1218.9 L1124.1 1229.2 L1128.4 1236.5 L1129.9 1242.3 L1134.3 1236.5 L1134.3 1230.6 L1128.4 1224.8 L1124.1 1217.4 L1121.1 1210.1 M1106.5 1214.5 L1107.9 1221.8 L1112.3 1229.2 M1115.3 1192.5 L1128.4 1191.1 L1143.1 1189.6 L1154.8 1191.1 M1186.5 1316.5 L1187.3 1314.2 L1190.5 1312.6 L1192.1 1310.2 L1195.2 1308.6 L1198.4 1307.1 L1199.9 1306.3 L1202.3 1307.9 L1204.7 1310.2 L1207.0 1311.8 L1211.0 1311.0 L1214.9 1310.6 M1215.7 1318.9 L1218.9 1318.5 L1222.8 1319.7 L1226.8 1321.3 L1229.9 1322.1 L1231.5 1325.2 L1230.7 1329.9 L1227.5 1333.1 L1226.8 1338.6 L1225.2 1341.0 L1224.4 1344.1 L1222.0 1344.9 L1218.9 1345.7 L1215.7 1346.5 L1212.6 1345.7 L1209.4 1344.9 L1206.2 1343.3 L1203.9 1341.0 L1203.1 1337.8 L1203.1 1334.7 L1201.5 1332.3 L1199.1 1330.7 L1195.2 1329.1 L1192.1 1326.8 L1189.7 1323.6 L1187.3 1322.1 L1185.7 1320.5 L1186.5 1316.5 M1203.1 1334.7 L1206.2 1335.5 L1209.4 1333.1 L1211.0 1331.5 M1208.6 1328.4 L1211.0 1325.2 L1214.1 1321.3 L1215.7 1319.7 L1217.3 1322.1 L1217.3 1326.8 L1215.7 1331.5 L1213.3 1332.3 L1210.2 1331.5 L1208.6 1328.4 M1181.0 1300.0 L1182.6 1297.6 L1184.2 1297.6 L1186.5 1296.0 L1188.9 1294.4 L1191.3 1293.7 L1193.6 1294.4 L1194.4 1296.8 L1193.6 1299.2 L1191.3 1300.0 L1189.7 1300.8 L1188.1 1301.5 L1186.5 1304.7 L1185.7 1306.3 L1184.2 1306.3 L1182.6 1303.9 L1181.0 1301.5 L1181.0 1300.0 M1147.1 1318.9 L1150.3 1317.3 L1152.6 1316.5 L1155.8 1317.3 L1158.9 1318.1 L1160.5 1319.7 L1159.7 1322.8 L1158.9 1325.2 L1156.6 1326.0 L1154.2 1325.2 L1151.0 1325.2 L1148.7 1324.4 L1147.5 1322.1 L1147.1 1318.9 M1381.0 1121.8 L1386.1 1120.3 L1391.2 1115.2 L1392.2 1113.2 L1395.2 1115.2 L1402.3 1116.2 L1410.4 1118.3 L1416.5 1118.3 L1422.6 1116.2 L1427.7 1117.2 L1430.7 1119.3 L1434.8 1120.3 L1440.8 1121.3 L1449.0 1124.3 L1453.0 1126.4 L1454.0 1130.4 L1459.1 1132.5 L1461.1 1135.5 L1459.1 1138.5 L1454.0 1139.5 L1449.0 1140.6 L1444.9 1142.6 L1438.8 1145.6 L1434.8 1147.7 L1430.7 1149.7 L1426.6 1147.7 L1420.6 1145.6 L1414.5 1143.6 L1410.4 1140.6 L1407.4 1137.5 L1403.3 1135.5 L1400.3 1132.5 L1399.3 1129.4 L1402.3 1127.4 L1400.3 1124.3 L1393.2 1123.3 L1386.1 1123.3 L1381.0 1121.8 M1566.8 1297.6 L1570.7 1301.5 L1572.3 1303.1 L1577.0 1302.3 L1583.3 1298.4 L1584.9 1303.1 L1587.3 1308.6 L1592.0 1311.0 L1588.8 1314.1 L1584.1 1317.3 L1580.2 1318.9 L1577.8 1322.0 L1571.5 1322.8 L1566.8 1324.4 L1563.6 1326.8 L1561.2 1329.1 L1559.7 1333.1 L1558.9 1339.4 L1556.5 1340.9 L1551.0 1339.4 L1547.0 1337.0 L1546.2 1334.6 L1551.0 1333.8 L1551.8 1330.7 L1549.4 1326.8 L1545.5 1323.6 L1543.1 1322.8 L1542.3 1318.9 L1542.3 1312.6 L1542.3 1307.8 L1543.1 1306.2 M1687.6 1224.4 L1683.6 1227.4 L1679.6 1227.4 L1675.7 1229.3 L1672.7 1232.3 L1669.7 1235.3 L1666.7 1238.3 L1663.7 1240.3 L1663.7 1243.3 L1666.7 1245.2 L1669.7 1246.2 L1672.7 1244.3 L1675.7 1240.3 L1678.6 1236.3 L1680.6 1233.3 L1682.6 1232.3 L1684.6 1234.3 L1687.6 1238.3" fill="none" stroke="#ff00ff" stroke-width="1.2" stroke-linejoin="round"/>
<path d="M938.2 1292.3 L944.6 1289.1 L949.9 1288.6 L955.2 1290.2 L959.4 1292.3 L962.6 1293.4 L965.8 1290.2 L969.0 1285.9 L971.1 1284.4 L974.3 1284.9 L975.9 1286.5 L974.8 1290.2 L975.3 1295.5 L975.9 1300.8 L975.9 1305.0 L972.1 1305.0 L967.9 1305.0 L963.7 1307.2 L959.4 1308.8 L956.2 1306.1 L953.1 1305.0 L949.9 1305.0 L946.7 1306.1 L943.5 1304.0 L940.3 1301.9 L939.8 1297.6 L938.7 1294.4Z M1068.4 1196.9 L1075.7 1198.4 L1083.0 1199.1 L1088.9 1198.4 L1096.2 1197.7 L1102.1 1196.9 L1107.9 1198.4 L1111.6 1201.3 L1109.4 1205.7 L1105.0 1208.6 L1102.1 1213.0 L1096.2 1213.8 L1091.8 1213.0 L1086.0 1213.8 L1080.1 1215.2 L1074.3 1214.5 L1068.4 1214.5 L1064.0 1213.0 L1059.6 1210.1 L1062.5 1207.2 L1065.5 1204.3 L1066.9 1199.9Z M1214.9 1304.7 L1216.5 1304.3 L1218.9 1306.3 L1222.0 1308.6 L1224.4 1310.2 L1222.8 1312.6 L1221.2 1315.0 L1219.7 1318.1 L1218.9 1316.5 L1218.1 1314.2 L1216.5 1311.0 L1215.3 1308.6 L1214.5 1307.1Z M1439.8 1157.8 L1444.9 1156.8 L1451.0 1154.8 L1454.0 1154.8 L1459.1 1156.8 L1464.2 1158.8 L1469.2 1160.8 L1474.3 1163.9 L1477.4 1162.9 L1480.4 1160.8 L1483.4 1160.8 L1487.5 1162.9 L1491.6 1164.9 L1492.6 1169.0 L1495.6 1173.0 L1501.7 1176.1 L1507.8 1175.0 L1514.9 1172.0 L1515.9 1175.0 L1513.9 1180.1 L1511.8 1184.2 L1507.8 1187.2 L1501.7 1189.2 L1495.6 1189.2 L1491.6 1192.3 L1489.5 1196.3 L1491.6 1200.4 L1487.5 1197.4 L1481.4 1194.3 L1475.3 1192.3 L1469.2 1191.3 L1463.2 1189.2 L1458.1 1187.2 L1456.1 1184.2 L1455.0 1179.1 L1453.0 1175.0 L1449.0 1173.0 L1445.9 1170.0 L1442.9 1167.9 L1439.8 1166.9 L1438.3 1164.9 L1439.8 1161.9Z M1514.7 1266.0 L1517.9 1262.1 L1523.4 1258.9 L1528.9 1260.5 L1535.2 1259.7 L1539.9 1258.1 L1544.7 1258.9 L1547.0 1256.6 L1553.3 1255.0 L1555.7 1253.4 L1557.3 1255.8 L1558.1 1261.3 L1562.8 1259.7 L1567.5 1258.9 L1571.5 1259.7 L1573.1 1263.7 L1575.4 1266.8 L1576.2 1273.1 L1577.0 1279.4 L1576.2 1285.0 L1574.6 1288.9 L1574.6 1293.6 L1572.3 1296.8 L1566.8 1296.0 L1562.0 1296.0 L1557.3 1298.4 L1555.7 1301.5 L1554.9 1305.5 L1551.0 1307.0 L1547.8 1309.4 L1544.7 1307.0 L1542.3 1305.5 L1539.1 1302.3 L1536.8 1299.1 L1535.2 1296.8 L1531.3 1297.6 L1527.3 1296.8 L1524.2 1294.4 L1521.8 1291.3 L1519.4 1288.1 L1517.1 1284.2 L1515.5 1279.4 L1514.7 1275.5 L1514.7 1270.0Z" fill="#88ff77" stroke="#0000ff" stroke-width="1.4" stroke-linejoin="round"/>
</g>
<path d="M1007.5 1458.6v-6 M1117.3 1458.6v-6 M1227.2 1458.6v-6 M1337.0 1458.6v-6 M1446.8 1458.6v-6 M1556.7 1458.6v-6 M1666.6 1458.6v-6 M900 1155.0h5.5 M900 1264.5h5.5 M900 1374.0h5.5" stroke="#262626" stroke-width="1.3" fill="none"/>
<rect x="897" y="1068.7" width="791" height="392.9" fill="none" stroke="#000" stroke-width="6"/>
</g>
<text x="914" y="1398" font-size="43" font-weight="bold" fill="#000">(f)</text>
<text x="1478.7" y="1294.4" font-size="31.5" fill="#ff0000" stroke="#ff0000" stroke-width="0.25" textLength="34.1" lengthAdjust="spacingAndGlyphs">(a)</text>
<text x="1224.5" y="1315.5" font-size="31.5" fill="#ff0000" stroke="#ff0000" stroke-width="0.25" textLength="36.6" lengthAdjust="spacingAndGlyphs">(b)</text>
<text x="1073.5" y="1255.5" font-size="31.5" fill="#ff0000" stroke="#ff0000" stroke-width="0.25" textLength="34.5" lengthAdjust="spacingAndGlyphs">(c)</text>
<text x="1519.0" y="1199.5" font-size="31.5" fill="#ff0000" stroke="#ff0000" stroke-width="0.25" textLength="36.7" lengthAdjust="spacingAndGlyphs">(d)</text>
<text x="973.9" y="1342.0" font-size="31.5" fill="#ff0000" stroke="#ff0000" stroke-width="0.25" textLength="34.9" lengthAdjust="spacingAndGlyphs">(e)</text>
</svg>
</body></html>
